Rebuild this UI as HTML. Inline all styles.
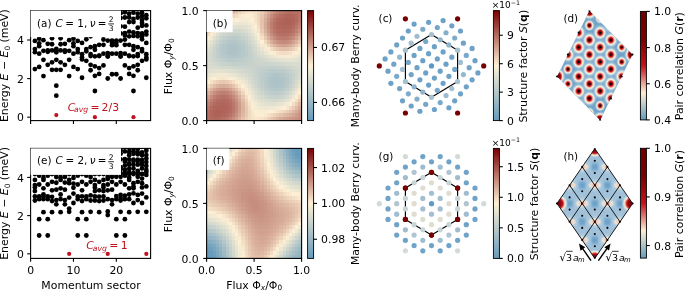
<!DOCTYPE html>
<html><head><meta charset="utf-8"><title>figure</title><style>html,body{margin:0;padding:0;background:#fff}svg{display:block}</style></head><body>
<svg width="685" height="291" viewBox="0 0 685 291" font-family="DejaVu Sans, Liberation Sans, sans-serif">
<rect width="685" height="291" fill="#fff"/>
<clipPath id="cl0"><rect x="30.6" y="10.6" width="120.0" height="110.0"/></clipPath>
<g clip-path="url(#cl0)">
<circle cx="34.89" cy="40.97" r="2.4" fill="#000"/>
<circle cx="34.89" cy="49.05" r="2.4" fill="#000"/>
<circle cx="34.89" cy="52.13" r="2.4" fill="#000"/>
<circle cx="34.89" cy="69.07" r="2.4" fill="#000"/>
<circle cx="39.17" cy="38.66" r="2.4" fill="#000"/>
<circle cx="39.17" cy="43.28" r="2.4" fill="#000"/>
<circle cx="39.17" cy="46.17" r="2.4" fill="#000"/>
<circle cx="39.17" cy="53.67" r="2.4" fill="#000"/>
<circle cx="39.17" cy="66.96" r="2.4" fill="#000"/>
<circle cx="43.46" cy="40.20" r="2.4" fill="#000"/>
<circle cx="43.46" cy="50.79" r="2.4" fill="#000"/>
<circle cx="43.46" cy="59.83" r="2.4" fill="#000"/>
<circle cx="43.46" cy="76.10" r="2.4" fill="#000"/>
<circle cx="47.74" cy="43.86" r="2.4" fill="#000"/>
<circle cx="47.74" cy="50.40" r="2.4" fill="#000"/>
<circle cx="47.74" cy="51.75" r="2.4" fill="#000"/>
<circle cx="47.74" cy="64.84" r="2.4" fill="#000"/>
<circle cx="52.03" cy="38.27" r="2.4" fill="#000"/>
<circle cx="52.03" cy="44.24" r="2.4" fill="#000"/>
<circle cx="52.03" cy="50.40" r="2.4" fill="#000"/>
<circle cx="52.03" cy="62.34" r="2.4" fill="#000"/>
<circle cx="52.03" cy="69.84" r="2.4" fill="#000"/>
<circle cx="56.31" cy="48.86" r="2.4" fill="#000"/>
<circle cx="56.31" cy="50.40" r="2.4" fill="#000"/>
<circle cx="56.31" cy="52.33" r="2.4" fill="#000"/>
<circle cx="56.31" cy="59.83" r="2.4" fill="#000"/>
<circle cx="56.31" cy="69.84" r="2.4" fill="#000"/>
<circle cx="56.31" cy="85.63" r="2.4" fill="#000"/>
<circle cx="56.31" cy="95.64" r="2.4" fill="#000"/>
<circle cx="82.03" cy="42.89" r="2.4" fill="#000"/>
<circle cx="82.03" cy="54.25" r="2.4" fill="#000"/>
<circle cx="82.03" cy="57.52" r="2.4" fill="#000"/>
<circle cx="82.03" cy="59.45" r="2.4" fill="#000"/>
<circle cx="82.03" cy="77.74" r="2.4" fill="#000"/>
<circle cx="86.31" cy="39.24" r="2.4" fill="#000"/>
<circle cx="86.31" cy="49.05" r="2.4" fill="#000"/>
<circle cx="86.31" cy="51.36" r="2.4" fill="#000"/>
<circle cx="86.31" cy="60.80" r="2.4" fill="#000"/>
<circle cx="90.60" cy="36.35" r="2.4" fill="#000"/>
<circle cx="90.60" cy="47.13" r="2.4" fill="#000"/>
<circle cx="90.60" cy="54.06" r="2.4" fill="#000"/>
<circle cx="90.60" cy="55.98" r="2.4" fill="#000"/>
<circle cx="90.60" cy="64.84" r="2.4" fill="#000"/>
<circle cx="90.60" cy="70.23" r="2.4" fill="#000"/>
<circle cx="94.89" cy="46.17" r="2.4" fill="#000"/>
<circle cx="94.89" cy="49.82" r="2.4" fill="#000"/>
<circle cx="94.89" cy="56.37" r="2.4" fill="#000"/>
<circle cx="94.89" cy="66.28" r="2.4" fill="#000"/>
<circle cx="94.89" cy="75.81" r="2.4" fill="#000"/>
<circle cx="94.89" cy="91.02" r="2.4" fill="#000"/>
<circle cx="99.17" cy="44.82" r="2.4" fill="#000"/>
<circle cx="99.17" cy="55.60" r="2.4" fill="#000"/>
<circle cx="99.17" cy="55.98" r="2.4" fill="#000"/>
<circle cx="99.17" cy="68.11" r="2.4" fill="#000"/>
<circle cx="99.17" cy="73.89" r="2.4" fill="#000"/>
<circle cx="103.46" cy="35.58" r="2.4" fill="#000"/>
<circle cx="103.46" cy="39.62" r="2.4" fill="#000"/>
<circle cx="103.46" cy="44.82" r="2.4" fill="#000"/>
<circle cx="103.46" cy="53.67" r="2.4" fill="#000"/>
<circle cx="103.46" cy="65.42" r="2.4" fill="#000"/>
<circle cx="107.74" cy="40.58" r="2.4" fill="#000"/>
<circle cx="107.74" cy="53.10" r="2.4" fill="#000"/>
<circle cx="107.74" cy="55.98" r="2.4" fill="#000"/>
<circle cx="107.74" cy="56.56" r="2.4" fill="#000"/>
<circle cx="107.74" cy="78.51" r="2.4" fill="#000"/>
<circle cx="112.03" cy="40.58" r="2.4" fill="#000"/>
<circle cx="112.03" cy="42.70" r="2.4" fill="#000"/>
<circle cx="112.03" cy="45.20" r="2.4" fill="#000"/>
<circle cx="112.03" cy="53.67" r="2.4" fill="#000"/>
<circle cx="112.03" cy="74.27" r="2.4" fill="#000"/>
<circle cx="60.60" cy="38.27" r="2.4" fill="#000"/>
<circle cx="60.60" cy="44.24" r="2.4" fill="#000"/>
<circle cx="60.60" cy="50.40" r="2.4" fill="#000"/>
<circle cx="60.60" cy="62.34" r="2.4" fill="#000"/>
<circle cx="60.60" cy="69.84" r="2.4" fill="#000"/>
<circle cx="64.89" cy="43.86" r="2.4" fill="#000"/>
<circle cx="64.89" cy="50.40" r="2.4" fill="#000"/>
<circle cx="64.89" cy="51.75" r="2.4" fill="#000"/>
<circle cx="64.89" cy="64.84" r="2.4" fill="#000"/>
<circle cx="69.17" cy="40.20" r="2.4" fill="#000"/>
<circle cx="69.17" cy="50.79" r="2.4" fill="#000"/>
<circle cx="69.17" cy="59.83" r="2.4" fill="#000"/>
<circle cx="69.17" cy="76.10" r="2.4" fill="#000"/>
<circle cx="73.46" cy="38.66" r="2.4" fill="#000"/>
<circle cx="73.46" cy="43.28" r="2.4" fill="#000"/>
<circle cx="73.46" cy="46.17" r="2.4" fill="#000"/>
<circle cx="73.46" cy="53.67" r="2.4" fill="#000"/>
<circle cx="73.46" cy="66.96" r="2.4" fill="#000"/>
<circle cx="77.74" cy="40.97" r="2.4" fill="#000"/>
<circle cx="77.74" cy="49.05" r="2.4" fill="#000"/>
<circle cx="77.74" cy="52.13" r="2.4" fill="#000"/>
<circle cx="77.74" cy="69.07" r="2.4" fill="#000"/>
<circle cx="116.31" cy="40.58" r="2.4" fill="#000"/>
<circle cx="116.31" cy="42.70" r="2.4" fill="#000"/>
<circle cx="116.31" cy="45.20" r="2.4" fill="#000"/>
<circle cx="116.31" cy="53.67" r="2.4" fill="#000"/>
<circle cx="116.31" cy="74.27" r="2.4" fill="#000"/>
<circle cx="120.60" cy="40.58" r="2.4" fill="#000"/>
<circle cx="120.60" cy="53.10" r="2.4" fill="#000"/>
<circle cx="120.60" cy="55.98" r="2.4" fill="#000"/>
<circle cx="120.60" cy="56.56" r="2.4" fill="#000"/>
<circle cx="120.60" cy="78.51" r="2.4" fill="#000"/>
<circle cx="124.89" cy="35.58" r="2.4" fill="#000"/>
<circle cx="124.89" cy="39.62" r="2.4" fill="#000"/>
<circle cx="124.89" cy="44.82" r="2.4" fill="#000"/>
<circle cx="124.89" cy="53.67" r="2.4" fill="#000"/>
<circle cx="124.89" cy="65.42" r="2.4" fill="#000"/>
<circle cx="129.17" cy="44.82" r="2.4" fill="#000"/>
<circle cx="129.17" cy="55.60" r="2.4" fill="#000"/>
<circle cx="129.17" cy="55.98" r="2.4" fill="#000"/>
<circle cx="129.17" cy="68.11" r="2.4" fill="#000"/>
<circle cx="129.17" cy="73.89" r="2.4" fill="#000"/>
<circle cx="133.46" cy="46.17" r="2.4" fill="#000"/>
<circle cx="133.46" cy="49.82" r="2.4" fill="#000"/>
<circle cx="133.46" cy="56.37" r="2.4" fill="#000"/>
<circle cx="133.46" cy="66.28" r="2.4" fill="#000"/>
<circle cx="133.46" cy="75.81" r="2.4" fill="#000"/>
<circle cx="133.46" cy="91.02" r="2.4" fill="#000"/>
<circle cx="137.74" cy="36.35" r="2.4" fill="#000"/>
<circle cx="137.74" cy="47.13" r="2.4" fill="#000"/>
<circle cx="137.74" cy="54.06" r="2.4" fill="#000"/>
<circle cx="137.74" cy="55.98" r="2.4" fill="#000"/>
<circle cx="137.74" cy="64.84" r="2.4" fill="#000"/>
<circle cx="137.74" cy="70.23" r="2.4" fill="#000"/>
<circle cx="142.03" cy="39.24" r="2.4" fill="#000"/>
<circle cx="142.03" cy="49.05" r="2.4" fill="#000"/>
<circle cx="142.03" cy="51.36" r="2.4" fill="#000"/>
<circle cx="142.03" cy="60.80" r="2.4" fill="#000"/>
<circle cx="146.31" cy="42.89" r="2.4" fill="#000"/>
<circle cx="146.31" cy="54.25" r="2.4" fill="#000"/>
<circle cx="146.31" cy="57.52" r="2.4" fill="#000"/>
<circle cx="146.31" cy="59.45" r="2.4" fill="#000"/>
<circle cx="146.31" cy="77.74" r="2.4" fill="#000"/>
<circle cx="120.60" cy="13.25" r="2.4" fill="#000"/>
<circle cx="120.60" cy="18.06" r="2.4" fill="#000"/>
<circle cx="120.60" cy="26.34" r="2.4" fill="#000"/>
<circle cx="120.60" cy="33.46" r="2.4" fill="#000"/>
<circle cx="124.89" cy="12.29" r="2.4" fill="#000"/>
<circle cx="124.89" cy="17.48" r="2.4" fill="#000"/>
<circle cx="124.89" cy="26.72" r="2.4" fill="#000"/>
<circle cx="124.89" cy="33.27" r="2.4" fill="#000"/>
<circle cx="129.17" cy="13.63" r="2.4" fill="#000"/>
<circle cx="129.17" cy="17.48" r="2.4" fill="#000"/>
<circle cx="129.17" cy="22.10" r="2.4" fill="#000"/>
<circle cx="129.17" cy="31.54" r="2.4" fill="#000"/>
<circle cx="129.17" cy="36.35" r="2.4" fill="#000"/>
<circle cx="133.46" cy="12.67" r="2.4" fill="#000"/>
<circle cx="133.46" cy="19.02" r="2.4" fill="#000"/>
<circle cx="133.46" cy="22.10" r="2.4" fill="#000"/>
<circle cx="133.46" cy="32.50" r="2.4" fill="#000"/>
<circle cx="133.46" cy="35.96" r="2.4" fill="#000"/>
<circle cx="137.74" cy="13.63" r="2.4" fill="#000"/>
<circle cx="137.74" cy="17.48" r="2.4" fill="#000"/>
<circle cx="137.74" cy="27.69" r="2.4" fill="#000"/>
<circle cx="137.74" cy="33.27" r="2.4" fill="#000"/>
<circle cx="142.03" cy="12.67" r="2.4" fill="#000"/>
<circle cx="142.03" cy="16.14" r="2.4" fill="#000"/>
<circle cx="142.03" cy="19.99" r="2.4" fill="#000"/>
<circle cx="142.03" cy="22.87" r="2.4" fill="#000"/>
<circle cx="142.03" cy="25.76" r="2.4" fill="#000"/>
<circle cx="142.03" cy="33.46" r="2.4" fill="#000"/>
<circle cx="142.03" cy="36.35" r="2.4" fill="#000"/>
<circle cx="146.31" cy="15.17" r="2.4" fill="#000"/>
<circle cx="146.31" cy="18.25" r="2.4" fill="#000"/>
<circle cx="146.31" cy="25.38" r="2.4" fill="#000"/>
<circle cx="146.31" cy="31.54" r="2.4" fill="#000"/>
<circle cx="146.31" cy="34.42" r="2.4" fill="#000"/>
<circle cx="56.31" cy="115.08" r="2.1" fill="#c1121f"/>
<circle cx="94.89" cy="117.20" r="2.1" fill="#c1121f"/>
<circle cx="133.46" cy="117.20" r="2.1" fill="#c1121f"/>
</g>
<rect x="30.6" y="10.6" width="120.0" height="110.0" fill="none" stroke="#000" stroke-width="1.1"/>
<rect x="30.6" y="10.6" width="90.4" height="26.5" fill="#fff"/>
<line x1="27.20" y1="117.20" x2="30.60" y2="117.20" stroke="#000" stroke-width="1.1"/>
<text x="23.80" y="121.40" font-size="10.85" text-anchor="end" fill="#000" >0</text>
<line x1="27.20" y1="78.60" x2="30.60" y2="78.60" stroke="#000" stroke-width="1.1"/>
<text x="23.80" y="82.80" font-size="10.85" text-anchor="end" fill="#000" >2</text>
<line x1="27.20" y1="40.00" x2="30.60" y2="40.00" stroke="#000" stroke-width="1.1"/>
<text x="23.80" y="44.20" font-size="10.85" text-anchor="end" fill="#000" >4</text>
<line x1="30.60" y1="120.60" x2="30.60" y2="124.00" stroke="#000" stroke-width="1.1"/>
<line x1="73.46" y1="120.60" x2="73.46" y2="124.00" stroke="#000" stroke-width="1.1"/>
<line x1="116.31" y1="120.60" x2="116.31" y2="124.00" stroke="#000" stroke-width="1.1"/>
<text transform="translate(8.30,65.60) rotate(-90)" font-size="10.9" text-anchor="middle">Energy <tspan font-style="italic">E</tspan> − <tspan font-style="italic">E</tspan><tspan font-size="7.3" dy="1.6">0</tspan><tspan dy="-1.6"> (meV)</tspan></text>
<text x="37" y="26.60" font-size="10.4">(a) <tspan font-style="italic" dx="0.7">C</tspan><tspan dx="-0.7"> = 1, </tspan><tspan font-style="italic" dx="-0.8">ν</tspan><tspan dx="-1.2"> =</tspan></text>
<text x="111.10" y="22.40" font-size="7.6" text-anchor="middle" fill="#000" >2</text>
<text x="111.10" y="31.10" font-size="7.6" text-anchor="middle" fill="#000" >3</text>
<line x1="108.20" y1="23.90" x2="114.00" y2="23.90" stroke="#000" stroke-width="0.8"/>
<text y="110.50" font-size="10.85" fill="#c1121f"><tspan x="67.7" font-style="italic">C</tspan><tspan x="74.0" font-size="7.7" dy="1.8" font-style="italic">avg</tspan><tspan x="90.5" dy="-1.8">=</tspan><tspan x="101.6">2/3</tspan></text>
<clipPath id="cl1"><rect x="30.6" y="148.4" width="120.0" height="110.0"/></clipPath>
<g clip-path="url(#cl1)">
<circle cx="34.89" cy="174.11" r="2.4" fill="#000"/>
<circle cx="34.89" cy="179.88" r="2.4" fill="#000"/>
<circle cx="34.89" cy="185.08" r="2.4" fill="#000"/>
<circle cx="34.89" cy="187.39" r="2.4" fill="#000"/>
<circle cx="34.89" cy="191.05" r="2.4" fill="#000"/>
<circle cx="34.89" cy="196.44" r="2.4" fill="#000"/>
<circle cx="34.89" cy="200.48" r="2.4" fill="#000"/>
<circle cx="39.17" cy="175.65" r="2.4" fill="#000"/>
<circle cx="39.17" cy="184.50" r="2.4" fill="#000"/>
<circle cx="39.17" cy="196.44" r="2.4" fill="#000"/>
<circle cx="39.17" cy="199.13" r="2.4" fill="#000"/>
<circle cx="39.17" cy="219.15" r="2.4" fill="#000"/>
<circle cx="39.17" cy="235.51" r="2.4" fill="#000"/>
<circle cx="43.46" cy="174.11" r="2.4" fill="#000"/>
<circle cx="43.46" cy="177.96" r="2.4" fill="#000"/>
<circle cx="43.46" cy="179.88" r="2.4" fill="#000"/>
<circle cx="43.46" cy="188.35" r="2.4" fill="#000"/>
<circle cx="43.46" cy="194.32" r="2.4" fill="#000"/>
<circle cx="43.46" cy="196.44" r="2.4" fill="#000"/>
<circle cx="43.46" cy="199.13" r="2.4" fill="#000"/>
<circle cx="43.46" cy="212.22" r="2.4" fill="#000"/>
<circle cx="47.74" cy="175.65" r="2.4" fill="#000"/>
<circle cx="47.74" cy="184.50" r="2.4" fill="#000"/>
<circle cx="47.74" cy="196.44" r="2.4" fill="#000"/>
<circle cx="47.74" cy="199.13" r="2.4" fill="#000"/>
<circle cx="47.74" cy="219.15" r="2.4" fill="#000"/>
<circle cx="47.74" cy="235.51" r="2.4" fill="#000"/>
<circle cx="52.03" cy="174.11" r="2.4" fill="#000"/>
<circle cx="52.03" cy="181.81" r="2.4" fill="#000"/>
<circle cx="52.03" cy="190.28" r="2.4" fill="#000"/>
<circle cx="52.03" cy="196.82" r="2.4" fill="#000"/>
<circle cx="52.03" cy="201.06" r="2.4" fill="#000"/>
<circle cx="52.03" cy="212.22" r="2.4" fill="#000"/>
<circle cx="56.31" cy="174.11" r="2.4" fill="#000"/>
<circle cx="56.31" cy="176.99" r="2.4" fill="#000"/>
<circle cx="56.31" cy="182.77" r="2.4" fill="#000"/>
<circle cx="56.31" cy="189.70" r="2.4" fill="#000"/>
<circle cx="56.31" cy="200.09" r="2.4" fill="#000"/>
<circle cx="56.31" cy="204.33" r="2.4" fill="#000"/>
<circle cx="60.60" cy="174.11" r="2.4" fill="#000"/>
<circle cx="60.60" cy="177.57" r="2.4" fill="#000"/>
<circle cx="60.60" cy="179.88" r="2.4" fill="#000"/>
<circle cx="60.60" cy="188.35" r="2.4" fill="#000"/>
<circle cx="60.60" cy="194.51" r="2.4" fill="#000"/>
<circle cx="60.60" cy="199.13" r="2.4" fill="#000"/>
<circle cx="60.60" cy="212.22" r="2.4" fill="#000"/>
<circle cx="64.89" cy="174.11" r="2.4" fill="#000"/>
<circle cx="64.89" cy="176.99" r="2.4" fill="#000"/>
<circle cx="64.89" cy="182.57" r="2.4" fill="#000"/>
<circle cx="64.89" cy="189.70" r="2.4" fill="#000"/>
<circle cx="64.89" cy="200.09" r="2.4" fill="#000"/>
<circle cx="64.89" cy="204.33" r="2.4" fill="#000"/>
<circle cx="69.17" cy="174.11" r="2.4" fill="#000"/>
<circle cx="69.17" cy="179.88" r="2.4" fill="#000"/>
<circle cx="69.17" cy="183.15" r="2.4" fill="#000"/>
<circle cx="69.17" cy="197.59" r="2.4" fill="#000"/>
<circle cx="69.17" cy="208.56" r="2.4" fill="#000"/>
<circle cx="69.17" cy="211.84" r="2.4" fill="#000"/>
<circle cx="73.46" cy="174.11" r="2.4" fill="#000"/>
<circle cx="73.46" cy="177.96" r="2.4" fill="#000"/>
<circle cx="73.46" cy="183.54" r="2.4" fill="#000"/>
<circle cx="73.46" cy="187.77" r="2.4" fill="#000"/>
<circle cx="73.46" cy="193.55" r="2.4" fill="#000"/>
<circle cx="73.46" cy="202.98" r="2.4" fill="#000"/>
<circle cx="77.74" cy="175.65" r="2.4" fill="#000"/>
<circle cx="77.74" cy="184.50" r="2.4" fill="#000"/>
<circle cx="77.74" cy="196.44" r="2.4" fill="#000"/>
<circle cx="77.74" cy="199.13" r="2.4" fill="#000"/>
<circle cx="77.74" cy="219.15" r="2.4" fill="#000"/>
<circle cx="77.74" cy="235.51" r="2.4" fill="#000"/>
<circle cx="82.03" cy="174.11" r="2.4" fill="#000"/>
<circle cx="82.03" cy="181.81" r="2.4" fill="#000"/>
<circle cx="82.03" cy="190.28" r="2.4" fill="#000"/>
<circle cx="82.03" cy="196.44" r="2.4" fill="#000"/>
<circle cx="82.03" cy="201.06" r="2.4" fill="#000"/>
<circle cx="82.03" cy="212.22" r="2.4" fill="#000"/>
<circle cx="86.31" cy="175.65" r="2.4" fill="#000"/>
<circle cx="86.31" cy="184.50" r="2.4" fill="#000"/>
<circle cx="86.31" cy="196.44" r="2.4" fill="#000"/>
<circle cx="86.31" cy="199.13" r="2.4" fill="#000"/>
<circle cx="86.31" cy="219.15" r="2.4" fill="#000"/>
<circle cx="86.31" cy="235.51" r="2.4" fill="#000"/>
<circle cx="90.60" cy="174.11" r="2.4" fill="#000"/>
<circle cx="90.60" cy="176.99" r="2.4" fill="#000"/>
<circle cx="90.60" cy="181.81" r="2.4" fill="#000"/>
<circle cx="90.60" cy="195.47" r="2.4" fill="#000"/>
<circle cx="90.60" cy="200.48" r="2.4" fill="#000"/>
<circle cx="90.60" cy="211.84" r="2.4" fill="#000"/>
<circle cx="94.89" cy="174.11" r="2.4" fill="#000"/>
<circle cx="94.89" cy="179.88" r="2.4" fill="#000"/>
<circle cx="94.89" cy="185.08" r="2.4" fill="#000"/>
<circle cx="94.89" cy="187.39" r="2.4" fill="#000"/>
<circle cx="94.89" cy="191.05" r="2.4" fill="#000"/>
<circle cx="94.89" cy="196.44" r="2.4" fill="#000"/>
<circle cx="94.89" cy="200.48" r="2.4" fill="#000"/>
<circle cx="99.17" cy="174.11" r="2.4" fill="#000"/>
<circle cx="99.17" cy="181.81" r="2.4" fill="#000"/>
<circle cx="99.17" cy="190.28" r="2.4" fill="#000"/>
<circle cx="99.17" cy="196.63" r="2.4" fill="#000"/>
<circle cx="99.17" cy="201.06" r="2.4" fill="#000"/>
<circle cx="99.17" cy="212.22" r="2.4" fill="#000"/>
<circle cx="103.46" cy="174.11" r="2.4" fill="#000"/>
<circle cx="103.46" cy="179.88" r="2.4" fill="#000"/>
<circle cx="103.46" cy="185.08" r="2.4" fill="#000"/>
<circle cx="103.46" cy="187.39" r="2.4" fill="#000"/>
<circle cx="103.46" cy="191.05" r="2.4" fill="#000"/>
<circle cx="103.46" cy="196.44" r="2.4" fill="#000"/>
<circle cx="103.46" cy="200.48" r="2.4" fill="#000"/>
<circle cx="107.74" cy="174.11" r="2.4" fill="#000"/>
<circle cx="107.74" cy="176.99" r="2.4" fill="#000"/>
<circle cx="107.74" cy="178.92" r="2.4" fill="#000"/>
<circle cx="107.74" cy="184.50" r="2.4" fill="#000"/>
<circle cx="107.74" cy="190.28" r="2.4" fill="#000"/>
<circle cx="107.74" cy="199.13" r="2.4" fill="#000"/>
<circle cx="107.74" cy="211.45" r="2.4" fill="#000"/>
<circle cx="107.74" cy="215.11" r="2.4" fill="#000"/>
<circle cx="112.03" cy="174.11" r="2.4" fill="#000"/>
<circle cx="112.03" cy="176.80" r="2.4" fill="#000"/>
<circle cx="112.03" cy="181.81" r="2.4" fill="#000"/>
<circle cx="112.03" cy="189.70" r="2.4" fill="#000"/>
<circle cx="112.03" cy="200.09" r="2.4" fill="#000"/>
<circle cx="112.03" cy="204.33" r="2.4" fill="#000"/>
<circle cx="116.31" cy="174.11" r="2.4" fill="#000"/>
<circle cx="116.31" cy="176.80" r="2.4" fill="#000"/>
<circle cx="116.31" cy="184.50" r="2.4" fill="#000"/>
<circle cx="116.31" cy="196.05" r="2.4" fill="#000"/>
<circle cx="116.31" cy="199.13" r="2.4" fill="#000"/>
<circle cx="116.31" cy="219.15" r="2.4" fill="#000"/>
<circle cx="116.31" cy="235.51" r="2.4" fill="#000"/>
<circle cx="120.60" cy="174.11" r="2.4" fill="#000"/>
<circle cx="120.60" cy="176.80" r="2.4" fill="#000"/>
<circle cx="120.60" cy="181.81" r="2.4" fill="#000"/>
<circle cx="120.60" cy="194.90" r="2.4" fill="#000"/>
<circle cx="120.60" cy="197.78" r="2.4" fill="#000"/>
<circle cx="120.60" cy="200.48" r="2.4" fill="#000"/>
<circle cx="120.60" cy="211.84" r="2.4" fill="#000"/>
<circle cx="124.89" cy="175.65" r="2.4" fill="#000"/>
<circle cx="124.89" cy="184.50" r="2.4" fill="#000"/>
<circle cx="124.89" cy="195.67" r="2.4" fill="#000"/>
<circle cx="124.89" cy="199.13" r="2.4" fill="#000"/>
<circle cx="124.89" cy="219.15" r="2.4" fill="#000"/>
<circle cx="124.89" cy="235.51" r="2.4" fill="#000"/>
<circle cx="129.17" cy="174.11" r="2.4" fill="#000"/>
<circle cx="129.17" cy="177.57" r="2.4" fill="#000"/>
<circle cx="129.17" cy="179.88" r="2.4" fill="#000"/>
<circle cx="129.17" cy="188.35" r="2.4" fill="#000"/>
<circle cx="129.17" cy="194.51" r="2.4" fill="#000"/>
<circle cx="129.17" cy="199.13" r="2.4" fill="#000"/>
<circle cx="129.17" cy="212.22" r="2.4" fill="#000"/>
<circle cx="133.46" cy="174.11" r="2.4" fill="#000"/>
<circle cx="133.46" cy="183.15" r="2.4" fill="#000"/>
<circle cx="133.46" cy="186.43" r="2.4" fill="#000"/>
<circle cx="133.46" cy="188.35" r="2.4" fill="#000"/>
<circle cx="133.46" cy="193.36" r="2.4" fill="#000"/>
<circle cx="133.46" cy="202.98" r="2.4" fill="#000"/>
<circle cx="137.74" cy="174.11" r="2.4" fill="#000"/>
<circle cx="137.74" cy="176.80" r="2.4" fill="#000"/>
<circle cx="137.74" cy="181.81" r="2.4" fill="#000"/>
<circle cx="137.74" cy="194.90" r="2.4" fill="#000"/>
<circle cx="137.74" cy="200.09" r="2.4" fill="#000"/>
<circle cx="137.74" cy="211.84" r="2.4" fill="#000"/>
<circle cx="142.03" cy="174.11" r="2.4" fill="#000"/>
<circle cx="142.03" cy="178.53" r="2.4" fill="#000"/>
<circle cx="142.03" cy="183.15" r="2.4" fill="#000"/>
<circle cx="142.03" cy="187.39" r="2.4" fill="#000"/>
<circle cx="142.03" cy="193.55" r="2.4" fill="#000"/>
<circle cx="142.03" cy="202.98" r="2.4" fill="#000"/>
<circle cx="146.31" cy="174.88" r="2.4" fill="#000"/>
<circle cx="146.31" cy="186.43" r="2.4" fill="#000"/>
<circle cx="146.31" cy="197.40" r="2.4" fill="#000"/>
<circle cx="146.31" cy="211.84" r="2.4" fill="#000"/>
<circle cx="120.60" cy="173.22" r="2.4" fill="#000"/>
<circle cx="120.60" cy="169.40" r="2.4" fill="#000"/>
<circle cx="120.60" cy="167.19" r="2.4" fill="#000"/>
<circle cx="120.60" cy="159.35" r="2.4" fill="#000"/>
<circle cx="120.60" cy="153.71" r="2.4" fill="#000"/>
<circle cx="120.60" cy="150.48" r="2.4" fill="#000"/>
<circle cx="120.60" cy="147.36" r="2.4" fill="#000"/>
<circle cx="124.89" cy="172.97" r="2.4" fill="#000"/>
<circle cx="124.89" cy="169.62" r="2.4" fill="#000"/>
<circle cx="124.89" cy="165.56" r="2.4" fill="#000"/>
<circle cx="124.89" cy="161.67" r="2.4" fill="#000"/>
<circle cx="124.89" cy="159.24" r="2.4" fill="#000"/>
<circle cx="124.89" cy="151.46" r="2.4" fill="#000"/>
<circle cx="124.89" cy="146.71" r="2.4" fill="#000"/>
<circle cx="129.17" cy="172.20" r="2.4" fill="#000"/>
<circle cx="129.17" cy="168.87" r="2.4" fill="#000"/>
<circle cx="129.17" cy="164.85" r="2.4" fill="#000"/>
<circle cx="129.17" cy="163.45" r="2.4" fill="#000"/>
<circle cx="129.17" cy="159.47" r="2.4" fill="#000"/>
<circle cx="129.17" cy="155.22" r="2.4" fill="#000"/>
<circle cx="129.17" cy="151.93" r="2.4" fill="#000"/>
<circle cx="129.17" cy="148.04" r="2.4" fill="#000"/>
<circle cx="133.46" cy="173.11" r="2.4" fill="#000"/>
<circle cx="133.46" cy="168.59" r="2.4" fill="#000"/>
<circle cx="133.46" cy="164.86" r="2.4" fill="#000"/>
<circle cx="133.46" cy="161.04" r="2.4" fill="#000"/>
<circle cx="133.46" cy="159.61" r="2.4" fill="#000"/>
<circle cx="133.46" cy="153.80" r="2.4" fill="#000"/>
<circle cx="133.46" cy="151.20" r="2.4" fill="#000"/>
<circle cx="133.46" cy="148.51" r="2.4" fill="#000"/>
<circle cx="137.74" cy="173.14" r="2.4" fill="#000"/>
<circle cx="137.74" cy="170.85" r="2.4" fill="#000"/>
<circle cx="137.74" cy="164.70" r="2.4" fill="#000"/>
<circle cx="137.74" cy="161.55" r="2.4" fill="#000"/>
<circle cx="137.74" cy="159.65" r="2.4" fill="#000"/>
<circle cx="137.74" cy="154.32" r="2.4" fill="#000"/>
<circle cx="137.74" cy="152.62" r="2.4" fill="#000"/>
<circle cx="137.74" cy="148.96" r="2.4" fill="#000"/>
<circle cx="142.03" cy="173.79" r="2.4" fill="#000"/>
<circle cx="142.03" cy="168.38" r="2.4" fill="#000"/>
<circle cx="142.03" cy="164.68" r="2.4" fill="#000"/>
<circle cx="142.03" cy="163.50" r="2.4" fill="#000"/>
<circle cx="142.03" cy="159.97" r="2.4" fill="#000"/>
<circle cx="142.03" cy="155.30" r="2.4" fill="#000"/>
<circle cx="142.03" cy="152.32" r="2.4" fill="#000"/>
<circle cx="142.03" cy="146.74" r="2.4" fill="#000"/>
<circle cx="146.31" cy="172.10" r="2.4" fill="#000"/>
<circle cx="146.31" cy="170.01" r="2.4" fill="#000"/>
<circle cx="146.31" cy="165.97" r="2.4" fill="#000"/>
<circle cx="146.31" cy="162.10" r="2.4" fill="#000"/>
<circle cx="146.31" cy="158.38" r="2.4" fill="#000"/>
<circle cx="146.31" cy="155.03" r="2.4" fill="#000"/>
<circle cx="146.31" cy="150.80" r="2.4" fill="#000"/>
<circle cx="146.31" cy="148.27" r="2.4" fill="#000"/>
<circle cx="69.17" cy="253.80" r="2.1" fill="#c1121f"/>
<circle cx="107.74" cy="253.80" r="2.1" fill="#c1121f"/>
<circle cx="146.31" cy="253.80" r="2.1" fill="#c1121f"/>
</g>
<rect x="30.6" y="148.4" width="120.0" height="109.99999999999997" fill="none" stroke="#000" stroke-width="1.1"/>
<rect x="30.6" y="148.4" width="90.4" height="26.5" fill="#fff"/>
<line x1="27.20" y1="253.80" x2="30.60" y2="253.80" stroke="#000" stroke-width="1.1"/>
<text x="23.80" y="258.00" font-size="10.85" text-anchor="end" fill="#000" >0</text>
<line x1="27.20" y1="215.60" x2="30.60" y2="215.60" stroke="#000" stroke-width="1.1"/>
<text x="23.80" y="219.80" font-size="10.85" text-anchor="end" fill="#000" >2</text>
<line x1="27.20" y1="177.40" x2="30.60" y2="177.40" stroke="#000" stroke-width="1.1"/>
<text x="23.80" y="181.60" font-size="10.85" text-anchor="end" fill="#000" >4</text>
<line x1="30.60" y1="258.40" x2="30.60" y2="261.80" stroke="#000" stroke-width="1.1"/>
<text x="30.60" y="274.20" font-size="10.85" text-anchor="middle" fill="#000" >0</text>
<line x1="73.46" y1="258.40" x2="73.46" y2="261.80" stroke="#000" stroke-width="1.1"/>
<text x="73.46" y="274.20" font-size="10.85" text-anchor="middle" fill="#000" >10</text>
<line x1="116.31" y1="258.40" x2="116.31" y2="261.80" stroke="#000" stroke-width="1.1"/>
<text x="116.31" y="274.20" font-size="10.85" text-anchor="middle" fill="#000" >20</text>
<text transform="translate(8.30,203.40) rotate(-90)" font-size="10.9" text-anchor="middle">Energy <tspan font-style="italic">E</tspan> − <tspan font-style="italic">E</tspan><tspan font-size="7.3" dy="1.6">0</tspan><tspan dy="-1.6"> (meV)</tspan></text>
<text x="37" y="164.40" font-size="10.4">(e) <tspan font-style="italic" dx="0.7">C</tspan><tspan dx="-0.7"> = 2, </tspan><tspan font-style="italic" dx="-0.8">ν</tspan><tspan dx="-1.2"> =</tspan></text>
<text x="111.10" y="160.20" font-size="7.6" text-anchor="middle" fill="#000" >2</text>
<text x="111.10" y="168.90" font-size="7.6" text-anchor="middle" fill="#000" >3</text>
<line x1="108.20" y1="161.70" x2="114.00" y2="161.70" stroke="#000" stroke-width="0.8"/>
<text y="249.40" font-size="10.85" fill="#c1121f"><tspan x="86.3" font-style="italic">C</tspan><tspan x="92.7" font-size="7.7" dy="1.8" font-style="italic">avg</tspan><tspan x="109.2" dy="-1.8">=</tspan><tspan x="120.8">1</tspan></text>
<text x="91.00" y="288.60" font-size="10.9" text-anchor="middle" fill="#000" >Momentum sector</text>
<g shape-rendering="crispEdges">
<rect x="206.6" y="10.6" width="3.6" height="4.1" fill="#c78e7e"/>
<rect x="209.8" y="10.6" width="3.6" height="4.1" fill="#c89180"/>
<rect x="212.9" y="10.6" width="3.6" height="4.1" fill="#ca9383"/>
<rect x="216.1" y="10.6" width="3.6" height="4.1" fill="#cc9786"/>
<rect x="219.3" y="10.6" width="3.6" height="4.1" fill="#ce9c8a"/>
<rect x="222.4" y="10.6" width="3.6" height="4.1" fill="#d2a28f"/>
<rect x="225.6" y="10.6" width="3.6" height="4.1" fill="#d6a996"/>
<rect x="228.8" y="10.6" width="3.6" height="4.1" fill="#dbb39f"/>
<rect x="231.9" y="10.6" width="3.6" height="4.1" fill="#e1bea8"/>
<rect x="235.1" y="10.6" width="3.6" height="4.1" fill="#e7c9b3"/>
<rect x="238.3" y="10.6" width="3.6" height="4.1" fill="#eed4bc"/>
<rect x="241.4" y="10.6" width="3.6" height="4.1" fill="#f3dec5"/>
<rect x="244.6" y="10.6" width="3.6" height="4.1" fill="#f7e5cb"/>
<rect x="247.8" y="10.6" width="3.6" height="4.1" fill="#f8e8ce"/>
<rect x="250.9" y="10.6" width="3.6" height="4.1" fill="#f8e7cd"/>
<rect x="254.1" y="10.6" width="3.6" height="4.1" fill="#f5e2c9"/>
<rect x="257.3" y="10.6" width="3.6" height="4.1" fill="#f0d9c0"/>
<rect x="260.4" y="10.6" width="3.6" height="4.1" fill="#e9ccb5"/>
<rect x="263.6" y="10.6" width="3.6" height="4.1" fill="#e0bca7"/>
<rect x="266.8" y="10.6" width="3.6" height="4.1" fill="#d7ab98"/>
<rect x="269.9" y="10.6" width="3.6" height="4.1" fill="#ce9b8a"/>
<rect x="273.1" y="10.6" width="3.6" height="4.1" fill="#c68d7d"/>
<rect x="276.3" y="10.6" width="3.6" height="4.1" fill="#c08273"/>
<rect x="279.4" y="10.6" width="3.6" height="4.1" fill="#bb796c"/>
<rect x="282.6" y="10.6" width="3.6" height="4.1" fill="#b87467"/>
<rect x="285.8" y="10.6" width="3.6" height="4.1" fill="#b67063"/>
<rect x="288.9" y="10.6" width="3.6" height="4.1" fill="#b56e62"/>
<rect x="292.1" y="10.6" width="3.6" height="4.1" fill="#b56e62"/>
<rect x="295.3" y="10.6" width="3.6" height="4.1" fill="#b67064"/>
<rect x="298.4" y="10.6" width="3.6" height="4.1" fill="#b87467"/>
<rect x="206.6" y="14.3" width="3.6" height="4.1" fill="#cb9685"/>
<rect x="209.8" y="14.3" width="3.6" height="4.1" fill="#cf9d8b"/>
<rect x="212.9" y="14.3" width="3.6" height="4.1" fill="#d3a491"/>
<rect x="216.1" y="14.3" width="3.6" height="4.1" fill="#d6ab97"/>
<rect x="219.3" y="14.3" width="3.6" height="4.1" fill="#dab19e"/>
<rect x="222.4" y="14.3" width="3.6" height="4.1" fill="#deb9a4"/>
<rect x="225.6" y="14.3" width="3.6" height="4.1" fill="#e3c1ab"/>
<rect x="228.8" y="14.3" width="3.6" height="4.1" fill="#e8cab3"/>
<rect x="231.9" y="14.3" width="3.6" height="4.1" fill="#edd4bc"/>
<rect x="235.1" y="14.3" width="3.6" height="4.1" fill="#f2ddc4"/>
<rect x="238.3" y="14.3" width="3.6" height="4.1" fill="#f7e5cb"/>
<rect x="241.4" y="14.3" width="3.6" height="4.1" fill="#faebd1"/>
<rect x="244.6" y="14.3" width="3.6" height="4.1" fill="#fcefd4"/>
<rect x="247.8" y="14.3" width="3.6" height="4.1" fill="#fcefd4"/>
<rect x="250.9" y="14.3" width="3.6" height="4.1" fill="#faebd0"/>
<rect x="254.1" y="14.3" width="3.6" height="4.1" fill="#f5e2c9"/>
<rect x="257.3" y="14.3" width="3.6" height="4.1" fill="#eed5bd"/>
<rect x="260.4" y="14.3" width="3.6" height="4.1" fill="#e5c5af"/>
<rect x="263.6" y="14.3" width="3.6" height="4.1" fill="#dbb29e"/>
<rect x="266.8" y="14.3" width="3.6" height="4.1" fill="#d09f8d"/>
<rect x="269.9" y="14.3" width="3.6" height="4.1" fill="#c68d7d"/>
<rect x="273.1" y="14.3" width="3.6" height="4.1" fill="#be7e70"/>
<rect x="276.3" y="14.3" width="3.6" height="4.1" fill="#b87366"/>
<rect x="279.4" y="14.3" width="3.6" height="4.1" fill="#b46c60"/>
<rect x="282.6" y="14.3" width="3.6" height="4.1" fill="#b2685c"/>
<rect x="285.8" y="14.3" width="3.6" height="4.1" fill="#b0655a"/>
<rect x="288.9" y="14.3" width="3.6" height="4.1" fill="#b06559"/>
<rect x="292.1" y="14.3" width="3.6" height="4.1" fill="#b1675b"/>
<rect x="295.3" y="14.3" width="3.6" height="4.1" fill="#b46b5f"/>
<rect x="298.4" y="14.3" width="3.6" height="4.1" fill="#b87366"/>
<rect x="206.6" y="17.9" width="3.6" height="4.1" fill="#d1a08e"/>
<rect x="209.8" y="17.9" width="3.6" height="4.1" fill="#d7ac99"/>
<rect x="212.9" y="17.9" width="3.6" height="4.1" fill="#ddb7a2"/>
<rect x="216.1" y="17.9" width="3.6" height="4.1" fill="#e3c1ab"/>
<rect x="219.3" y="17.9" width="3.6" height="4.1" fill="#e8cab4"/>
<rect x="222.4" y="17.9" width="3.6" height="4.1" fill="#edd3bb"/>
<rect x="225.6" y="17.9" width="3.6" height="4.1" fill="#f2dcc3"/>
<rect x="228.8" y="17.9" width="3.6" height="4.1" fill="#f6e4ca"/>
<rect x="231.9" y="17.9" width="3.6" height="4.1" fill="#fbecd1"/>
<rect x="235.1" y="17.9" width="3.6" height="4.1" fill="#fbefd5"/>
<rect x="238.3" y="17.9" width="3.6" height="4.1" fill="#f8edd4"/>
<rect x="241.4" y="17.9" width="3.6" height="4.1" fill="#f6ecd4"/>
<rect x="244.6" y="17.9" width="3.6" height="4.1" fill="#f6ecd4"/>
<rect x="247.8" y="17.9" width="3.6" height="4.1" fill="#f8edd4"/>
<rect x="250.9" y="17.9" width="3.6" height="4.1" fill="#fdf0d5"/>
<rect x="254.1" y="17.9" width="3.6" height="4.1" fill="#f7e4cb"/>
<rect x="257.3" y="17.9" width="3.6" height="4.1" fill="#eed5bd"/>
<rect x="260.4" y="17.9" width="3.6" height="4.1" fill="#e3c1ab"/>
<rect x="263.6" y="17.9" width="3.6" height="4.1" fill="#d7ac98"/>
<rect x="266.8" y="17.9" width="3.6" height="4.1" fill="#cb9685"/>
<rect x="269.9" y="17.9" width="3.6" height="4.1" fill="#c18375"/>
<rect x="273.1" y="17.9" width="3.6" height="4.1" fill="#b97568"/>
<rect x="276.3" y="17.9" width="3.6" height="4.1" fill="#b46b5f"/>
<rect x="279.4" y="17.9" width="3.6" height="4.1" fill="#b1665b"/>
<rect x="282.6" y="17.9" width="3.6" height="4.1" fill="#af6358"/>
<rect x="285.8" y="17.9" width="3.6" height="4.1" fill="#ae6156"/>
<rect x="288.9" y="17.9" width="3.6" height="4.1" fill="#ae6156"/>
<rect x="292.1" y="17.9" width="3.6" height="4.1" fill="#b06459"/>
<rect x="295.3" y="17.9" width="3.6" height="4.1" fill="#b36b5f"/>
<rect x="298.4" y="17.9" width="3.6" height="4.1" fill="#b97669"/>
<rect x="206.6" y="21.6" width="3.6" height="4.1" fill="#d8ad9a"/>
<rect x="209.8" y="21.6" width="3.6" height="4.1" fill="#e1bda8"/>
<rect x="212.9" y="21.6" width="3.6" height="4.1" fill="#e9ccb5"/>
<rect x="216.1" y="21.6" width="3.6" height="4.1" fill="#f0d9c1"/>
<rect x="219.3" y="21.6" width="3.6" height="4.1" fill="#f7e4cb"/>
<rect x="222.4" y="21.6" width="3.6" height="4.1" fill="#fceed4"/>
<rect x="225.6" y="21.6" width="3.6" height="4.1" fill="#f9eed4"/>
<rect x="228.8" y="21.6" width="3.6" height="4.1" fill="#f4ebd3"/>
<rect x="231.9" y="21.6" width="3.6" height="4.1" fill="#f0e9d3"/>
<rect x="235.1" y="21.6" width="3.6" height="4.1" fill="#ede7d2"/>
<rect x="238.3" y="21.6" width="3.6" height="4.1" fill="#ece6d2"/>
<rect x="241.4" y="21.6" width="3.6" height="4.1" fill="#ece6d2"/>
<rect x="244.6" y="21.6" width="3.6" height="4.1" fill="#eee7d2"/>
<rect x="247.8" y="21.6" width="3.6" height="4.1" fill="#f2ead3"/>
<rect x="250.9" y="21.6" width="3.6" height="4.1" fill="#f8edd4"/>
<rect x="254.1" y="21.6" width="3.6" height="4.1" fill="#f9e9cf"/>
<rect x="257.3" y="21.6" width="3.6" height="4.1" fill="#efd7be"/>
<rect x="260.4" y="21.6" width="3.6" height="4.1" fill="#e3c1ab"/>
<rect x="263.6" y="21.6" width="3.6" height="4.1" fill="#d6a996"/>
<rect x="266.8" y="21.6" width="3.6" height="4.1" fill="#c99282"/>
<rect x="269.9" y="21.6" width="3.6" height="4.1" fill="#be7f71"/>
<rect x="273.1" y="21.6" width="3.6" height="4.1" fill="#b77164"/>
<rect x="276.3" y="21.6" width="3.6" height="4.1" fill="#b2695d"/>
<rect x="279.4" y="21.6" width="3.6" height="4.1" fill="#b06559"/>
<rect x="282.6" y="21.6" width="3.6" height="4.1" fill="#af6358"/>
<rect x="285.8" y="21.6" width="3.6" height="4.1" fill="#ae6257"/>
<rect x="288.9" y="21.6" width="3.6" height="4.1" fill="#af6257"/>
<rect x="292.1" y="21.6" width="3.6" height="4.1" fill="#b1665b"/>
<rect x="295.3" y="21.6" width="3.6" height="4.1" fill="#b66f63"/>
<rect x="298.4" y="21.6" width="3.6" height="4.1" fill="#bd7d6f"/>
<rect x="206.6" y="25.3" width="3.6" height="4.1" fill="#e0bca7"/>
<rect x="209.8" y="25.3" width="3.6" height="4.1" fill="#ebcfb8"/>
<rect x="212.9" y="25.3" width="3.6" height="4.1" fill="#f5e1c8"/>
<rect x="216.1" y="25.3" width="3.6" height="4.1" fill="#fcf0d5"/>
<rect x="219.3" y="25.3" width="3.6" height="4.1" fill="#f4ebd4"/>
<rect x="222.4" y="25.3" width="3.6" height="4.1" fill="#ede7d2"/>
<rect x="225.6" y="25.3" width="3.6" height="4.1" fill="#e8e4d1"/>
<rect x="228.8" y="25.3" width="3.6" height="4.1" fill="#e3e2d1"/>
<rect x="231.9" y="25.3" width="3.6" height="4.1" fill="#e1e0d0"/>
<rect x="235.1" y="25.3" width="3.6" height="4.1" fill="#dfdfd0"/>
<rect x="238.3" y="25.3" width="3.6" height="4.1" fill="#dfdfd0"/>
<rect x="241.4" y="25.3" width="3.6" height="4.1" fill="#e1e0d0"/>
<rect x="244.6" y="25.3" width="3.6" height="4.1" fill="#e5e2d1"/>
<rect x="247.8" y="25.3" width="3.6" height="4.1" fill="#eae5d2"/>
<rect x="250.9" y="25.3" width="3.6" height="4.1" fill="#f2ead3"/>
<rect x="254.1" y="25.3" width="3.6" height="4.1" fill="#fdf0d5"/>
<rect x="257.3" y="25.3" width="3.6" height="4.1" fill="#f2dcc3"/>
<rect x="260.4" y="25.3" width="3.6" height="4.1" fill="#e5c4ae"/>
<rect x="263.6" y="25.3" width="3.6" height="4.1" fill="#d7ab98"/>
<rect x="266.8" y="25.3" width="3.6" height="4.1" fill="#ca9383"/>
<rect x="269.9" y="25.3" width="3.6" height="4.1" fill="#bf7f71"/>
<rect x="273.1" y="25.3" width="3.6" height="4.1" fill="#b77164"/>
<rect x="276.3" y="25.3" width="3.6" height="4.1" fill="#b2695d"/>
<rect x="279.4" y="25.3" width="3.6" height="4.1" fill="#b1665b"/>
<rect x="282.6" y="25.3" width="3.6" height="4.1" fill="#b0655a"/>
<rect x="285.8" y="25.3" width="3.6" height="4.1" fill="#b0655a"/>
<rect x="288.9" y="25.3" width="3.6" height="4.1" fill="#b1665b"/>
<rect x="292.1" y="25.3" width="3.6" height="4.1" fill="#b46c60"/>
<rect x="295.3" y="25.3" width="3.6" height="4.1" fill="#ba7669"/>
<rect x="298.4" y="25.3" width="3.6" height="4.1" fill="#c28677"/>
<rect x="206.6" y="28.9" width="3.6" height="4.1" fill="#e9cdb6"/>
<rect x="209.8" y="28.9" width="3.6" height="4.1" fill="#f5e2c9"/>
<rect x="212.9" y="28.9" width="3.6" height="4.1" fill="#f9eed4"/>
<rect x="216.1" y="28.9" width="3.6" height="4.1" fill="#eee8d3"/>
<rect x="219.3" y="28.9" width="3.6" height="4.1" fill="#e5e2d1"/>
<rect x="222.4" y="28.9" width="3.6" height="4.1" fill="#ddded0"/>
<rect x="225.6" y="28.9" width="3.6" height="4.1" fill="#d8dbcf"/>
<rect x="228.8" y="28.9" width="3.6" height="4.1" fill="#d4d9ce"/>
<rect x="231.9" y="28.9" width="3.6" height="4.1" fill="#d2d8ce"/>
<rect x="235.1" y="28.9" width="3.6" height="4.1" fill="#d2d8ce"/>
<rect x="238.3" y="28.9" width="3.6" height="4.1" fill="#d3d8ce"/>
<rect x="241.4" y="28.9" width="3.6" height="4.1" fill="#d6dacf"/>
<rect x="244.6" y="28.9" width="3.6" height="4.1" fill="#dbddcf"/>
<rect x="247.8" y="28.9" width="3.6" height="4.1" fill="#e2e1d1"/>
<rect x="250.9" y="28.9" width="3.6" height="4.1" fill="#ece6d2"/>
<rect x="254.1" y="28.9" width="3.6" height="4.1" fill="#f7edd4"/>
<rect x="257.3" y="28.9" width="3.6" height="4.1" fill="#f6e4ca"/>
<rect x="260.4" y="28.9" width="3.6" height="4.1" fill="#e8cbb4"/>
<rect x="263.6" y="28.9" width="3.6" height="4.1" fill="#dab19d"/>
<rect x="266.8" y="28.9" width="3.6" height="4.1" fill="#cd9988"/>
<rect x="269.9" y="28.9" width="3.6" height="4.1" fill="#c18475"/>
<rect x="273.1" y="28.9" width="3.6" height="4.1" fill="#b97568"/>
<rect x="276.3" y="28.9" width="3.6" height="4.1" fill="#b46d61"/>
<rect x="279.4" y="28.9" width="3.6" height="4.1" fill="#b2695e"/>
<rect x="282.6" y="28.9" width="3.6" height="4.1" fill="#b2695d"/>
<rect x="285.8" y="28.9" width="3.6" height="4.1" fill="#b2695e"/>
<rect x="288.9" y="28.9" width="3.6" height="4.1" fill="#b46c60"/>
<rect x="292.1" y="28.9" width="3.6" height="4.1" fill="#b87467"/>
<rect x="295.3" y="28.9" width="3.6" height="4.1" fill="#bf8072"/>
<rect x="298.4" y="28.9" width="3.6" height="4.1" fill="#c99382"/>
<rect x="206.6" y="32.6" width="3.6" height="4.1" fill="#f3dec5"/>
<rect x="209.8" y="32.6" width="3.6" height="4.1" fill="#faeed5"/>
<rect x="212.9" y="32.6" width="3.6" height="4.1" fill="#ece7d2"/>
<rect x="216.1" y="32.6" width="3.6" height="4.1" fill="#e1e0d0"/>
<rect x="219.3" y="32.6" width="3.6" height="4.1" fill="#d7dbcf"/>
<rect x="222.4" y="32.6" width="3.6" height="4.1" fill="#cfd6cd"/>
<rect x="225.6" y="32.6" width="3.6" height="4.1" fill="#cad3cd"/>
<rect x="228.8" y="32.6" width="3.6" height="4.1" fill="#c6d1cc"/>
<rect x="231.9" y="32.6" width="3.6" height="4.1" fill="#c5d1cc"/>
<rect x="235.1" y="32.6" width="3.6" height="4.1" fill="#c6d1cc"/>
<rect x="238.3" y="32.6" width="3.6" height="4.1" fill="#c8d2cc"/>
<rect x="241.4" y="32.6" width="3.6" height="4.1" fill="#ccd5cd"/>
<rect x="244.6" y="32.6" width="3.6" height="4.1" fill="#d2d8ce"/>
<rect x="247.8" y="32.6" width="3.6" height="4.1" fill="#daddcf"/>
<rect x="250.9" y="32.6" width="3.6" height="4.1" fill="#e4e2d1"/>
<rect x="254.1" y="32.6" width="3.6" height="4.1" fill="#f0e9d3"/>
<rect x="257.3" y="32.6" width="3.6" height="4.1" fill="#fceed3"/>
<rect x="260.4" y="32.6" width="3.6" height="4.1" fill="#eed5bd"/>
<rect x="263.6" y="32.6" width="3.6" height="4.1" fill="#e0bba6"/>
<rect x="266.8" y="32.6" width="3.6" height="4.1" fill="#d2a390"/>
<rect x="269.9" y="32.6" width="3.6" height="4.1" fill="#c68e7e"/>
<rect x="273.1" y="32.6" width="3.6" height="4.1" fill="#be7e70"/>
<rect x="276.3" y="32.6" width="3.6" height="4.1" fill="#b87467"/>
<rect x="279.4" y="32.6" width="3.6" height="4.1" fill="#b66f63"/>
<rect x="282.6" y="32.6" width="3.6" height="4.1" fill="#b56e62"/>
<rect x="285.8" y="32.6" width="3.6" height="4.1" fill="#b67063"/>
<rect x="288.9" y="32.6" width="3.6" height="4.1" fill="#b97568"/>
<rect x="292.1" y="32.6" width="3.6" height="4.1" fill="#be7f70"/>
<rect x="295.3" y="32.6" width="3.6" height="4.1" fill="#c68e7e"/>
<rect x="298.4" y="32.6" width="3.6" height="4.1" fill="#d2a28f"/>
<rect x="206.6" y="36.3" width="3.6" height="4.1" fill="#fdefd4"/>
<rect x="209.8" y="36.3" width="3.6" height="4.1" fill="#efe8d3"/>
<rect x="212.9" y="36.3" width="3.6" height="4.1" fill="#e1e0d0"/>
<rect x="216.1" y="36.3" width="3.6" height="4.1" fill="#d5dace"/>
<rect x="219.3" y="36.3" width="3.6" height="4.1" fill="#cbd4cd"/>
<rect x="222.4" y="36.3" width="3.6" height="4.1" fill="#c4d0cc"/>
<rect x="225.6" y="36.3" width="3.6" height="4.1" fill="#becdcb"/>
<rect x="228.8" y="36.3" width="3.6" height="4.1" fill="#bbcbca"/>
<rect x="231.9" y="36.3" width="3.6" height="4.1" fill="#bacaca"/>
<rect x="235.1" y="36.3" width="3.6" height="4.1" fill="#bccbca"/>
<rect x="238.3" y="36.3" width="3.6" height="4.1" fill="#bfcdcb"/>
<rect x="241.4" y="36.3" width="3.6" height="4.1" fill="#c4d0cc"/>
<rect x="244.6" y="36.3" width="3.6" height="4.1" fill="#cad4cd"/>
<rect x="247.8" y="36.3" width="3.6" height="4.1" fill="#d3d8ce"/>
<rect x="250.9" y="36.3" width="3.6" height="4.1" fill="#ddded0"/>
<rect x="254.1" y="36.3" width="3.6" height="4.1" fill="#e9e5d2"/>
<rect x="257.3" y="36.3" width="3.6" height="4.1" fill="#f7edd4"/>
<rect x="260.4" y="36.3" width="3.6" height="4.1" fill="#f5e2c8"/>
<rect x="263.6" y="36.3" width="3.6" height="4.1" fill="#e7c9b2"/>
<rect x="266.8" y="36.3" width="3.6" height="4.1" fill="#dab19d"/>
<rect x="269.9" y="36.3" width="3.6" height="4.1" fill="#ce9c8a"/>
<rect x="273.1" y="36.3" width="3.6" height="4.1" fill="#c58b7c"/>
<rect x="276.3" y="36.3" width="3.6" height="4.1" fill="#bf8072"/>
<rect x="279.4" y="36.3" width="3.6" height="4.1" fill="#bc7a6d"/>
<rect x="282.6" y="36.3" width="3.6" height="4.1" fill="#bb796b"/>
<rect x="285.8" y="36.3" width="3.6" height="4.1" fill="#bc7b6d"/>
<rect x="288.9" y="36.3" width="3.6" height="4.1" fill="#c08273"/>
<rect x="292.1" y="36.3" width="3.6" height="4.1" fill="#c68d7d"/>
<rect x="295.3" y="36.3" width="3.6" height="4.1" fill="#d09e8c"/>
<rect x="298.4" y="36.3" width="3.6" height="4.1" fill="#dbb39f"/>
<rect x="206.6" y="39.9" width="3.6" height="4.1" fill="#f3ead3"/>
<rect x="209.8" y="39.9" width="3.6" height="4.1" fill="#e5e2d1"/>
<rect x="212.9" y="39.9" width="3.6" height="4.1" fill="#d8dbcf"/>
<rect x="216.1" y="39.9" width="3.6" height="4.1" fill="#ccd4cd"/>
<rect x="219.3" y="39.9" width="3.6" height="4.1" fill="#c2cfcb"/>
<rect x="222.4" y="39.9" width="3.6" height="4.1" fill="#bbcbca"/>
<rect x="225.6" y="39.9" width="3.6" height="4.1" fill="#b6c8c9"/>
<rect x="228.8" y="39.9" width="3.6" height="4.1" fill="#b3c6c9"/>
<rect x="231.9" y="39.9" width="3.6" height="4.1" fill="#b2c6c9"/>
<rect x="235.1" y="39.9" width="3.6" height="4.1" fill="#b4c7c9"/>
<rect x="238.3" y="39.9" width="3.6" height="4.1" fill="#b7c9c9"/>
<rect x="241.4" y="39.9" width="3.6" height="4.1" fill="#bdccca"/>
<rect x="244.6" y="39.9" width="3.6" height="4.1" fill="#c4d0cc"/>
<rect x="247.8" y="39.9" width="3.6" height="4.1" fill="#cdd5cd"/>
<rect x="250.9" y="39.9" width="3.6" height="4.1" fill="#d7dacf"/>
<rect x="254.1" y="39.9" width="3.6" height="4.1" fill="#e2e1d1"/>
<rect x="257.3" y="39.9" width="3.6" height="4.1" fill="#efe8d3"/>
<rect x="260.4" y="39.9" width="3.6" height="4.1" fill="#fdf0d5"/>
<rect x="263.6" y="39.9" width="3.6" height="4.1" fill="#f0d9c1"/>
<rect x="266.8" y="39.9" width="3.6" height="4.1" fill="#e4c3ad"/>
<rect x="269.9" y="39.9" width="3.6" height="4.1" fill="#d9ae9b"/>
<rect x="273.1" y="39.9" width="3.6" height="4.1" fill="#d09e8c"/>
<rect x="276.3" y="39.9" width="3.6" height="4.1" fill="#c99282"/>
<rect x="279.4" y="39.9" width="3.6" height="4.1" fill="#c58c7c"/>
<rect x="282.6" y="39.9" width="3.6" height="4.1" fill="#c48a7a"/>
<rect x="285.8" y="39.9" width="3.6" height="4.1" fill="#c68d7d"/>
<rect x="288.9" y="39.9" width="3.6" height="4.1" fill="#ca9483"/>
<rect x="292.1" y="39.9" width="3.6" height="4.1" fill="#d1a08e"/>
<rect x="295.3" y="39.9" width="3.6" height="4.1" fill="#dab19d"/>
<rect x="298.4" y="39.9" width="3.6" height="4.1" fill="#e6c6b0"/>
<rect x="206.6" y="43.6" width="3.6" height="4.1" fill="#eae5d2"/>
<rect x="209.8" y="43.6" width="3.6" height="4.1" fill="#dcded0"/>
<rect x="212.9" y="43.6" width="3.6" height="4.1" fill="#d0d7ce"/>
<rect x="216.1" y="43.6" width="3.6" height="4.1" fill="#c5d1cc"/>
<rect x="219.3" y="43.6" width="3.6" height="4.1" fill="#bccbca"/>
<rect x="222.4" y="43.6" width="3.6" height="4.1" fill="#b5c7c9"/>
<rect x="225.6" y="43.6" width="3.6" height="4.1" fill="#b0c5c8"/>
<rect x="228.8" y="43.6" width="3.6" height="4.1" fill="#aec3c8"/>
<rect x="231.9" y="43.6" width="3.6" height="4.1" fill="#adc3c8"/>
<rect x="235.1" y="43.6" width="3.6" height="4.1" fill="#afc4c8"/>
<rect x="238.3" y="43.6" width="3.6" height="4.1" fill="#b3c6c9"/>
<rect x="241.4" y="43.6" width="3.6" height="4.1" fill="#b8c9ca"/>
<rect x="244.6" y="43.6" width="3.6" height="4.1" fill="#bfcdcb"/>
<rect x="247.8" y="43.6" width="3.6" height="4.1" fill="#c7d2cc"/>
<rect x="250.9" y="43.6" width="3.6" height="4.1" fill="#d1d7ce"/>
<rect x="254.1" y="43.6" width="3.6" height="4.1" fill="#dcddcf"/>
<rect x="257.3" y="43.6" width="3.6" height="4.1" fill="#e7e4d1"/>
<rect x="260.4" y="43.6" width="3.6" height="4.1" fill="#f3ebd3"/>
<rect x="263.6" y="43.6" width="3.6" height="4.1" fill="#faebd0"/>
<rect x="266.8" y="43.6" width="3.6" height="4.1" fill="#efd7bf"/>
<rect x="269.9" y="43.6" width="3.6" height="4.1" fill="#e5c5af"/>
<rect x="273.1" y="43.6" width="3.6" height="4.1" fill="#ddb6a1"/>
<rect x="276.3" y="43.6" width="3.6" height="4.1" fill="#d6aa97"/>
<rect x="279.4" y="43.6" width="3.6" height="4.1" fill="#d3a391"/>
<rect x="282.6" y="43.6" width="3.6" height="4.1" fill="#d1a18f"/>
<rect x="285.8" y="43.6" width="3.6" height="4.1" fill="#d3a491"/>
<rect x="288.9" y="43.6" width="3.6" height="4.1" fill="#d7ab98"/>
<rect x="292.1" y="43.6" width="3.6" height="4.1" fill="#deb7a3"/>
<rect x="295.3" y="43.6" width="3.6" height="4.1" fill="#e6c7b1"/>
<rect x="298.4" y="43.6" width="3.6" height="4.1" fill="#f1dac2"/>
<rect x="206.6" y="47.3" width="3.6" height="4.1" fill="#e2e1d0"/>
<rect x="209.8" y="47.3" width="3.6" height="4.1" fill="#d6dacf"/>
<rect x="212.9" y="47.3" width="3.6" height="4.1" fill="#cbd4cd"/>
<rect x="216.1" y="47.3" width="3.6" height="4.1" fill="#c1cecb"/>
<rect x="219.3" y="47.3" width="3.6" height="4.1" fill="#b9caca"/>
<rect x="222.4" y="47.3" width="3.6" height="4.1" fill="#b3c6c9"/>
<rect x="225.6" y="47.3" width="3.6" height="4.1" fill="#aec4c8"/>
<rect x="228.8" y="47.3" width="3.6" height="4.1" fill="#acc2c8"/>
<rect x="231.9" y="47.3" width="3.6" height="4.1" fill="#abc2c8"/>
<rect x="235.1" y="47.3" width="3.6" height="4.1" fill="#adc3c8"/>
<rect x="238.3" y="47.3" width="3.6" height="4.1" fill="#b1c5c8"/>
<rect x="241.4" y="47.3" width="3.6" height="4.1" fill="#b6c8c9"/>
<rect x="244.6" y="47.3" width="3.6" height="4.1" fill="#bcccca"/>
<rect x="247.8" y="47.3" width="3.6" height="4.1" fill="#c4d0cc"/>
<rect x="250.9" y="47.3" width="3.6" height="4.1" fill="#cdd5cd"/>
<rect x="254.1" y="47.3" width="3.6" height="4.1" fill="#d6dace"/>
<rect x="257.3" y="47.3" width="3.6" height="4.1" fill="#e0dfd0"/>
<rect x="260.4" y="47.3" width="3.6" height="4.1" fill="#eae5d2"/>
<rect x="263.6" y="47.3" width="3.6" height="4.1" fill="#f5ebd4"/>
<rect x="266.8" y="47.3" width="3.6" height="4.1" fill="#fbedd2"/>
<rect x="269.9" y="47.3" width="3.6" height="4.1" fill="#f3ddc5"/>
<rect x="273.1" y="47.3" width="3.6" height="4.1" fill="#ebd0b9"/>
<rect x="276.3" y="47.3" width="3.6" height="4.1" fill="#e6c6b0"/>
<rect x="279.4" y="47.3" width="3.6" height="4.1" fill="#e2c0aa"/>
<rect x="282.6" y="47.3" width="3.6" height="4.1" fill="#e1bea8"/>
<rect x="285.8" y="47.3" width="3.6" height="4.1" fill="#e2c0aa"/>
<rect x="288.9" y="47.3" width="3.6" height="4.1" fill="#e6c6b0"/>
<rect x="292.1" y="47.3" width="3.6" height="4.1" fill="#ebd0b9"/>
<rect x="295.3" y="47.3" width="3.6" height="4.1" fill="#f3dec5"/>
<rect x="298.4" y="47.3" width="3.6" height="4.1" fill="#fceed3"/>
<rect x="206.6" y="50.9" width="3.6" height="4.1" fill="#dcddd0"/>
<rect x="209.8" y="50.9" width="3.6" height="4.1" fill="#d2d8ce"/>
<rect x="212.9" y="50.9" width="3.6" height="4.1" fill="#c9d3cc"/>
<rect x="216.1" y="50.9" width="3.6" height="4.1" fill="#c1cecb"/>
<rect x="219.3" y="50.9" width="3.6" height="4.1" fill="#b9caca"/>
<rect x="222.4" y="50.9" width="3.6" height="4.1" fill="#b4c7c9"/>
<rect x="225.6" y="50.9" width="3.6" height="4.1" fill="#b0c4c8"/>
<rect x="228.8" y="50.9" width="3.6" height="4.1" fill="#adc3c8"/>
<rect x="231.9" y="50.9" width="3.6" height="4.1" fill="#adc3c8"/>
<rect x="235.1" y="50.9" width="3.6" height="4.1" fill="#afc4c8"/>
<rect x="238.3" y="50.9" width="3.6" height="4.1" fill="#b2c6c9"/>
<rect x="241.4" y="50.9" width="3.6" height="4.1" fill="#b6c8c9"/>
<rect x="244.6" y="50.9" width="3.6" height="4.1" fill="#bccbca"/>
<rect x="247.8" y="50.9" width="3.6" height="4.1" fill="#c2cfcb"/>
<rect x="250.9" y="50.9" width="3.6" height="4.1" fill="#c9d3cc"/>
<rect x="254.1" y="50.9" width="3.6" height="4.1" fill="#d1d7ce"/>
<rect x="257.3" y="50.9" width="3.6" height="4.1" fill="#d9dccf"/>
<rect x="260.4" y="50.9" width="3.6" height="4.1" fill="#e1e0d0"/>
<rect x="263.6" y="50.9" width="3.6" height="4.1" fill="#e9e5d2"/>
<rect x="266.8" y="50.9" width="3.6" height="4.1" fill="#f1e9d3"/>
<rect x="269.9" y="50.9" width="3.6" height="4.1" fill="#f9eed4"/>
<rect x="273.1" y="50.9" width="3.6" height="4.1" fill="#fbecd2"/>
<rect x="276.3" y="50.9" width="3.6" height="4.1" fill="#f6e4ca"/>
<rect x="279.4" y="50.9" width="3.6" height="4.1" fill="#f3dec5"/>
<rect x="282.6" y="50.9" width="3.6" height="4.1" fill="#f2dcc3"/>
<rect x="285.8" y="50.9" width="3.6" height="4.1" fill="#f3ddc4"/>
<rect x="288.9" y="50.9" width="3.6" height="4.1" fill="#f5e2c9"/>
<rect x="292.1" y="50.9" width="3.6" height="4.1" fill="#faeacf"/>
<rect x="295.3" y="50.9" width="3.6" height="4.1" fill="#faefd5"/>
<rect x="298.4" y="50.9" width="3.6" height="4.1" fill="#f3ead3"/>
<rect x="206.6" y="54.6" width="3.6" height="4.1" fill="#d8dbcf"/>
<rect x="209.8" y="54.6" width="3.6" height="4.1" fill="#d1d7ce"/>
<rect x="212.9" y="54.6" width="3.6" height="4.1" fill="#c9d3cc"/>
<rect x="216.1" y="54.6" width="3.6" height="4.1" fill="#c3cfcb"/>
<rect x="219.3" y="54.6" width="3.6" height="4.1" fill="#bdccca"/>
<rect x="222.4" y="54.6" width="3.6" height="4.1" fill="#b8c9ca"/>
<rect x="225.6" y="54.6" width="3.6" height="4.1" fill="#b4c7c9"/>
<rect x="228.8" y="54.6" width="3.6" height="4.1" fill="#b2c6c9"/>
<rect x="231.9" y="54.6" width="3.6" height="4.1" fill="#b2c6c9"/>
<rect x="235.1" y="54.6" width="3.6" height="4.1" fill="#b3c6c9"/>
<rect x="238.3" y="54.6" width="3.6" height="4.1" fill="#b5c8c9"/>
<rect x="241.4" y="54.6" width="3.6" height="4.1" fill="#b9caca"/>
<rect x="244.6" y="54.6" width="3.6" height="4.1" fill="#bdccca"/>
<rect x="247.8" y="54.6" width="3.6" height="4.1" fill="#c2cfcb"/>
<rect x="250.9" y="54.6" width="3.6" height="4.1" fill="#c8d2cc"/>
<rect x="254.1" y="54.6" width="3.6" height="4.1" fill="#cdd5cd"/>
<rect x="257.3" y="54.6" width="3.6" height="4.1" fill="#d3d8ce"/>
<rect x="260.4" y="54.6" width="3.6" height="4.1" fill="#d9dccf"/>
<rect x="263.6" y="54.6" width="3.6" height="4.1" fill="#dedfd0"/>
<rect x="266.8" y="54.6" width="3.6" height="4.1" fill="#e4e2d1"/>
<rect x="269.9" y="54.6" width="3.6" height="4.1" fill="#e9e5d2"/>
<rect x="273.1" y="54.6" width="3.6" height="4.1" fill="#eee8d3"/>
<rect x="276.3" y="54.6" width="3.6" height="4.1" fill="#f2ead3"/>
<rect x="279.4" y="54.6" width="3.6" height="4.1" fill="#f5ebd4"/>
<rect x="282.6" y="54.6" width="3.6" height="4.1" fill="#f6ecd4"/>
<rect x="285.8" y="54.6" width="3.6" height="4.1" fill="#f6ecd4"/>
<rect x="288.9" y="54.6" width="3.6" height="4.1" fill="#f5ebd4"/>
<rect x="292.1" y="54.6" width="3.6" height="4.1" fill="#f2ead3"/>
<rect x="295.3" y="54.6" width="3.6" height="4.1" fill="#eee7d2"/>
<rect x="298.4" y="54.6" width="3.6" height="4.1" fill="#e9e5d2"/>
<rect x="206.6" y="58.3" width="3.6" height="4.1" fill="#d7dbcf"/>
<rect x="209.8" y="58.3" width="3.6" height="4.1" fill="#d2d8ce"/>
<rect x="212.9" y="58.3" width="3.6" height="4.1" fill="#ccd5cd"/>
<rect x="216.1" y="58.3" width="3.6" height="4.1" fill="#c7d2cc"/>
<rect x="219.3" y="58.3" width="3.6" height="4.1" fill="#c3cfcb"/>
<rect x="222.4" y="58.3" width="3.6" height="4.1" fill="#bfcdcb"/>
<rect x="225.6" y="58.3" width="3.6" height="4.1" fill="#bccbca"/>
<rect x="228.8" y="58.3" width="3.6" height="4.1" fill="#bacaca"/>
<rect x="231.9" y="58.3" width="3.6" height="4.1" fill="#b9caca"/>
<rect x="235.1" y="58.3" width="3.6" height="4.1" fill="#bacaca"/>
<rect x="238.3" y="58.3" width="3.6" height="4.1" fill="#bbcbca"/>
<rect x="241.4" y="58.3" width="3.6" height="4.1" fill="#becccb"/>
<rect x="244.6" y="58.3" width="3.6" height="4.1" fill="#c1cecb"/>
<rect x="247.8" y="58.3" width="3.6" height="4.1" fill="#c4d0cc"/>
<rect x="250.9" y="58.3" width="3.6" height="4.1" fill="#c7d2cc"/>
<rect x="254.1" y="58.3" width="3.6" height="4.1" fill="#cbd4cd"/>
<rect x="257.3" y="58.3" width="3.6" height="4.1" fill="#ced5cd"/>
<rect x="260.4" y="58.3" width="3.6" height="4.1" fill="#d1d7ce"/>
<rect x="263.6" y="58.3" width="3.6" height="4.1" fill="#d4d9ce"/>
<rect x="266.8" y="58.3" width="3.6" height="4.1" fill="#d8dbcf"/>
<rect x="269.9" y="58.3" width="3.6" height="4.1" fill="#dbddcf"/>
<rect x="273.1" y="58.3" width="3.6" height="4.1" fill="#deded0"/>
<rect x="276.3" y="58.3" width="3.6" height="4.1" fill="#e1e0d0"/>
<rect x="279.4" y="58.3" width="3.6" height="4.1" fill="#e3e1d1"/>
<rect x="282.6" y="58.3" width="3.6" height="4.1" fill="#e5e2d1"/>
<rect x="285.8" y="58.3" width="3.6" height="4.1" fill="#e5e3d1"/>
<rect x="288.9" y="58.3" width="3.6" height="4.1" fill="#e5e3d1"/>
<rect x="292.1" y="58.3" width="3.6" height="4.1" fill="#e5e2d1"/>
<rect x="295.3" y="58.3" width="3.6" height="4.1" fill="#e3e1d1"/>
<rect x="298.4" y="58.3" width="3.6" height="4.1" fill="#e1e0d0"/>
<rect x="206.6" y="61.9" width="3.6" height="4.1" fill="#d8dbcf"/>
<rect x="209.8" y="61.9" width="3.6" height="4.1" fill="#d5d9ce"/>
<rect x="212.9" y="61.9" width="3.6" height="4.1" fill="#d2d8ce"/>
<rect x="216.1" y="61.9" width="3.6" height="4.1" fill="#cfd6cd"/>
<rect x="219.3" y="61.9" width="3.6" height="4.1" fill="#cbd4cd"/>
<rect x="222.4" y="61.9" width="3.6" height="4.1" fill="#c8d2cc"/>
<rect x="225.6" y="61.9" width="3.6" height="4.1" fill="#c6d1cc"/>
<rect x="228.8" y="61.9" width="3.6" height="4.1" fill="#c4d0cc"/>
<rect x="231.9" y="61.9" width="3.6" height="4.1" fill="#c3cfcb"/>
<rect x="235.1" y="61.9" width="3.6" height="4.1" fill="#c3cfcb"/>
<rect x="238.3" y="61.9" width="3.6" height="4.1" fill="#c3cfcb"/>
<rect x="241.4" y="61.9" width="3.6" height="4.1" fill="#c4d0cc"/>
<rect x="244.6" y="61.9" width="3.6" height="4.1" fill="#c5d0cc"/>
<rect x="247.8" y="61.9" width="3.6" height="4.1" fill="#c6d1cc"/>
<rect x="250.9" y="61.9" width="3.6" height="4.1" fill="#c8d2cc"/>
<rect x="254.1" y="61.9" width="3.6" height="4.1" fill="#c9d3cc"/>
<rect x="257.3" y="61.9" width="3.6" height="4.1" fill="#cad3cd"/>
<rect x="260.4" y="61.9" width="3.6" height="4.1" fill="#cbd4cd"/>
<rect x="263.6" y="61.9" width="3.6" height="4.1" fill="#cbd4cd"/>
<rect x="266.8" y="61.9" width="3.6" height="4.1" fill="#ccd5cd"/>
<rect x="269.9" y="61.9" width="3.6" height="4.1" fill="#ced5cd"/>
<rect x="273.1" y="61.9" width="3.6" height="4.1" fill="#cfd6cd"/>
<rect x="276.3" y="61.9" width="3.6" height="4.1" fill="#d1d7ce"/>
<rect x="279.4" y="61.9" width="3.6" height="4.1" fill="#d3d8ce"/>
<rect x="282.6" y="61.9" width="3.6" height="4.1" fill="#d5d9ce"/>
<rect x="285.8" y="61.9" width="3.6" height="4.1" fill="#d7dacf"/>
<rect x="288.9" y="61.9" width="3.6" height="4.1" fill="#d8dbcf"/>
<rect x="292.1" y="61.9" width="3.6" height="4.1" fill="#d9dccf"/>
<rect x="295.3" y="61.9" width="3.6" height="4.1" fill="#dadccf"/>
<rect x="298.4" y="61.9" width="3.6" height="4.1" fill="#dbddcf"/>
<rect x="206.6" y="65.6" width="3.6" height="4.1" fill="#dbddcf"/>
<rect x="209.8" y="65.6" width="3.6" height="4.1" fill="#dadccf"/>
<rect x="212.9" y="65.6" width="3.6" height="4.1" fill="#d9dccf"/>
<rect x="216.1" y="65.6" width="3.6" height="4.1" fill="#d8dbcf"/>
<rect x="219.3" y="65.6" width="3.6" height="4.1" fill="#d6dacf"/>
<rect x="222.4" y="65.6" width="3.6" height="4.1" fill="#d4d9ce"/>
<rect x="225.6" y="65.6" width="3.6" height="4.1" fill="#d2d8ce"/>
<rect x="228.8" y="65.6" width="3.6" height="4.1" fill="#d0d7ce"/>
<rect x="231.9" y="65.6" width="3.6" height="4.1" fill="#ced6cd"/>
<rect x="235.1" y="65.6" width="3.6" height="4.1" fill="#cdd5cd"/>
<rect x="238.3" y="65.6" width="3.6" height="4.1" fill="#ccd4cd"/>
<rect x="241.4" y="65.6" width="3.6" height="4.1" fill="#cbd4cd"/>
<rect x="244.6" y="65.6" width="3.6" height="4.1" fill="#cad3cd"/>
<rect x="247.8" y="65.6" width="3.6" height="4.1" fill="#cad3cc"/>
<rect x="250.9" y="65.6" width="3.6" height="4.1" fill="#c9d3cc"/>
<rect x="254.1" y="65.6" width="3.6" height="4.1" fill="#c8d2cc"/>
<rect x="257.3" y="65.6" width="3.6" height="4.1" fill="#c6d1cc"/>
<rect x="260.4" y="65.6" width="3.6" height="4.1" fill="#c5d1cc"/>
<rect x="263.6" y="65.6" width="3.6" height="4.1" fill="#c4d0cc"/>
<rect x="266.8" y="65.6" width="3.6" height="4.1" fill="#c3cfcb"/>
<rect x="269.9" y="65.6" width="3.6" height="4.1" fill="#c3cfcb"/>
<rect x="273.1" y="65.6" width="3.6" height="4.1" fill="#c3cfcb"/>
<rect x="276.3" y="65.6" width="3.6" height="4.1" fill="#c4d0cc"/>
<rect x="279.4" y="65.6" width="3.6" height="4.1" fill="#c5d1cc"/>
<rect x="282.6" y="65.6" width="3.6" height="4.1" fill="#c8d2cc"/>
<rect x="285.8" y="65.6" width="3.6" height="4.1" fill="#cbd4cd"/>
<rect x="288.9" y="65.6" width="3.6" height="4.1" fill="#ced5cd"/>
<rect x="292.1" y="65.6" width="3.6" height="4.1" fill="#d1d7ce"/>
<rect x="295.3" y="65.6" width="3.6" height="4.1" fill="#d4d9ce"/>
<rect x="298.4" y="65.6" width="3.6" height="4.1" fill="#d7dacf"/>
<rect x="206.6" y="69.3" width="3.6" height="4.1" fill="#e0e0d0"/>
<rect x="209.8" y="69.3" width="3.6" height="4.1" fill="#e2e1d1"/>
<rect x="212.9" y="69.3" width="3.6" height="4.1" fill="#e3e2d1"/>
<rect x="216.1" y="69.3" width="3.6" height="4.1" fill="#e4e2d1"/>
<rect x="219.3" y="69.3" width="3.6" height="4.1" fill="#e3e2d1"/>
<rect x="222.4" y="69.3" width="3.6" height="4.1" fill="#e2e1d1"/>
<rect x="225.6" y="69.3" width="3.6" height="4.1" fill="#e0e0d0"/>
<rect x="228.8" y="69.3" width="3.6" height="4.1" fill="#dedfd0"/>
<rect x="231.9" y="69.3" width="3.6" height="4.1" fill="#dbddcf"/>
<rect x="235.1" y="69.3" width="3.6" height="4.1" fill="#d9dccf"/>
<rect x="238.3" y="69.3" width="3.6" height="4.1" fill="#d6dacf"/>
<rect x="241.4" y="69.3" width="3.6" height="4.1" fill="#d3d8ce"/>
<rect x="244.6" y="69.3" width="3.6" height="4.1" fill="#d0d7ce"/>
<rect x="247.8" y="69.3" width="3.6" height="4.1" fill="#ced5cd"/>
<rect x="250.9" y="69.3" width="3.6" height="4.1" fill="#cbd4cd"/>
<rect x="254.1" y="69.3" width="3.6" height="4.1" fill="#c8d2cc"/>
<rect x="257.3" y="69.3" width="3.6" height="4.1" fill="#c4d0cc"/>
<rect x="260.4" y="69.3" width="3.6" height="4.1" fill="#c1cecb"/>
<rect x="263.6" y="69.3" width="3.6" height="4.1" fill="#becccb"/>
<rect x="266.8" y="69.3" width="3.6" height="4.1" fill="#bbcbca"/>
<rect x="269.9" y="69.3" width="3.6" height="4.1" fill="#b9caca"/>
<rect x="273.1" y="69.3" width="3.6" height="4.1" fill="#b9caca"/>
<rect x="276.3" y="69.3" width="3.6" height="4.1" fill="#b9caca"/>
<rect x="279.4" y="69.3" width="3.6" height="4.1" fill="#bbcbca"/>
<rect x="282.6" y="69.3" width="3.6" height="4.1" fill="#bdccca"/>
<rect x="285.8" y="69.3" width="3.6" height="4.1" fill="#c1cecb"/>
<rect x="288.9" y="69.3" width="3.6" height="4.1" fill="#c6d1cc"/>
<rect x="292.1" y="69.3" width="3.6" height="4.1" fill="#cbd4cd"/>
<rect x="295.3" y="69.3" width="3.6" height="4.1" fill="#d0d7ce"/>
<rect x="298.4" y="69.3" width="3.6" height="4.1" fill="#d5dace"/>
<rect x="206.6" y="72.9" width="3.6" height="4.1" fill="#e7e4d1"/>
<rect x="209.8" y="72.9" width="3.6" height="4.1" fill="#ece6d2"/>
<rect x="212.9" y="72.9" width="3.6" height="4.1" fill="#efe8d3"/>
<rect x="216.1" y="72.9" width="3.6" height="4.1" fill="#f2ead3"/>
<rect x="219.3" y="72.9" width="3.6" height="4.1" fill="#f3ead3"/>
<rect x="222.4" y="72.9" width="3.6" height="4.1" fill="#f2ead3"/>
<rect x="225.6" y="72.9" width="3.6" height="4.1" fill="#f0e9d3"/>
<rect x="228.8" y="72.9" width="3.6" height="4.1" fill="#ede7d2"/>
<rect x="231.9" y="72.9" width="3.6" height="4.1" fill="#eae5d2"/>
<rect x="235.1" y="72.9" width="3.6" height="4.1" fill="#e5e3d1"/>
<rect x="238.3" y="72.9" width="3.6" height="4.1" fill="#e1e0d0"/>
<rect x="241.4" y="72.9" width="3.6" height="4.1" fill="#dcddd0"/>
<rect x="244.6" y="72.9" width="3.6" height="4.1" fill="#d7dbcf"/>
<rect x="247.8" y="72.9" width="3.6" height="4.1" fill="#d2d8ce"/>
<rect x="250.9" y="72.9" width="3.6" height="4.1" fill="#cdd5cd"/>
<rect x="254.1" y="72.9" width="3.6" height="4.1" fill="#c8d2cc"/>
<rect x="257.3" y="72.9" width="3.6" height="4.1" fill="#c3cfcb"/>
<rect x="260.4" y="72.9" width="3.6" height="4.1" fill="#becdcb"/>
<rect x="263.6" y="72.9" width="3.6" height="4.1" fill="#b9caca"/>
<rect x="266.8" y="72.9" width="3.6" height="4.1" fill="#b6c8c9"/>
<rect x="269.9" y="72.9" width="3.6" height="4.1" fill="#b3c6c9"/>
<rect x="273.1" y="72.9" width="3.6" height="4.1" fill="#b1c5c8"/>
<rect x="276.3" y="72.9" width="3.6" height="4.1" fill="#b1c5c8"/>
<rect x="279.4" y="72.9" width="3.6" height="4.1" fill="#b3c6c9"/>
<rect x="282.6" y="72.9" width="3.6" height="4.1" fill="#b6c8c9"/>
<rect x="285.8" y="72.9" width="3.6" height="4.1" fill="#bbcbca"/>
<rect x="288.9" y="72.9" width="3.6" height="4.1" fill="#c1cecb"/>
<rect x="292.1" y="72.9" width="3.6" height="4.1" fill="#c7d2cc"/>
<rect x="295.3" y="72.9" width="3.6" height="4.1" fill="#cfd6cd"/>
<rect x="298.4" y="72.9" width="3.6" height="4.1" fill="#d6dacf"/>
<rect x="206.6" y="76.6" width="3.6" height="4.1" fill="#f1e9d3"/>
<rect x="209.8" y="76.6" width="3.6" height="4.1" fill="#f8edd4"/>
<rect x="212.9" y="76.6" width="3.6" height="4.1" fill="#fdefd4"/>
<rect x="216.1" y="76.6" width="3.6" height="4.1" fill="#f9e9cf"/>
<rect x="219.3" y="76.6" width="3.6" height="4.1" fill="#f7e6cc"/>
<rect x="222.4" y="76.6" width="3.6" height="4.1" fill="#f7e6cc"/>
<rect x="225.6" y="76.6" width="3.6" height="4.1" fill="#f9e9cf"/>
<rect x="228.8" y="76.6" width="3.6" height="4.1" fill="#fcefd4"/>
<rect x="231.9" y="76.6" width="3.6" height="4.1" fill="#f9eed4"/>
<rect x="235.1" y="76.6" width="3.6" height="4.1" fill="#f3ead3"/>
<rect x="238.3" y="76.6" width="3.6" height="4.1" fill="#ece7d2"/>
<rect x="241.4" y="76.6" width="3.6" height="4.1" fill="#e5e3d1"/>
<rect x="244.6" y="76.6" width="3.6" height="4.1" fill="#dfdfd0"/>
<rect x="247.8" y="76.6" width="3.6" height="4.1" fill="#d8dbcf"/>
<rect x="250.9" y="76.6" width="3.6" height="4.1" fill="#d1d7ce"/>
<rect x="254.1" y="76.6" width="3.6" height="4.1" fill="#cad3cd"/>
<rect x="257.3" y="76.6" width="3.6" height="4.1" fill="#c3d0cb"/>
<rect x="260.4" y="76.6" width="3.6" height="4.1" fill="#bdccca"/>
<rect x="263.6" y="76.6" width="3.6" height="4.1" fill="#b7c9c9"/>
<rect x="266.8" y="76.6" width="3.6" height="4.1" fill="#b3c6c9"/>
<rect x="269.9" y="76.6" width="3.6" height="4.1" fill="#afc4c8"/>
<rect x="273.1" y="76.6" width="3.6" height="4.1" fill="#adc3c8"/>
<rect x="276.3" y="76.6" width="3.6" height="4.1" fill="#adc3c8"/>
<rect x="279.4" y="76.6" width="3.6" height="4.1" fill="#afc4c8"/>
<rect x="282.6" y="76.6" width="3.6" height="4.1" fill="#b2c6c9"/>
<rect x="285.8" y="76.6" width="3.6" height="4.1" fill="#b8c9ca"/>
<rect x="288.9" y="76.6" width="3.6" height="4.1" fill="#bfcdcb"/>
<rect x="292.1" y="76.6" width="3.6" height="4.1" fill="#c7d2cc"/>
<rect x="295.3" y="76.6" width="3.6" height="4.1" fill="#d0d7ce"/>
<rect x="298.4" y="76.6" width="3.6" height="4.1" fill="#dadccf"/>
<rect x="206.6" y="80.3" width="3.6" height="4.1" fill="#fcf0d5"/>
<rect x="209.8" y="80.3" width="3.6" height="4.1" fill="#f5e2c9"/>
<rect x="212.9" y="80.3" width="3.6" height="4.1" fill="#efd6be"/>
<rect x="216.1" y="80.3" width="3.6" height="4.1" fill="#eaceb7"/>
<rect x="219.3" y="80.3" width="3.6" height="4.1" fill="#e7c9b3"/>
<rect x="222.4" y="80.3" width="3.6" height="4.1" fill="#e7c9b2"/>
<rect x="225.6" y="80.3" width="3.6" height="4.1" fill="#e9ccb5"/>
<rect x="228.8" y="80.3" width="3.6" height="4.1" fill="#edd3bb"/>
<rect x="231.9" y="80.3" width="3.6" height="4.1" fill="#f3ddc4"/>
<rect x="235.1" y="80.3" width="3.6" height="4.1" fill="#f9eacf"/>
<rect x="238.3" y="80.3" width="3.6" height="4.1" fill="#f8edd4"/>
<rect x="241.4" y="80.3" width="3.6" height="4.1" fill="#efe8d3"/>
<rect x="244.6" y="80.3" width="3.6" height="4.1" fill="#e6e3d1"/>
<rect x="247.8" y="80.3" width="3.6" height="4.1" fill="#deded0"/>
<rect x="250.9" y="80.3" width="3.6" height="4.1" fill="#d5dace"/>
<rect x="254.1" y="80.3" width="3.6" height="4.1" fill="#cdd5cd"/>
<rect x="257.3" y="80.3" width="3.6" height="4.1" fill="#c5d1cc"/>
<rect x="260.4" y="80.3" width="3.6" height="4.1" fill="#becdcb"/>
<rect x="263.6" y="80.3" width="3.6" height="4.1" fill="#b8c9ca"/>
<rect x="266.8" y="80.3" width="3.6" height="4.1" fill="#b2c6c9"/>
<rect x="269.9" y="80.3" width="3.6" height="4.1" fill="#aec4c8"/>
<rect x="273.1" y="80.3" width="3.6" height="4.1" fill="#acc2c8"/>
<rect x="276.3" y="80.3" width="3.6" height="4.1" fill="#acc2c8"/>
<rect x="279.4" y="80.3" width="3.6" height="4.1" fill="#aec3c8"/>
<rect x="282.6" y="80.3" width="3.6" height="4.1" fill="#b2c6c9"/>
<rect x="285.8" y="80.3" width="3.6" height="4.1" fill="#b8c9ca"/>
<rect x="288.9" y="80.3" width="3.6" height="4.1" fill="#c0cecb"/>
<rect x="292.1" y="80.3" width="3.6" height="4.1" fill="#cad3cd"/>
<rect x="295.3" y="80.3" width="3.6" height="4.1" fill="#d5d9ce"/>
<rect x="298.4" y="80.3" width="3.6" height="4.1" fill="#e0e0d0"/>
<rect x="206.6" y="83.9" width="3.6" height="4.1" fill="#f2dcc3"/>
<rect x="209.8" y="83.9" width="3.6" height="4.1" fill="#e8cbb4"/>
<rect x="212.9" y="83.9" width="3.6" height="4.1" fill="#e1bda8"/>
<rect x="216.1" y="83.9" width="3.6" height="4.1" fill="#dbb39f"/>
<rect x="219.3" y="83.9" width="3.6" height="4.1" fill="#d8ad9a"/>
<rect x="222.4" y="83.9" width="3.6" height="4.1" fill="#d7ac99"/>
<rect x="225.6" y="83.9" width="3.6" height="4.1" fill="#dab09c"/>
<rect x="228.8" y="83.9" width="3.6" height="4.1" fill="#deb8a3"/>
<rect x="231.9" y="83.9" width="3.6" height="4.1" fill="#e5c4ae"/>
<rect x="235.1" y="83.9" width="3.6" height="4.1" fill="#edd3bb"/>
<rect x="238.3" y="83.9" width="3.6" height="4.1" fill="#f6e4ca"/>
<rect x="241.4" y="83.9" width="3.6" height="4.1" fill="#faeed4"/>
<rect x="244.6" y="83.9" width="3.6" height="4.1" fill="#efe8d3"/>
<rect x="247.8" y="83.9" width="3.6" height="4.1" fill="#e4e2d1"/>
<rect x="250.9" y="83.9" width="3.6" height="4.1" fill="#dbddcf"/>
<rect x="254.1" y="83.9" width="3.6" height="4.1" fill="#d1d7ce"/>
<rect x="257.3" y="83.9" width="3.6" height="4.1" fill="#c9d3cc"/>
<rect x="260.4" y="83.9" width="3.6" height="4.1" fill="#c1cecb"/>
<rect x="263.6" y="83.9" width="3.6" height="4.1" fill="#bacaca"/>
<rect x="266.8" y="83.9" width="3.6" height="4.1" fill="#b5c7c9"/>
<rect x="269.9" y="83.9" width="3.6" height="4.1" fill="#b1c5c8"/>
<rect x="273.1" y="83.9" width="3.6" height="4.1" fill="#aec4c8"/>
<rect x="276.3" y="83.9" width="3.6" height="4.1" fill="#aec4c8"/>
<rect x="279.4" y="83.9" width="3.6" height="4.1" fill="#b0c5c8"/>
<rect x="282.6" y="83.9" width="3.6" height="4.1" fill="#b5c7c9"/>
<rect x="285.8" y="83.9" width="3.6" height="4.1" fill="#bccbca"/>
<rect x="288.9" y="83.9" width="3.6" height="4.1" fill="#c5d0cc"/>
<rect x="292.1" y="83.9" width="3.6" height="4.1" fill="#cfd6cd"/>
<rect x="295.3" y="83.9" width="3.6" height="4.1" fill="#dcddcf"/>
<rect x="298.4" y="83.9" width="3.6" height="4.1" fill="#e8e4d2"/>
<rect x="206.6" y="87.6" width="3.6" height="4.1" fill="#e6c7b0"/>
<rect x="209.8" y="87.6" width="3.6" height="4.1" fill="#dcb49f"/>
<rect x="212.9" y="87.6" width="3.6" height="4.1" fill="#d3a492"/>
<rect x="216.1" y="87.6" width="3.6" height="4.1" fill="#cd9a89"/>
<rect x="219.3" y="87.6" width="3.6" height="4.1" fill="#ca9483"/>
<rect x="222.4" y="87.6" width="3.6" height="4.1" fill="#c99382"/>
<rect x="225.6" y="87.6" width="3.6" height="4.1" fill="#cc9786"/>
<rect x="228.8" y="87.6" width="3.6" height="4.1" fill="#d0a08e"/>
<rect x="231.9" y="87.6" width="3.6" height="4.1" fill="#d8ad99"/>
<rect x="235.1" y="87.6" width="3.6" height="4.1" fill="#e1bda8"/>
<rect x="238.3" y="87.6" width="3.6" height="4.1" fill="#ecd1b9"/>
<rect x="241.4" y="87.6" width="3.6" height="4.1" fill="#f7e5cb"/>
<rect x="244.6" y="87.6" width="3.6" height="4.1" fill="#f7edd4"/>
<rect x="247.8" y="87.6" width="3.6" height="4.1" fill="#ece6d2"/>
<rect x="250.9" y="87.6" width="3.6" height="4.1" fill="#e1e0d0"/>
<rect x="254.1" y="87.6" width="3.6" height="4.1" fill="#d7dbcf"/>
<rect x="257.3" y="87.6" width="3.6" height="4.1" fill="#ced6cd"/>
<rect x="260.4" y="87.6" width="3.6" height="4.1" fill="#c6d1cc"/>
<rect x="263.6" y="87.6" width="3.6" height="4.1" fill="#bfcdcb"/>
<rect x="266.8" y="87.6" width="3.6" height="4.1" fill="#bacaca"/>
<rect x="269.9" y="87.6" width="3.6" height="4.1" fill="#b6c8c9"/>
<rect x="273.1" y="87.6" width="3.6" height="4.1" fill="#b4c7c9"/>
<rect x="276.3" y="87.6" width="3.6" height="4.1" fill="#b4c7c9"/>
<rect x="279.4" y="87.6" width="3.6" height="4.1" fill="#b7c8c9"/>
<rect x="282.6" y="87.6" width="3.6" height="4.1" fill="#bbcbca"/>
<rect x="285.8" y="87.6" width="3.6" height="4.1" fill="#c3cfcb"/>
<rect x="288.9" y="87.6" width="3.6" height="4.1" fill="#ccd4cd"/>
<rect x="292.1" y="87.6" width="3.6" height="4.1" fill="#d8dbcf"/>
<rect x="295.3" y="87.6" width="3.6" height="4.1" fill="#e5e2d1"/>
<rect x="298.4" y="87.6" width="3.6" height="4.1" fill="#f3ead3"/>
<rect x="206.6" y="91.3" width="3.6" height="4.1" fill="#dab29e"/>
<rect x="209.8" y="91.3" width="3.6" height="4.1" fill="#d09e8d"/>
<rect x="212.9" y="91.3" width="3.6" height="4.1" fill="#c8907f"/>
<rect x="216.1" y="91.3" width="3.6" height="4.1" fill="#c28676"/>
<rect x="219.3" y="91.3" width="3.6" height="4.1" fill="#bf8072"/>
<rect x="222.4" y="91.3" width="3.6" height="4.1" fill="#be7f71"/>
<rect x="225.6" y="91.3" width="3.6" height="4.1" fill="#c08374"/>
<rect x="228.8" y="91.3" width="3.6" height="4.1" fill="#c58b7b"/>
<rect x="231.9" y="91.3" width="3.6" height="4.1" fill="#cc9887"/>
<rect x="235.1" y="91.3" width="3.6" height="4.1" fill="#d6aa97"/>
<rect x="238.3" y="91.3" width="3.6" height="4.1" fill="#e2bfaa"/>
<rect x="241.4" y="91.3" width="3.6" height="4.1" fill="#eed6be"/>
<rect x="244.6" y="91.3" width="3.6" height="4.1" fill="#fbecd1"/>
<rect x="247.8" y="91.3" width="3.6" height="4.1" fill="#f3ead3"/>
<rect x="250.9" y="91.3" width="3.6" height="4.1" fill="#e7e4d1"/>
<rect x="254.1" y="91.3" width="3.6" height="4.1" fill="#ddded0"/>
<rect x="257.3" y="91.3" width="3.6" height="4.1" fill="#d4d9ce"/>
<rect x="260.4" y="91.3" width="3.6" height="4.1" fill="#cdd5cd"/>
<rect x="263.6" y="91.3" width="3.6" height="4.1" fill="#c6d1cc"/>
<rect x="266.8" y="91.3" width="3.6" height="4.1" fill="#c1cfcb"/>
<rect x="269.9" y="91.3" width="3.6" height="4.1" fill="#becdcb"/>
<rect x="273.1" y="91.3" width="3.6" height="4.1" fill="#bdccca"/>
<rect x="276.3" y="91.3" width="3.6" height="4.1" fill="#bdccca"/>
<rect x="279.4" y="91.3" width="3.6" height="4.1" fill="#c0cdcb"/>
<rect x="282.6" y="91.3" width="3.6" height="4.1" fill="#c5d0cc"/>
<rect x="285.8" y="91.3" width="3.6" height="4.1" fill="#ccd5cd"/>
<rect x="288.9" y="91.3" width="3.6" height="4.1" fill="#d6dacf"/>
<rect x="292.1" y="91.3" width="3.6" height="4.1" fill="#e2e1d1"/>
<rect x="295.3" y="91.3" width="3.6" height="4.1" fill="#f0e9d3"/>
<rect x="298.4" y="91.3" width="3.6" height="4.1" fill="#fceed3"/>
<rect x="206.6" y="94.9" width="3.6" height="4.1" fill="#d09f8d"/>
<rect x="209.8" y="94.9" width="3.6" height="4.1" fill="#c68d7d"/>
<rect x="212.9" y="94.9" width="3.6" height="4.1" fill="#be7f71"/>
<rect x="216.1" y="94.9" width="3.6" height="4.1" fill="#ba7769"/>
<rect x="219.3" y="94.9" width="3.6" height="4.1" fill="#b77366"/>
<rect x="222.4" y="94.9" width="3.6" height="4.1" fill="#b77265"/>
<rect x="225.6" y="94.9" width="3.6" height="4.1" fill="#b87467"/>
<rect x="228.8" y="94.9" width="3.6" height="4.1" fill="#bd7c6e"/>
<rect x="231.9" y="94.9" width="3.6" height="4.1" fill="#c48979"/>
<rect x="235.1" y="94.9" width="3.6" height="4.1" fill="#ce9b89"/>
<rect x="238.3" y="94.9" width="3.6" height="4.1" fill="#dab19d"/>
<rect x="241.4" y="94.9" width="3.6" height="4.1" fill="#e7c8b2"/>
<rect x="244.6" y="94.9" width="3.6" height="4.1" fill="#f4dfc6"/>
<rect x="247.8" y="94.9" width="3.6" height="4.1" fill="#faeed5"/>
<rect x="250.9" y="94.9" width="3.6" height="4.1" fill="#eee8d3"/>
<rect x="254.1" y="94.9" width="3.6" height="4.1" fill="#e4e2d1"/>
<rect x="257.3" y="94.9" width="3.6" height="4.1" fill="#dcddcf"/>
<rect x="260.4" y="94.9" width="3.6" height="4.1" fill="#d5d9ce"/>
<rect x="263.6" y="94.9" width="3.6" height="4.1" fill="#cfd6cd"/>
<rect x="266.8" y="94.9" width="3.6" height="4.1" fill="#cbd4cd"/>
<rect x="269.9" y="94.9" width="3.6" height="4.1" fill="#c8d2cc"/>
<rect x="273.1" y="94.9" width="3.6" height="4.1" fill="#c7d2cc"/>
<rect x="276.3" y="94.9" width="3.6" height="4.1" fill="#c8d2cc"/>
<rect x="279.4" y="94.9" width="3.6" height="4.1" fill="#cbd4cd"/>
<rect x="282.6" y="94.9" width="3.6" height="4.1" fill="#d0d7ce"/>
<rect x="285.8" y="94.9" width="3.6" height="4.1" fill="#d8dbcf"/>
<rect x="288.9" y="94.9" width="3.6" height="4.1" fill="#e2e1d1"/>
<rect x="292.1" y="94.9" width="3.6" height="4.1" fill="#eee8d3"/>
<rect x="295.3" y="94.9" width="3.6" height="4.1" fill="#fcefd5"/>
<rect x="298.4" y="94.9" width="3.6" height="4.1" fill="#f1dbc3"/>
<rect x="206.6" y="98.6" width="3.6" height="4.1" fill="#c78f7f"/>
<rect x="209.8" y="98.6" width="3.6" height="4.1" fill="#be7e70"/>
<rect x="212.9" y="98.6" width="3.6" height="4.1" fill="#b87366"/>
<rect x="216.1" y="98.6" width="3.6" height="4.1" fill="#b56d61"/>
<rect x="219.3" y="98.6" width="3.6" height="4.1" fill="#b36b5f"/>
<rect x="222.4" y="98.6" width="3.6" height="4.1" fill="#b36a5e"/>
<rect x="225.6" y="98.6" width="3.6" height="4.1" fill="#b46c60"/>
<rect x="228.8" y="98.6" width="3.6" height="4.1" fill="#b77265"/>
<rect x="231.9" y="98.6" width="3.6" height="4.1" fill="#be7e70"/>
<rect x="235.1" y="98.6" width="3.6" height="4.1" fill="#c78f7f"/>
<rect x="238.3" y="98.6" width="3.6" height="4.1" fill="#d4a593"/>
<rect x="241.4" y="98.6" width="3.6" height="4.1" fill="#e1bda8"/>
<rect x="244.6" y="98.6" width="3.6" height="4.1" fill="#eed5bd"/>
<rect x="247.8" y="98.6" width="3.6" height="4.1" fill="#faebd0"/>
<rect x="250.9" y="98.6" width="3.6" height="4.1" fill="#f5ebd4"/>
<rect x="254.1" y="98.6" width="3.6" height="4.1" fill="#ebe6d2"/>
<rect x="257.3" y="98.6" width="3.6" height="4.1" fill="#e3e2d1"/>
<rect x="260.4" y="98.6" width="3.6" height="4.1" fill="#ddded0"/>
<rect x="263.6" y="98.6" width="3.6" height="4.1" fill="#d9dccf"/>
<rect x="266.8" y="98.6" width="3.6" height="4.1" fill="#d6dacf"/>
<rect x="269.9" y="98.6" width="3.6" height="4.1" fill="#d4d9ce"/>
<rect x="273.1" y="98.6" width="3.6" height="4.1" fill="#d4d9ce"/>
<rect x="276.3" y="98.6" width="3.6" height="4.1" fill="#d6dace"/>
<rect x="279.4" y="98.6" width="3.6" height="4.1" fill="#d9dccf"/>
<rect x="282.6" y="98.6" width="3.6" height="4.1" fill="#dedfd0"/>
<rect x="285.8" y="98.6" width="3.6" height="4.1" fill="#e6e3d1"/>
<rect x="288.9" y="98.6" width="3.6" height="4.1" fill="#efe8d3"/>
<rect x="292.1" y="98.6" width="3.6" height="4.1" fill="#fbefd5"/>
<rect x="295.3" y="98.6" width="3.6" height="4.1" fill="#f3dfc6"/>
<rect x="298.4" y="98.6" width="3.6" height="4.1" fill="#e7c9b2"/>
<rect x="206.6" y="102.3" width="3.6" height="4.1" fill="#c08273"/>
<rect x="209.8" y="102.3" width="3.6" height="4.1" fill="#b87467"/>
<rect x="212.9" y="102.3" width="3.6" height="4.1" fill="#b36b5f"/>
<rect x="216.1" y="102.3" width="3.6" height="4.1" fill="#b1685c"/>
<rect x="219.3" y="102.3" width="3.6" height="4.1" fill="#b1665b"/>
<rect x="222.4" y="102.3" width="3.6" height="4.1" fill="#b1665b"/>
<rect x="225.6" y="102.3" width="3.6" height="4.1" fill="#b1685c"/>
<rect x="228.8" y="102.3" width="3.6" height="4.1" fill="#b46d60"/>
<rect x="231.9" y="102.3" width="3.6" height="4.1" fill="#ba786a"/>
<rect x="235.1" y="102.3" width="3.6" height="4.1" fill="#c48979"/>
<rect x="238.3" y="102.3" width="3.6" height="4.1" fill="#d09e8c"/>
<rect x="241.4" y="102.3" width="3.6" height="4.1" fill="#ddb6a2"/>
<rect x="244.6" y="102.3" width="3.6" height="4.1" fill="#eacdb6"/>
<rect x="247.8" y="102.3" width="3.6" height="4.1" fill="#f5e2c9"/>
<rect x="250.9" y="102.3" width="3.6" height="4.1" fill="#faefd5"/>
<rect x="254.1" y="102.3" width="3.6" height="4.1" fill="#f2ead3"/>
<rect x="257.3" y="102.3" width="3.6" height="4.1" fill="#ebe6d2"/>
<rect x="260.4" y="102.3" width="3.6" height="4.1" fill="#e6e3d1"/>
<rect x="263.6" y="102.3" width="3.6" height="4.1" fill="#e3e1d1"/>
<rect x="266.8" y="102.3" width="3.6" height="4.1" fill="#e1e0d0"/>
<rect x="269.9" y="102.3" width="3.6" height="4.1" fill="#e1e0d0"/>
<rect x="273.1" y="102.3" width="3.6" height="4.1" fill="#e2e1d1"/>
<rect x="276.3" y="102.3" width="3.6" height="4.1" fill="#e4e2d1"/>
<rect x="279.4" y="102.3" width="3.6" height="4.1" fill="#e8e4d2"/>
<rect x="282.6" y="102.3" width="3.6" height="4.1" fill="#ede7d2"/>
<rect x="285.8" y="102.3" width="3.6" height="4.1" fill="#f4ebd4"/>
<rect x="288.9" y="102.3" width="3.6" height="4.1" fill="#fdf0d5"/>
<rect x="292.1" y="102.3" width="3.6" height="4.1" fill="#f4dfc6"/>
<rect x="295.3" y="102.3" width="3.6" height="4.1" fill="#e9ccb5"/>
<rect x="298.4" y="102.3" width="3.6" height="4.1" fill="#deb8a3"/>
<rect x="206.6" y="105.9" width="3.6" height="4.1" fill="#ba786a"/>
<rect x="209.8" y="105.9" width="3.6" height="4.1" fill="#b46c60"/>
<rect x="212.9" y="105.9" width="3.6" height="4.1" fill="#b0665a"/>
<rect x="216.1" y="105.9" width="3.6" height="4.1" fill="#af6458"/>
<rect x="219.3" y="105.9" width="3.6" height="4.1" fill="#af6458"/>
<rect x="222.4" y="105.9" width="3.6" height="4.1" fill="#b06459"/>
<rect x="225.6" y="105.9" width="3.6" height="4.1" fill="#b0665a"/>
<rect x="228.8" y="105.9" width="3.6" height="4.1" fill="#b36b5f"/>
<rect x="231.9" y="105.9" width="3.6" height="4.1" fill="#b97669"/>
<rect x="235.1" y="105.9" width="3.6" height="4.1" fill="#c38677"/>
<rect x="238.3" y="105.9" width="3.6" height="4.1" fill="#ce9c8a"/>
<rect x="241.4" y="105.9" width="3.6" height="4.1" fill="#dbb39e"/>
<rect x="244.6" y="105.9" width="3.6" height="4.1" fill="#e7c9b2"/>
<rect x="247.8" y="105.9" width="3.6" height="4.1" fill="#f2ddc4"/>
<rect x="250.9" y="105.9" width="3.6" height="4.1" fill="#fbedd2"/>
<rect x="254.1" y="105.9" width="3.6" height="4.1" fill="#f7edd4"/>
<rect x="257.3" y="105.9" width="3.6" height="4.1" fill="#f2ead3"/>
<rect x="260.4" y="105.9" width="3.6" height="4.1" fill="#efe8d3"/>
<rect x="263.6" y="105.9" width="3.6" height="4.1" fill="#eee7d2"/>
<rect x="266.8" y="105.9" width="3.6" height="4.1" fill="#eee7d2"/>
<rect x="269.9" y="105.9" width="3.6" height="4.1" fill="#efe8d3"/>
<rect x="273.1" y="105.9" width="3.6" height="4.1" fill="#f1e9d3"/>
<rect x="276.3" y="105.9" width="3.6" height="4.1" fill="#f4ebd4"/>
<rect x="279.4" y="105.9" width="3.6" height="4.1" fill="#f8edd4"/>
<rect x="282.6" y="105.9" width="3.6" height="4.1" fill="#fdf0d5"/>
<rect x="285.8" y="105.9" width="3.6" height="4.1" fill="#f7e6cc"/>
<rect x="288.9" y="105.9" width="3.6" height="4.1" fill="#f0d9c1"/>
<rect x="292.1" y="105.9" width="3.6" height="4.1" fill="#e8cbb4"/>
<rect x="295.3" y="105.9" width="3.6" height="4.1" fill="#dfbba6"/>
<rect x="298.4" y="105.9" width="3.6" height="4.1" fill="#d6aa96"/>
<rect x="206.6" y="109.6" width="3.6" height="4.1" fill="#b77164"/>
<rect x="209.8" y="109.6" width="3.6" height="4.1" fill="#b1685c"/>
<rect x="212.9" y="109.6" width="3.6" height="4.1" fill="#af6358"/>
<rect x="216.1" y="109.6" width="3.6" height="4.1" fill="#ae6156"/>
<rect x="219.3" y="109.6" width="3.6" height="4.1" fill="#ae6257"/>
<rect x="222.4" y="109.6" width="3.6" height="4.1" fill="#af6459"/>
<rect x="225.6" y="109.6" width="3.6" height="4.1" fill="#b1675b"/>
<rect x="228.8" y="109.6" width="3.6" height="4.1" fill="#b56d61"/>
<rect x="231.9" y="109.6" width="3.6" height="4.1" fill="#bb796b"/>
<rect x="235.1" y="109.6" width="3.6" height="4.1" fill="#c4897a"/>
<rect x="238.3" y="109.6" width="3.6" height="4.1" fill="#cf9e8c"/>
<rect x="241.4" y="109.6" width="3.6" height="4.1" fill="#dbb39f"/>
<rect x="244.6" y="109.6" width="3.6" height="4.1" fill="#e7c8b1"/>
<rect x="247.8" y="109.6" width="3.6" height="4.1" fill="#f1dac1"/>
<rect x="250.9" y="109.6" width="3.6" height="4.1" fill="#f8e7cd"/>
<rect x="254.1" y="109.6" width="3.6" height="4.1" fill="#fcf0d5"/>
<rect x="257.3" y="109.6" width="3.6" height="4.1" fill="#f9eed4"/>
<rect x="260.4" y="109.6" width="3.6" height="4.1" fill="#f7edd4"/>
<rect x="263.6" y="109.6" width="3.6" height="4.1" fill="#f8edd4"/>
<rect x="266.8" y="109.6" width="3.6" height="4.1" fill="#faeed4"/>
<rect x="269.9" y="109.6" width="3.6" height="4.1" fill="#fdf0d5"/>
<rect x="273.1" y="109.6" width="3.6" height="4.1" fill="#faebd1"/>
<rect x="276.3" y="109.6" width="3.6" height="4.1" fill="#f7e5cb"/>
<rect x="279.4" y="109.6" width="3.6" height="4.1" fill="#f3ddc5"/>
<rect x="282.6" y="109.6" width="3.6" height="4.1" fill="#eed6be"/>
<rect x="285.8" y="109.6" width="3.6" height="4.1" fill="#eacdb6"/>
<rect x="288.9" y="109.6" width="3.6" height="4.1" fill="#e4c3ad"/>
<rect x="292.1" y="109.6" width="3.6" height="4.1" fill="#deb7a3"/>
<rect x="295.3" y="109.6" width="3.6" height="4.1" fill="#d7ab98"/>
<rect x="298.4" y="109.6" width="3.6" height="4.1" fill="#cf9d8c"/>
<rect x="206.6" y="113.3" width="3.6" height="4.1" fill="#b56e62"/>
<rect x="209.8" y="113.3" width="3.6" height="4.1" fill="#b1675b"/>
<rect x="212.9" y="113.3" width="3.6" height="4.1" fill="#af6358"/>
<rect x="216.1" y="113.3" width="3.6" height="4.1" fill="#af6358"/>
<rect x="219.3" y="113.3" width="3.6" height="4.1" fill="#b06459"/>
<rect x="222.4" y="113.3" width="3.6" height="4.1" fill="#b1675c"/>
<rect x="225.6" y="113.3" width="3.6" height="4.1" fill="#b46c60"/>
<rect x="228.8" y="113.3" width="3.6" height="4.1" fill="#b87467"/>
<rect x="231.9" y="113.3" width="3.6" height="4.1" fill="#bf8072"/>
<rect x="235.1" y="113.3" width="3.6" height="4.1" fill="#c89181"/>
<rect x="238.3" y="113.3" width="3.6" height="4.1" fill="#d3a492"/>
<rect x="241.4" y="113.3" width="3.6" height="4.1" fill="#deb8a3"/>
<rect x="244.6" y="113.3" width="3.6" height="4.1" fill="#e8cab4"/>
<rect x="247.8" y="113.3" width="3.6" height="4.1" fill="#f0d9c1"/>
<rect x="250.9" y="113.3" width="3.6" height="4.1" fill="#f7e4cb"/>
<rect x="254.1" y="113.3" width="3.6" height="4.1" fill="#faebd1"/>
<rect x="257.3" y="113.3" width="3.6" height="4.1" fill="#fceed3"/>
<rect x="260.4" y="113.3" width="3.6" height="4.1" fill="#fbedd2"/>
<rect x="263.6" y="113.3" width="3.6" height="4.1" fill="#f9e9cf"/>
<rect x="266.8" y="113.3" width="3.6" height="4.1" fill="#f6e3c9"/>
<rect x="269.9" y="113.3" width="3.6" height="4.1" fill="#f2dbc3"/>
<rect x="273.1" y="113.3" width="3.6" height="4.1" fill="#edd3bc"/>
<rect x="276.3" y="113.3" width="3.6" height="4.1" fill="#e9cbb4"/>
<rect x="279.4" y="113.3" width="3.6" height="4.1" fill="#e4c4ae"/>
<rect x="282.6" y="113.3" width="3.6" height="4.1" fill="#e0bda7"/>
<rect x="285.8" y="113.3" width="3.6" height="4.1" fill="#ddb5a1"/>
<rect x="288.9" y="113.3" width="3.6" height="4.1" fill="#d8ae9a"/>
<rect x="292.1" y="113.3" width="3.6" height="4.1" fill="#d4a693"/>
<rect x="295.3" y="113.3" width="3.6" height="4.1" fill="#cf9d8c"/>
<rect x="298.4" y="113.3" width="3.6" height="4.1" fill="#ca9484"/>
<rect x="206.6" y="116.9" width="3.6" height="4.1" fill="#b66f63"/>
<rect x="209.8" y="116.9" width="3.6" height="4.1" fill="#b36b5f"/>
<rect x="212.9" y="116.9" width="3.6" height="4.1" fill="#b2695d"/>
<rect x="216.1" y="116.9" width="3.6" height="4.1" fill="#b36a5e"/>
<rect x="219.3" y="116.9" width="3.6" height="4.1" fill="#b46c60"/>
<rect x="222.4" y="116.9" width="3.6" height="4.1" fill="#b67164"/>
<rect x="225.6" y="116.9" width="3.6" height="4.1" fill="#ba776a"/>
<rect x="228.8" y="116.9" width="3.6" height="4.1" fill="#bf8172"/>
<rect x="231.9" y="116.9" width="3.6" height="4.1" fill="#c68e7e"/>
<rect x="235.1" y="116.9" width="3.6" height="4.1" fill="#cf9d8c"/>
<rect x="238.3" y="116.9" width="3.6" height="4.1" fill="#d9af9b"/>
<rect x="241.4" y="116.9" width="3.6" height="4.1" fill="#e3c1ab"/>
<rect x="244.6" y="116.9" width="3.6" height="4.1" fill="#ebd0b8"/>
<rect x="247.8" y="116.9" width="3.6" height="4.1" fill="#f2dcc3"/>
<rect x="250.9" y="116.9" width="3.6" height="4.1" fill="#f6e4ca"/>
<rect x="254.1" y="116.9" width="3.6" height="4.1" fill="#f8e7cd"/>
<rect x="257.3" y="116.9" width="3.6" height="4.1" fill="#f8e6cc"/>
<rect x="260.4" y="116.9" width="3.6" height="4.1" fill="#f5e2c8"/>
<rect x="263.6" y="116.9" width="3.6" height="4.1" fill="#f1dbc2"/>
<rect x="266.8" y="116.9" width="3.6" height="4.1" fill="#ecd1ba"/>
<rect x="269.9" y="116.9" width="3.6" height="4.1" fill="#e6c7b1"/>
<rect x="273.1" y="116.9" width="3.6" height="4.1" fill="#e1bda8"/>
<rect x="276.3" y="116.9" width="3.6" height="4.1" fill="#dcb4a0"/>
<rect x="279.4" y="116.9" width="3.6" height="4.1" fill="#d7ac99"/>
<rect x="282.6" y="116.9" width="3.6" height="4.1" fill="#d4a593"/>
<rect x="285.8" y="116.9" width="3.6" height="4.1" fill="#d1a08e"/>
<rect x="288.9" y="116.9" width="3.6" height="4.1" fill="#ce9b8a"/>
<rect x="292.1" y="116.9" width="3.6" height="4.1" fill="#cc9786"/>
<rect x="295.3" y="116.9" width="3.6" height="4.1" fill="#c99382"/>
<rect x="298.4" y="116.9" width="3.6" height="4.1" fill="#c78e7e"/>
</g>
<rect x="206.6" y="10.6" width="95.00000000000003" height="110.0" fill="none" stroke="#000" stroke-width="1.1"/>
<rect x="206.6" y="10.6" width="26.0" height="21.5" fill="#fff"/>
<text x="212.80" y="26.60" font-size="10.4" text-anchor="start" fill="#000" >(b)</text>
<line x1="203.20" y1="120.60" x2="206.60" y2="120.60" stroke="#000" stroke-width="1.1"/>
<text x="198.70" y="125.00" font-size="10.85" text-anchor="end" fill="#000" >0.0</text>
<line x1="206.60" y1="120.60" x2="206.60" y2="124.00" stroke="#000" stroke-width="1.1"/>
<line x1="203.20" y1="65.60" x2="206.60" y2="65.60" stroke="#000" stroke-width="1.1"/>
<text x="198.70" y="70.00" font-size="10.85" text-anchor="end" fill="#000" >0.5</text>
<line x1="254.10" y1="120.60" x2="254.10" y2="124.00" stroke="#000" stroke-width="1.1"/>
<line x1="203.20" y1="10.60" x2="206.60" y2="10.60" stroke="#000" stroke-width="1.1"/>
<text x="198.70" y="15.00" font-size="10.85" text-anchor="end" fill="#000" >1.0</text>
<line x1="301.60" y1="120.60" x2="301.60" y2="124.00" stroke="#000" stroke-width="1.1"/>
<text transform="translate(172.00,66.40) rotate(-90)" font-size="10.9" text-anchor="middle">Flux Φ<tspan font-size="7.3" dy="1.6" font-style="italic">y</tspan><tspan dy="-1.6">/Φ</tspan><tspan font-size="7.3" dy="1.6">0</tspan></text>
<linearGradient id="cb0b" x1="0" y1="0" x2="0" y2="1"><stop offset="0.0000" stop-color="#780000"/><stop offset="0.0417" stop-color="#831412"/><stop offset="0.0833" stop-color="#8e2824"/><stop offset="0.1250" stop-color="#993c35"/><stop offset="0.1667" stop-color="#a45047"/><stop offset="0.2083" stop-color="#af6459"/><stop offset="0.2500" stop-color="#ba786a"/><stop offset="0.2917" stop-color="#c68c7c"/><stop offset="0.3333" stop-color="#d1a08e"/><stop offset="0.3750" stop-color="#dcb4a0"/><stop offset="0.4167" stop-color="#e7c8b2"/><stop offset="0.4583" stop-color="#f2dcc3"/><stop offset="0.5000" stop-color="#fdf0d5"/><stop offset="0.5417" stop-color="#f0e9d3"/><stop offset="0.5833" stop-color="#e4e2d1"/><stop offset="0.6250" stop-color="#d7dbcf"/><stop offset="0.6667" stop-color="#cbd4cd"/><stop offset="0.7083" stop-color="#becdcb"/><stop offset="0.7500" stop-color="#b2c6c8"/><stop offset="0.7917" stop-color="#a5bec6"/><stop offset="0.8333" stop-color="#98b7c4"/><stop offset="0.8750" stop-color="#8cb0c2"/><stop offset="0.9167" stop-color="#7fa9c0"/><stop offset="0.9583" stop-color="#73a2be"/><stop offset="1.0000" stop-color="#669bbc"/></linearGradient>
<rect x="307.6" y="10.6" width="6.0" height="110.0" fill="url(#cb0b)" stroke="#000" stroke-width="0.9"/>
<line x1="313.60" y1="102.45" x2="317.00" y2="102.45" stroke="#000" stroke-width="1.1"/>
<text x="321.10" y="106.45" font-size="10.85" text-anchor="start" fill="#000" >0.66</text>
<line x1="313.60" y1="47.45" x2="317.00" y2="47.45" stroke="#000" stroke-width="1.1"/>
<text x="321.10" y="51.45" font-size="10.85" text-anchor="start" fill="#000" >0.67</text>
<text transform="translate(358.80,65.90) rotate(-90)" font-size="10.9" text-anchor="middle">Many-body Berry curv.</text>
<g shape-rendering="crispEdges">
<rect x="206.6" y="148.4" width="3.6" height="4.1" fill="#93b5c4"/>
<rect x="209.8" y="148.4" width="3.6" height="4.1" fill="#97b6c4"/>
<rect x="212.9" y="148.4" width="3.6" height="4.1" fill="#9dbac5"/>
<rect x="216.1" y="148.4" width="3.6" height="4.1" fill="#a7bfc7"/>
<rect x="219.3" y="148.4" width="3.6" height="4.1" fill="#b3c6c9"/>
<rect x="222.4" y="148.4" width="3.6" height="4.1" fill="#c1cecb"/>
<rect x="225.6" y="148.4" width="3.6" height="4.1" fill="#d1d7ce"/>
<rect x="228.8" y="148.4" width="3.6" height="4.1" fill="#e1e0d0"/>
<rect x="231.9" y="148.4" width="3.6" height="4.1" fill="#f1e9d3"/>
<rect x="235.1" y="148.4" width="3.6" height="4.1" fill="#fbedd2"/>
<rect x="238.3" y="148.4" width="3.6" height="4.1" fill="#f1dac1"/>
<rect x="241.4" y="148.4" width="3.6" height="4.1" fill="#e9cbb4"/>
<rect x="244.6" y="148.4" width="3.6" height="4.1" fill="#e3c2ac"/>
<rect x="247.8" y="148.4" width="3.6" height="4.1" fill="#e1bea8"/>
<rect x="250.9" y="148.4" width="3.6" height="4.1" fill="#e2bfa9"/>
<rect x="254.1" y="148.4" width="3.6" height="4.1" fill="#e5c4ae"/>
<rect x="257.3" y="148.4" width="3.6" height="4.1" fill="#eaceb7"/>
<rect x="260.4" y="148.4" width="3.6" height="4.1" fill="#f2dcc3"/>
<rect x="263.6" y="148.4" width="3.6" height="4.1" fill="#fcedd3"/>
<rect x="266.8" y="148.4" width="3.6" height="4.1" fill="#f2ead3"/>
<rect x="269.9" y="148.4" width="3.6" height="4.1" fill="#e3e1d1"/>
<rect x="273.1" y="148.4" width="3.6" height="4.1" fill="#d2d8ce"/>
<rect x="276.3" y="148.4" width="3.6" height="4.1" fill="#c0cecb"/>
<rect x="279.4" y="148.4" width="3.6" height="4.1" fill="#aec3c8"/>
<rect x="282.6" y="148.4" width="3.6" height="4.1" fill="#9bb9c5"/>
<rect x="285.8" y="148.4" width="3.6" height="4.1" fill="#8aafc2"/>
<rect x="288.9" y="148.4" width="3.6" height="4.1" fill="#7aa6bf"/>
<rect x="292.1" y="148.4" width="3.6" height="4.1" fill="#6d9fbd"/>
<rect x="295.3" y="148.4" width="3.6" height="4.1" fill="#669bbc"/>
<rect x="298.4" y="148.4" width="3.6" height="4.1" fill="#669bbc"/>
<rect x="206.6" y="152.1" width="3.6" height="4.1" fill="#97b7c4"/>
<rect x="209.8" y="152.1" width="3.6" height="4.1" fill="#9dbac5"/>
<rect x="212.9" y="152.1" width="3.6" height="4.1" fill="#a6bfc7"/>
<rect x="216.1" y="152.1" width="3.6" height="4.1" fill="#b2c6c9"/>
<rect x="219.3" y="152.1" width="3.6" height="4.1" fill="#c0cecb"/>
<rect x="222.4" y="152.1" width="3.6" height="4.1" fill="#cfd6cd"/>
<rect x="225.6" y="152.1" width="3.6" height="4.1" fill="#dfdfd0"/>
<rect x="228.8" y="152.1" width="3.6" height="4.1" fill="#efe8d3"/>
<rect x="231.9" y="152.1" width="3.6" height="4.1" fill="#fdefd5"/>
<rect x="235.1" y="152.1" width="3.6" height="4.1" fill="#f2dbc3"/>
<rect x="238.3" y="152.1" width="3.6" height="4.1" fill="#e9cbb4"/>
<rect x="241.4" y="152.1" width="3.6" height="4.1" fill="#e2c0aa"/>
<rect x="244.6" y="152.1" width="3.6" height="4.1" fill="#deb9a4"/>
<rect x="247.8" y="152.1" width="3.6" height="4.1" fill="#ddb7a2"/>
<rect x="250.9" y="152.1" width="3.6" height="4.1" fill="#dfb9a5"/>
<rect x="254.1" y="152.1" width="3.6" height="4.1" fill="#e3c0ab"/>
<rect x="257.3" y="152.1" width="3.6" height="4.1" fill="#e9cbb4"/>
<rect x="260.4" y="152.1" width="3.6" height="4.1" fill="#f1d9c1"/>
<rect x="263.6" y="152.1" width="3.6" height="4.1" fill="#faebd1"/>
<rect x="266.8" y="152.1" width="3.6" height="4.1" fill="#f3ead3"/>
<rect x="269.9" y="152.1" width="3.6" height="4.1" fill="#e4e2d1"/>
<rect x="273.1" y="152.1" width="3.6" height="4.1" fill="#d4d9ce"/>
<rect x="276.3" y="152.1" width="3.6" height="4.1" fill="#c2cfcb"/>
<rect x="279.4" y="152.1" width="3.6" height="4.1" fill="#b0c5c8"/>
<rect x="282.6" y="152.1" width="3.6" height="4.1" fill="#9ebac5"/>
<rect x="285.8" y="152.1" width="3.6" height="4.1" fill="#8cb1c2"/>
<rect x="288.9" y="152.1" width="3.6" height="4.1" fill="#7da8c0"/>
<rect x="292.1" y="152.1" width="3.6" height="4.1" fill="#71a1be"/>
<rect x="295.3" y="152.1" width="3.6" height="4.1" fill="#689cbc"/>
<rect x="298.4" y="152.1" width="3.6" height="4.1" fill="#669bbc"/>
<rect x="206.6" y="155.7" width="3.6" height="4.1" fill="#9dbac5"/>
<rect x="209.8" y="155.7" width="3.6" height="4.1" fill="#a6bfc7"/>
<rect x="212.9" y="155.7" width="3.6" height="4.1" fill="#b2c6c9"/>
<rect x="216.1" y="155.7" width="3.6" height="4.1" fill="#bfcdcb"/>
<rect x="219.3" y="155.7" width="3.6" height="4.1" fill="#ced6cd"/>
<rect x="222.4" y="155.7" width="3.6" height="4.1" fill="#deded0"/>
<rect x="225.6" y="155.7" width="3.6" height="4.1" fill="#ede7d2"/>
<rect x="228.8" y="155.7" width="3.6" height="4.1" fill="#fbefd5"/>
<rect x="231.9" y="155.7" width="3.6" height="4.1" fill="#f3dec5"/>
<rect x="235.1" y="155.7" width="3.6" height="4.1" fill="#eacdb6"/>
<rect x="238.3" y="155.7" width="3.6" height="4.1" fill="#e2c0aa"/>
<rect x="241.4" y="155.7" width="3.6" height="4.1" fill="#ddb7a2"/>
<rect x="244.6" y="155.7" width="3.6" height="4.1" fill="#dbb29e"/>
<rect x="247.8" y="155.7" width="3.6" height="4.1" fill="#dbb29e"/>
<rect x="250.9" y="155.7" width="3.6" height="4.1" fill="#ddb5a1"/>
<rect x="254.1" y="155.7" width="3.6" height="4.1" fill="#e1bda8"/>
<rect x="257.3" y="155.7" width="3.6" height="4.1" fill="#e7c8b2"/>
<rect x="260.4" y="155.7" width="3.6" height="4.1" fill="#efd7be"/>
<rect x="263.6" y="155.7" width="3.6" height="4.1" fill="#f9e8ce"/>
<rect x="266.8" y="155.7" width="3.6" height="4.1" fill="#f5ecd4"/>
<rect x="269.9" y="155.7" width="3.6" height="4.1" fill="#e7e3d1"/>
<rect x="273.1" y="155.7" width="3.6" height="4.1" fill="#d7dbcf"/>
<rect x="276.3" y="155.7" width="3.6" height="4.1" fill="#c6d1cc"/>
<rect x="279.4" y="155.7" width="3.6" height="4.1" fill="#b4c7c9"/>
<rect x="282.6" y="155.7" width="3.6" height="4.1" fill="#a3bdc6"/>
<rect x="285.8" y="155.7" width="3.6" height="4.1" fill="#92b4c3"/>
<rect x="288.9" y="155.7" width="3.6" height="4.1" fill="#83abc1"/>
<rect x="292.1" y="155.7" width="3.6" height="4.1" fill="#77a5bf"/>
<rect x="295.3" y="155.7" width="3.6" height="4.1" fill="#6ea0bd"/>
<rect x="298.4" y="155.7" width="3.6" height="4.1" fill="#6a9dbd"/>
<rect x="206.6" y="159.4" width="3.6" height="4.1" fill="#a7c0c7"/>
<rect x="209.8" y="159.4" width="3.6" height="4.1" fill="#b2c6c9"/>
<rect x="212.9" y="159.4" width="3.6" height="4.1" fill="#c0cdcb"/>
<rect x="216.1" y="159.4" width="3.6" height="4.1" fill="#ced6cd"/>
<rect x="219.3" y="159.4" width="3.6" height="4.1" fill="#ddded0"/>
<rect x="222.4" y="159.4" width="3.6" height="4.1" fill="#ece6d2"/>
<rect x="225.6" y="159.4" width="3.6" height="4.1" fill="#faeed4"/>
<rect x="228.8" y="159.4" width="3.6" height="4.1" fill="#f5e1c8"/>
<rect x="231.9" y="159.4" width="3.6" height="4.1" fill="#ebd0b8"/>
<rect x="235.1" y="159.4" width="3.6" height="4.1" fill="#e3c2ac"/>
<rect x="238.3" y="159.4" width="3.6" height="4.1" fill="#deb7a3"/>
<rect x="241.4" y="159.4" width="3.6" height="4.1" fill="#dab09d"/>
<rect x="244.6" y="159.4" width="3.6" height="4.1" fill="#d8ad9a"/>
<rect x="247.8" y="159.4" width="3.6" height="4.1" fill="#d8ae9a"/>
<rect x="250.9" y="159.4" width="3.6" height="4.1" fill="#dbb29e"/>
<rect x="254.1" y="159.4" width="3.6" height="4.1" fill="#dfbaa5"/>
<rect x="257.3" y="159.4" width="3.6" height="4.1" fill="#e5c5af"/>
<rect x="260.4" y="159.4" width="3.6" height="4.1" fill="#edd3bb"/>
<rect x="263.6" y="159.4" width="3.6" height="4.1" fill="#f6e4ca"/>
<rect x="266.8" y="159.4" width="3.6" height="4.1" fill="#f8edd4"/>
<rect x="269.9" y="159.4" width="3.6" height="4.1" fill="#eae6d2"/>
<rect x="273.1" y="159.4" width="3.6" height="4.1" fill="#dbddcf"/>
<rect x="276.3" y="159.4" width="3.6" height="4.1" fill="#cbd4cd"/>
<rect x="279.4" y="159.4" width="3.6" height="4.1" fill="#bacaca"/>
<rect x="282.6" y="159.4" width="3.6" height="4.1" fill="#aac1c7"/>
<rect x="285.8" y="159.4" width="3.6" height="4.1" fill="#9ab8c5"/>
<rect x="288.9" y="159.4" width="3.6" height="4.1" fill="#8cb0c2"/>
<rect x="292.1" y="159.4" width="3.6" height="4.1" fill="#80aac0"/>
<rect x="295.3" y="159.4" width="3.6" height="4.1" fill="#78a5bf"/>
<rect x="298.4" y="159.4" width="3.6" height="4.1" fill="#74a3be"/>
<rect x="206.6" y="163.1" width="3.6" height="4.1" fill="#b3c7c9"/>
<rect x="209.8" y="163.1" width="3.6" height="4.1" fill="#c0cecb"/>
<rect x="212.9" y="163.1" width="3.6" height="4.1" fill="#cfd6cd"/>
<rect x="216.1" y="163.1" width="3.6" height="4.1" fill="#ddded0"/>
<rect x="219.3" y="163.1" width="3.6" height="4.1" fill="#ece6d2"/>
<rect x="222.4" y="163.1" width="3.6" height="4.1" fill="#f9eed4"/>
<rect x="225.6" y="163.1" width="3.6" height="4.1" fill="#f6e3c9"/>
<rect x="228.8" y="163.1" width="3.6" height="4.1" fill="#ecd2bb"/>
<rect x="231.9" y="163.1" width="3.6" height="4.1" fill="#e5c4ae"/>
<rect x="235.1" y="163.1" width="3.6" height="4.1" fill="#deb9a4"/>
<rect x="238.3" y="163.1" width="3.6" height="4.1" fill="#dab19d"/>
<rect x="241.4" y="163.1" width="3.6" height="4.1" fill="#d7ab98"/>
<rect x="244.6" y="163.1" width="3.6" height="4.1" fill="#d6a996"/>
<rect x="247.8" y="163.1" width="3.6" height="4.1" fill="#d7ab98"/>
<rect x="250.9" y="163.1" width="3.6" height="4.1" fill="#d9af9c"/>
<rect x="254.1" y="163.1" width="3.6" height="4.1" fill="#ddb7a2"/>
<rect x="257.3" y="163.1" width="3.6" height="4.1" fill="#e3c2ac"/>
<rect x="260.4" y="163.1" width="3.6" height="4.1" fill="#ebcfb8"/>
<rect x="263.6" y="163.1" width="3.6" height="4.1" fill="#f4dfc6"/>
<rect x="266.8" y="163.1" width="3.6" height="4.1" fill="#fcefd5"/>
<rect x="269.9" y="163.1" width="3.6" height="4.1" fill="#efe8d3"/>
<rect x="273.1" y="163.1" width="3.6" height="4.1" fill="#e1e0d0"/>
<rect x="276.3" y="163.1" width="3.6" height="4.1" fill="#d1d7ce"/>
<rect x="279.4" y="163.1" width="3.6" height="4.1" fill="#c2cfcb"/>
<rect x="282.6" y="163.1" width="3.6" height="4.1" fill="#b2c6c9"/>
<rect x="285.8" y="163.1" width="3.6" height="4.1" fill="#a4bec6"/>
<rect x="288.9" y="163.1" width="3.6" height="4.1" fill="#96b6c4"/>
<rect x="292.1" y="163.1" width="3.6" height="4.1" fill="#8cb0c2"/>
<rect x="295.3" y="163.1" width="3.6" height="4.1" fill="#84acc1"/>
<rect x="298.4" y="163.1" width="3.6" height="4.1" fill="#80aac0"/>
<rect x="206.6" y="166.7" width="3.6" height="4.1" fill="#c2cfcb"/>
<rect x="209.8" y="166.7" width="3.6" height="4.1" fill="#d0d7ce"/>
<rect x="212.9" y="166.7" width="3.6" height="4.1" fill="#dedfd0"/>
<rect x="216.1" y="166.7" width="3.6" height="4.1" fill="#ece6d2"/>
<rect x="219.3" y="166.7" width="3.6" height="4.1" fill="#f9eed4"/>
<rect x="222.4" y="166.7" width="3.6" height="4.1" fill="#f6e4ca"/>
<rect x="225.6" y="166.7" width="3.6" height="4.1" fill="#edd3bc"/>
<rect x="228.8" y="166.7" width="3.6" height="4.1" fill="#e6c6b0"/>
<rect x="231.9" y="166.7" width="3.6" height="4.1" fill="#dfbba6"/>
<rect x="235.1" y="166.7" width="3.6" height="4.1" fill="#dbb29e"/>
<rect x="238.3" y="166.7" width="3.6" height="4.1" fill="#d7ac98"/>
<rect x="241.4" y="166.7" width="3.6" height="4.1" fill="#d5a895"/>
<rect x="244.6" y="166.7" width="3.6" height="4.1" fill="#d4a694"/>
<rect x="247.8" y="166.7" width="3.6" height="4.1" fill="#d5a895"/>
<rect x="250.9" y="166.7" width="3.6" height="4.1" fill="#d8ac99"/>
<rect x="254.1" y="166.7" width="3.6" height="4.1" fill="#dcb49f"/>
<rect x="257.3" y="166.7" width="3.6" height="4.1" fill="#e1bea8"/>
<rect x="260.4" y="166.7" width="3.6" height="4.1" fill="#e8cab4"/>
<rect x="263.6" y="166.7" width="3.6" height="4.1" fill="#f1dac1"/>
<rect x="266.8" y="166.7" width="3.6" height="4.1" fill="#faebd0"/>
<rect x="269.9" y="166.7" width="3.6" height="4.1" fill="#f4ebd4"/>
<rect x="273.1" y="166.7" width="3.6" height="4.1" fill="#e7e4d1"/>
<rect x="276.3" y="166.7" width="3.6" height="4.1" fill="#d9dccf"/>
<rect x="279.4" y="166.7" width="3.6" height="4.1" fill="#cad4cd"/>
<rect x="282.6" y="166.7" width="3.6" height="4.1" fill="#bcccca"/>
<rect x="285.8" y="166.7" width="3.6" height="4.1" fill="#afc4c8"/>
<rect x="288.9" y="166.7" width="3.6" height="4.1" fill="#a3bdc6"/>
<rect x="292.1" y="166.7" width="3.6" height="4.1" fill="#99b8c4"/>
<rect x="295.3" y="166.7" width="3.6" height="4.1" fill="#92b4c3"/>
<rect x="298.4" y="166.7" width="3.6" height="4.1" fill="#8fb2c3"/>
<rect x="206.6" y="170.4" width="3.6" height="4.1" fill="#d2d8ce"/>
<rect x="209.8" y="170.4" width="3.6" height="4.1" fill="#e0e0d0"/>
<rect x="212.9" y="170.4" width="3.6" height="4.1" fill="#ede7d2"/>
<rect x="216.1" y="170.4" width="3.6" height="4.1" fill="#faeed5"/>
<rect x="219.3" y="170.4" width="3.6" height="4.1" fill="#f6e3c9"/>
<rect x="222.4" y="170.4" width="3.6" height="4.1" fill="#edd3bc"/>
<rect x="225.6" y="170.4" width="3.6" height="4.1" fill="#e6c6b0"/>
<rect x="228.8" y="170.4" width="3.6" height="4.1" fill="#e0bca7"/>
<rect x="231.9" y="170.4" width="3.6" height="4.1" fill="#dbb39f"/>
<rect x="235.1" y="170.4" width="3.6" height="4.1" fill="#d8ac99"/>
<rect x="238.3" y="170.4" width="3.6" height="4.1" fill="#d5a795"/>
<rect x="241.4" y="170.4" width="3.6" height="4.1" fill="#d3a492"/>
<rect x="244.6" y="170.4" width="3.6" height="4.1" fill="#d3a391"/>
<rect x="247.8" y="170.4" width="3.6" height="4.1" fill="#d3a592"/>
<rect x="250.9" y="170.4" width="3.6" height="4.1" fill="#d6a996"/>
<rect x="254.1" y="170.4" width="3.6" height="4.1" fill="#dab09c"/>
<rect x="257.3" y="170.4" width="3.6" height="4.1" fill="#dfb9a5"/>
<rect x="260.4" y="170.4" width="3.6" height="4.1" fill="#e5c5af"/>
<rect x="263.6" y="170.4" width="3.6" height="4.1" fill="#edd3bb"/>
<rect x="266.8" y="170.4" width="3.6" height="4.1" fill="#f6e3ca"/>
<rect x="269.9" y="170.4" width="3.6" height="4.1" fill="#faeed4"/>
<rect x="273.1" y="170.4" width="3.6" height="4.1" fill="#eee7d2"/>
<rect x="276.3" y="170.4" width="3.6" height="4.1" fill="#e1e0d0"/>
<rect x="279.4" y="170.4" width="3.6" height="4.1" fill="#d4d9ce"/>
<rect x="282.6" y="170.4" width="3.6" height="4.1" fill="#c7d2cc"/>
<rect x="285.8" y="170.4" width="3.6" height="4.1" fill="#bbcbca"/>
<rect x="288.9" y="170.4" width="3.6" height="4.1" fill="#b0c5c8"/>
<rect x="292.1" y="170.4" width="3.6" height="4.1" fill="#a8c0c7"/>
<rect x="295.3" y="170.4" width="3.6" height="4.1" fill="#a1bcc6"/>
<rect x="298.4" y="170.4" width="3.6" height="4.1" fill="#9ebbc5"/>
<rect x="206.6" y="174.1" width="3.6" height="4.1" fill="#e2e1d0"/>
<rect x="209.8" y="174.1" width="3.6" height="4.1" fill="#efe8d3"/>
<rect x="212.9" y="174.1" width="3.6" height="4.1" fill="#fcefd5"/>
<rect x="216.1" y="174.1" width="3.6" height="4.1" fill="#f5e1c8"/>
<rect x="219.3" y="174.1" width="3.6" height="4.1" fill="#ecd2bb"/>
<rect x="222.4" y="174.1" width="3.6" height="4.1" fill="#e6c6b0"/>
<rect x="225.6" y="174.1" width="3.6" height="4.1" fill="#e0bca7"/>
<rect x="228.8" y="174.1" width="3.6" height="4.1" fill="#dcb49f"/>
<rect x="231.9" y="174.1" width="3.6" height="4.1" fill="#d8ad9a"/>
<rect x="235.1" y="174.1" width="3.6" height="4.1" fill="#d5a895"/>
<rect x="238.3" y="174.1" width="3.6" height="4.1" fill="#d3a491"/>
<rect x="241.4" y="174.1" width="3.6" height="4.1" fill="#d1a18f"/>
<rect x="244.6" y="174.1" width="3.6" height="4.1" fill="#d1a18e"/>
<rect x="247.8" y="174.1" width="3.6" height="4.1" fill="#d2a290"/>
<rect x="250.9" y="174.1" width="3.6" height="4.1" fill="#d4a693"/>
<rect x="254.1" y="174.1" width="3.6" height="4.1" fill="#d7ac99"/>
<rect x="257.3" y="174.1" width="3.6" height="4.1" fill="#dcb5a0"/>
<rect x="260.4" y="174.1" width="3.6" height="4.1" fill="#e2bfaa"/>
<rect x="263.6" y="174.1" width="3.6" height="4.1" fill="#e9ccb5"/>
<rect x="266.8" y="174.1" width="3.6" height="4.1" fill="#f1dbc2"/>
<rect x="269.9" y="174.1" width="3.6" height="4.1" fill="#faebd1"/>
<rect x="273.1" y="174.1" width="3.6" height="4.1" fill="#f5ecd4"/>
<rect x="276.3" y="174.1" width="3.6" height="4.1" fill="#eae5d2"/>
<rect x="279.4" y="174.1" width="3.6" height="4.1" fill="#dedfd0"/>
<rect x="282.6" y="174.1" width="3.6" height="4.1" fill="#d3d8ce"/>
<rect x="285.8" y="174.1" width="3.6" height="4.1" fill="#c8d2cc"/>
<rect x="288.9" y="174.1" width="3.6" height="4.1" fill="#bfcdcb"/>
<rect x="292.1" y="174.1" width="3.6" height="4.1" fill="#b7c8c9"/>
<rect x="295.3" y="174.1" width="3.6" height="4.1" fill="#b1c5c8"/>
<rect x="298.4" y="174.1" width="3.6" height="4.1" fill="#aec4c8"/>
<rect x="206.6" y="177.7" width="3.6" height="4.1" fill="#f1e9d3"/>
<rect x="209.8" y="177.7" width="3.6" height="4.1" fill="#fdf0d5"/>
<rect x="212.9" y="177.7" width="3.6" height="4.1" fill="#f3dfc6"/>
<rect x="216.1" y="177.7" width="3.6" height="4.1" fill="#ebd0b9"/>
<rect x="219.3" y="177.7" width="3.6" height="4.1" fill="#e5c4ae"/>
<rect x="222.4" y="177.7" width="3.6" height="4.1" fill="#e0bba6"/>
<rect x="225.6" y="177.7" width="3.6" height="4.1" fill="#dbb39f"/>
<rect x="228.8" y="177.7" width="3.6" height="4.1" fill="#d8ad9a"/>
<rect x="231.9" y="177.7" width="3.6" height="4.1" fill="#d5a895"/>
<rect x="235.1" y="177.7" width="3.6" height="4.1" fill="#d3a491"/>
<rect x="238.3" y="177.7" width="3.6" height="4.1" fill="#d1a08e"/>
<rect x="241.4" y="177.7" width="3.6" height="4.1" fill="#d09e8c"/>
<rect x="244.6" y="177.7" width="3.6" height="4.1" fill="#cf9d8c"/>
<rect x="247.8" y="177.7" width="3.6" height="4.1" fill="#d09e8d"/>
<rect x="250.9" y="177.7" width="3.6" height="4.1" fill="#d2a290"/>
<rect x="254.1" y="177.7" width="3.6" height="4.1" fill="#d5a795"/>
<rect x="257.3" y="177.7" width="3.6" height="4.1" fill="#d9af9b"/>
<rect x="260.4" y="177.7" width="3.6" height="4.1" fill="#dfb9a4"/>
<rect x="263.6" y="177.7" width="3.6" height="4.1" fill="#e5c5af"/>
<rect x="266.8" y="177.7" width="3.6" height="4.1" fill="#ecd2ba"/>
<rect x="269.9" y="177.7" width="3.6" height="4.1" fill="#f4e1c7"/>
<rect x="273.1" y="177.7" width="3.6" height="4.1" fill="#fdf0d5"/>
<rect x="276.3" y="177.7" width="3.6" height="4.1" fill="#f3ead3"/>
<rect x="279.4" y="177.7" width="3.6" height="4.1" fill="#e9e4d2"/>
<rect x="282.6" y="177.7" width="3.6" height="4.1" fill="#dfdfd0"/>
<rect x="285.8" y="177.7" width="3.6" height="4.1" fill="#d5dace"/>
<rect x="288.9" y="177.7" width="3.6" height="4.1" fill="#cdd5cd"/>
<rect x="292.1" y="177.7" width="3.6" height="4.1" fill="#c6d1cc"/>
<rect x="295.3" y="177.7" width="3.6" height="4.1" fill="#c1cecb"/>
<rect x="298.4" y="177.7" width="3.6" height="4.1" fill="#bfcdcb"/>
<rect x="206.6" y="181.4" width="3.6" height="4.1" fill="#fceed3"/>
<rect x="209.8" y="181.4" width="3.6" height="4.1" fill="#f2ddc4"/>
<rect x="212.9" y="181.4" width="3.6" height="4.1" fill="#eacfb7"/>
<rect x="216.1" y="181.4" width="3.6" height="4.1" fill="#e4c3ad"/>
<rect x="219.3" y="181.4" width="3.6" height="4.1" fill="#dfbaa5"/>
<rect x="222.4" y="181.4" width="3.6" height="4.1" fill="#dbb39f"/>
<rect x="225.6" y="181.4" width="3.6" height="4.1" fill="#d8ad9a"/>
<rect x="228.8" y="181.4" width="3.6" height="4.1" fill="#d5a895"/>
<rect x="231.9" y="181.4" width="3.6" height="4.1" fill="#d3a492"/>
<rect x="235.1" y="181.4" width="3.6" height="4.1" fill="#d1a08e"/>
<rect x="238.3" y="181.4" width="3.6" height="4.1" fill="#cf9d8c"/>
<rect x="241.4" y="181.4" width="3.6" height="4.1" fill="#ce9b8a"/>
<rect x="244.6" y="181.4" width="3.6" height="4.1" fill="#cd9a89"/>
<rect x="247.8" y="181.4" width="3.6" height="4.1" fill="#ce9b89"/>
<rect x="250.9" y="181.4" width="3.6" height="4.1" fill="#cf9d8c"/>
<rect x="254.1" y="181.4" width="3.6" height="4.1" fill="#d2a290"/>
<rect x="257.3" y="181.4" width="3.6" height="4.1" fill="#d6a996"/>
<rect x="260.4" y="181.4" width="3.6" height="4.1" fill="#dbb29e"/>
<rect x="263.6" y="181.4" width="3.6" height="4.1" fill="#e1bda8"/>
<rect x="266.8" y="181.4" width="3.6" height="4.1" fill="#e7c9b2"/>
<rect x="269.9" y="181.4" width="3.6" height="4.1" fill="#efd6be"/>
<rect x="273.1" y="181.4" width="3.6" height="4.1" fill="#f6e4ca"/>
<rect x="276.3" y="181.4" width="3.6" height="4.1" fill="#fcefd5"/>
<rect x="279.4" y="181.4" width="3.6" height="4.1" fill="#f3ead3"/>
<rect x="282.6" y="181.4" width="3.6" height="4.1" fill="#eae5d2"/>
<rect x="285.8" y="181.4" width="3.6" height="4.1" fill="#e2e1d1"/>
<rect x="288.9" y="181.4" width="3.6" height="4.1" fill="#dbddcf"/>
<rect x="292.1" y="181.4" width="3.6" height="4.1" fill="#d5d9ce"/>
<rect x="295.3" y="181.4" width="3.6" height="4.1" fill="#d1d7ce"/>
<rect x="298.4" y="181.4" width="3.6" height="4.1" fill="#ced6cd"/>
<rect x="206.6" y="185.1" width="3.6" height="4.1" fill="#f2ddc4"/>
<rect x="209.8" y="185.1" width="3.6" height="4.1" fill="#eaceb7"/>
<rect x="212.9" y="185.1" width="3.6" height="4.1" fill="#e4c3ad"/>
<rect x="216.1" y="185.1" width="3.6" height="4.1" fill="#dfbaa5"/>
<rect x="219.3" y="185.1" width="3.6" height="4.1" fill="#dbb39f"/>
<rect x="222.4" y="185.1" width="3.6" height="4.1" fill="#d8ad9a"/>
<rect x="225.6" y="185.1" width="3.6" height="4.1" fill="#d6a996"/>
<rect x="228.8" y="185.1" width="3.6" height="4.1" fill="#d3a592"/>
<rect x="231.9" y="185.1" width="3.6" height="4.1" fill="#d1a18f"/>
<rect x="235.1" y="185.1" width="3.6" height="4.1" fill="#cf9e8c"/>
<rect x="238.3" y="185.1" width="3.6" height="4.1" fill="#ce9a89"/>
<rect x="241.4" y="185.1" width="3.6" height="4.1" fill="#cc9887"/>
<rect x="244.6" y="185.1" width="3.6" height="4.1" fill="#cc9786"/>
<rect x="247.8" y="185.1" width="3.6" height="4.1" fill="#cc9786"/>
<rect x="250.9" y="185.1" width="3.6" height="4.1" fill="#cd9988"/>
<rect x="254.1" y="185.1" width="3.6" height="4.1" fill="#cf9d8b"/>
<rect x="257.3" y="185.1" width="3.6" height="4.1" fill="#d3a391"/>
<rect x="260.4" y="185.1" width="3.6" height="4.1" fill="#d7ab98"/>
<rect x="263.6" y="185.1" width="3.6" height="4.1" fill="#dcb5a1"/>
<rect x="266.8" y="185.1" width="3.6" height="4.1" fill="#e2c0aa"/>
<rect x="269.9" y="185.1" width="3.6" height="4.1" fill="#e9cbb4"/>
<rect x="273.1" y="185.1" width="3.6" height="4.1" fill="#efd7bf"/>
<rect x="276.3" y="185.1" width="3.6" height="4.1" fill="#f6e4ca"/>
<rect x="279.4" y="185.1" width="3.6" height="4.1" fill="#fdf0d5"/>
<rect x="282.6" y="185.1" width="3.6" height="4.1" fill="#f5ecd4"/>
<rect x="285.8" y="185.1" width="3.6" height="4.1" fill="#efe8d3"/>
<rect x="288.9" y="185.1" width="3.6" height="4.1" fill="#e8e4d2"/>
<rect x="292.1" y="185.1" width="3.6" height="4.1" fill="#e3e2d1"/>
<rect x="295.3" y="185.1" width="3.6" height="4.1" fill="#e0dfd0"/>
<rect x="298.4" y="185.1" width="3.6" height="4.1" fill="#ddded0"/>
<rect x="206.6" y="188.7" width="3.6" height="4.1" fill="#ecd0b9"/>
<rect x="209.8" y="188.7" width="3.6" height="4.1" fill="#e5c5af"/>
<rect x="212.9" y="188.7" width="3.6" height="4.1" fill="#e0bca7"/>
<rect x="216.1" y="188.7" width="3.6" height="4.1" fill="#dcb5a0"/>
<rect x="219.3" y="188.7" width="3.6" height="4.1" fill="#d9af9b"/>
<rect x="222.4" y="188.7" width="3.6" height="4.1" fill="#d7ab97"/>
<rect x="225.6" y="188.7" width="3.6" height="4.1" fill="#d4a794"/>
<rect x="228.8" y="188.7" width="3.6" height="4.1" fill="#d2a391"/>
<rect x="231.9" y="188.7" width="3.6" height="4.1" fill="#d09f8e"/>
<rect x="235.1" y="188.7" width="3.6" height="4.1" fill="#ce9c8a"/>
<rect x="238.3" y="188.7" width="3.6" height="4.1" fill="#cc9887"/>
<rect x="241.4" y="188.7" width="3.6" height="4.1" fill="#cb9685"/>
<rect x="244.6" y="188.7" width="3.6" height="4.1" fill="#ca9483"/>
<rect x="247.8" y="188.7" width="3.6" height="4.1" fill="#ca9383"/>
<rect x="250.9" y="188.7" width="3.6" height="4.1" fill="#ca9584"/>
<rect x="254.1" y="188.7" width="3.6" height="4.1" fill="#cc9887"/>
<rect x="257.3" y="188.7" width="3.6" height="4.1" fill="#cf9d8c"/>
<rect x="260.4" y="188.7" width="3.6" height="4.1" fill="#d3a592"/>
<rect x="263.6" y="188.7" width="3.6" height="4.1" fill="#d8ad9a"/>
<rect x="266.8" y="188.7" width="3.6" height="4.1" fill="#ddb7a2"/>
<rect x="269.9" y="188.7" width="3.6" height="4.1" fill="#e3c1ab"/>
<rect x="273.1" y="188.7" width="3.6" height="4.1" fill="#e9cbb5"/>
<rect x="276.3" y="188.7" width="3.6" height="4.1" fill="#efd6be"/>
<rect x="279.4" y="188.7" width="3.6" height="4.1" fill="#f5e1c7"/>
<rect x="282.6" y="188.7" width="3.6" height="4.1" fill="#faebd0"/>
<rect x="285.8" y="188.7" width="3.6" height="4.1" fill="#faeed5"/>
<rect x="288.9" y="188.7" width="3.6" height="4.1" fill="#f5ecd4"/>
<rect x="292.1" y="188.7" width="3.6" height="4.1" fill="#f1e9d3"/>
<rect x="295.3" y="188.7" width="3.6" height="4.1" fill="#ede7d2"/>
<rect x="298.4" y="188.7" width="3.6" height="4.1" fill="#ebe6d2"/>
<rect x="206.6" y="192.4" width="3.6" height="4.1" fill="#e8cab3"/>
<rect x="209.8" y="192.4" width="3.6" height="4.1" fill="#e3c1ab"/>
<rect x="212.9" y="192.4" width="3.6" height="4.1" fill="#dfb9a4"/>
<rect x="216.1" y="192.4" width="3.6" height="4.1" fill="#dcb49f"/>
<rect x="219.3" y="192.4" width="3.6" height="4.1" fill="#d9af9b"/>
<rect x="222.4" y="192.4" width="3.6" height="4.1" fill="#d7ab98"/>
<rect x="225.6" y="192.4" width="3.6" height="4.1" fill="#d5a794"/>
<rect x="228.8" y="192.4" width="3.6" height="4.1" fill="#d3a391"/>
<rect x="231.9" y="192.4" width="3.6" height="4.1" fill="#d0a08e"/>
<rect x="235.1" y="192.4" width="3.6" height="4.1" fill="#ce9b8a"/>
<rect x="238.3" y="192.4" width="3.6" height="4.1" fill="#cc9887"/>
<rect x="241.4" y="192.4" width="3.6" height="4.1" fill="#ca9483"/>
<rect x="244.6" y="192.4" width="3.6" height="4.1" fill="#c99281"/>
<rect x="247.8" y="192.4" width="3.6" height="4.1" fill="#c89180"/>
<rect x="250.9" y="192.4" width="3.6" height="4.1" fill="#c89181"/>
<rect x="254.1" y="192.4" width="3.6" height="4.1" fill="#ca9483"/>
<rect x="257.3" y="192.4" width="3.6" height="4.1" fill="#cc9887"/>
<rect x="260.4" y="192.4" width="3.6" height="4.1" fill="#d09e8c"/>
<rect x="263.6" y="192.4" width="3.6" height="4.1" fill="#d4a693"/>
<rect x="266.8" y="192.4" width="3.6" height="4.1" fill="#d8ae9a"/>
<rect x="269.9" y="192.4" width="3.6" height="4.1" fill="#ddb7a2"/>
<rect x="273.1" y="192.4" width="3.6" height="4.1" fill="#e3c0ab"/>
<rect x="276.3" y="192.4" width="3.6" height="4.1" fill="#e8c9b3"/>
<rect x="279.4" y="192.4" width="3.6" height="4.1" fill="#edd3bb"/>
<rect x="282.6" y="192.4" width="3.6" height="4.1" fill="#f1dbc3"/>
<rect x="285.8" y="192.4" width="3.6" height="4.1" fill="#f6e3ca"/>
<rect x="288.9" y="192.4" width="3.6" height="4.1" fill="#faead0"/>
<rect x="292.1" y="192.4" width="3.6" height="4.1" fill="#fdf0d5"/>
<rect x="295.3" y="192.4" width="3.6" height="4.1" fill="#faeed4"/>
<rect x="298.4" y="192.4" width="3.6" height="4.1" fill="#f8edd4"/>
<rect x="206.6" y="196.1" width="3.6" height="4.1" fill="#e7c9b2"/>
<rect x="209.8" y="196.1" width="3.6" height="4.1" fill="#e3c1ac"/>
<rect x="212.9" y="196.1" width="3.6" height="4.1" fill="#e0bca6"/>
<rect x="216.1" y="196.1" width="3.6" height="4.1" fill="#ddb7a2"/>
<rect x="219.3" y="196.1" width="3.6" height="4.1" fill="#dbb29e"/>
<rect x="222.4" y="196.1" width="3.6" height="4.1" fill="#d9ae9b"/>
<rect x="225.6" y="196.1" width="3.6" height="4.1" fill="#d6aa97"/>
<rect x="228.8" y="196.1" width="3.6" height="4.1" fill="#d4a693"/>
<rect x="231.9" y="196.1" width="3.6" height="4.1" fill="#d1a18f"/>
<rect x="235.1" y="196.1" width="3.6" height="4.1" fill="#cf9d8b"/>
<rect x="238.3" y="196.1" width="3.6" height="4.1" fill="#cc9887"/>
<rect x="241.4" y="196.1" width="3.6" height="4.1" fill="#ca9483"/>
<rect x="244.6" y="196.1" width="3.6" height="4.1" fill="#c89180"/>
<rect x="247.8" y="196.1" width="3.6" height="4.1" fill="#c78f7f"/>
<rect x="250.9" y="196.1" width="3.6" height="4.1" fill="#c78f7e"/>
<rect x="254.1" y="196.1" width="3.6" height="4.1" fill="#c89080"/>
<rect x="257.3" y="196.1" width="3.6" height="4.1" fill="#ca9483"/>
<rect x="260.4" y="196.1" width="3.6" height="4.1" fill="#cd9987"/>
<rect x="263.6" y="196.1" width="3.6" height="4.1" fill="#d09f8d"/>
<rect x="266.8" y="196.1" width="3.6" height="4.1" fill="#d4a694"/>
<rect x="269.9" y="196.1" width="3.6" height="4.1" fill="#d9ae9b"/>
<rect x="273.1" y="196.1" width="3.6" height="4.1" fill="#ddb6a2"/>
<rect x="276.3" y="196.1" width="3.6" height="4.1" fill="#e1bea9"/>
<rect x="279.4" y="196.1" width="3.6" height="4.1" fill="#e6c6b0"/>
<rect x="282.6" y="196.1" width="3.6" height="4.1" fill="#eacdb6"/>
<rect x="285.8" y="196.1" width="3.6" height="4.1" fill="#edd4bc"/>
<rect x="288.9" y="196.1" width="3.6" height="4.1" fill="#f1dac1"/>
<rect x="292.1" y="196.1" width="3.6" height="4.1" fill="#f4dfc6"/>
<rect x="295.3" y="196.1" width="3.6" height="4.1" fill="#f6e4ca"/>
<rect x="298.4" y="196.1" width="3.6" height="4.1" fill="#f8e8ce"/>
<rect x="206.6" y="199.7" width="3.6" height="4.1" fill="#e9cdb6"/>
<rect x="209.8" y="199.7" width="3.6" height="4.1" fill="#e6c7b1"/>
<rect x="212.9" y="199.7" width="3.6" height="4.1" fill="#e4c2ac"/>
<rect x="216.1" y="199.7" width="3.6" height="4.1" fill="#e1bea8"/>
<rect x="219.3" y="199.7" width="3.6" height="4.1" fill="#dfb9a4"/>
<rect x="222.4" y="199.7" width="3.6" height="4.1" fill="#dcb5a0"/>
<rect x="225.6" y="199.7" width="3.6" height="4.1" fill="#d9b09c"/>
<rect x="228.8" y="199.7" width="3.6" height="4.1" fill="#d7ab98"/>
<rect x="231.9" y="199.7" width="3.6" height="4.1" fill="#d4a693"/>
<rect x="235.1" y="199.7" width="3.6" height="4.1" fill="#d1a08e"/>
<rect x="238.3" y="199.7" width="3.6" height="4.1" fill="#ce9b89"/>
<rect x="241.4" y="199.7" width="3.6" height="4.1" fill="#cb9685"/>
<rect x="244.6" y="199.7" width="3.6" height="4.1" fill="#c99281"/>
<rect x="247.8" y="199.7" width="3.6" height="4.1" fill="#c78f7f"/>
<rect x="250.9" y="199.7" width="3.6" height="4.1" fill="#c68d7d"/>
<rect x="254.1" y="199.7" width="3.6" height="4.1" fill="#c78e7e"/>
<rect x="257.3" y="199.7" width="3.6" height="4.1" fill="#c89080"/>
<rect x="260.4" y="199.7" width="3.6" height="4.1" fill="#ca9584"/>
<rect x="263.6" y="199.7" width="3.6" height="4.1" fill="#cd9a89"/>
<rect x="266.8" y="199.7" width="3.6" height="4.1" fill="#d1a08e"/>
<rect x="269.9" y="199.7" width="3.6" height="4.1" fill="#d5a794"/>
<rect x="273.1" y="199.7" width="3.6" height="4.1" fill="#d8ae9a"/>
<rect x="276.3" y="199.7" width="3.6" height="4.1" fill="#dcb5a0"/>
<rect x="279.4" y="199.7" width="3.6" height="4.1" fill="#e0bba6"/>
<rect x="282.6" y="199.7" width="3.6" height="4.1" fill="#e3c1ab"/>
<rect x="285.8" y="199.7" width="3.6" height="4.1" fill="#e6c7b0"/>
<rect x="288.9" y="199.7" width="3.6" height="4.1" fill="#e9ccb5"/>
<rect x="292.1" y="199.7" width="3.6" height="4.1" fill="#ecd1b9"/>
<rect x="295.3" y="199.7" width="3.6" height="4.1" fill="#eed6be"/>
<rect x="298.4" y="199.7" width="3.6" height="4.1" fill="#f1dac2"/>
<rect x="206.6" y="203.4" width="3.6" height="4.1" fill="#eed5bd"/>
<rect x="209.8" y="203.4" width="3.6" height="4.1" fill="#ecd1b9"/>
<rect x="212.9" y="203.4" width="3.6" height="4.1" fill="#e9ccb5"/>
<rect x="216.1" y="203.4" width="3.6" height="4.1" fill="#e7c8b1"/>
<rect x="219.3" y="203.4" width="3.6" height="4.1" fill="#e4c3ad"/>
<rect x="222.4" y="203.4" width="3.6" height="4.1" fill="#e1bea8"/>
<rect x="225.6" y="203.4" width="3.6" height="4.1" fill="#deb8a3"/>
<rect x="228.8" y="203.4" width="3.6" height="4.1" fill="#dbb29e"/>
<rect x="231.9" y="203.4" width="3.6" height="4.1" fill="#d7ac98"/>
<rect x="235.1" y="203.4" width="3.6" height="4.1" fill="#d4a593"/>
<rect x="238.3" y="203.4" width="3.6" height="4.1" fill="#d09f8d"/>
<rect x="241.4" y="203.4" width="3.6" height="4.1" fill="#cd9988"/>
<rect x="244.6" y="203.4" width="3.6" height="4.1" fill="#ca9483"/>
<rect x="247.8" y="203.4" width="3.6" height="4.1" fill="#c89080"/>
<rect x="250.9" y="203.4" width="3.6" height="4.1" fill="#c78e7e"/>
<rect x="254.1" y="203.4" width="3.6" height="4.1" fill="#c68d7e"/>
<rect x="257.3" y="203.4" width="3.6" height="4.1" fill="#c78f7f"/>
<rect x="260.4" y="203.4" width="3.6" height="4.1" fill="#c99282"/>
<rect x="263.6" y="203.4" width="3.6" height="4.1" fill="#cb9685"/>
<rect x="266.8" y="203.4" width="3.6" height="4.1" fill="#ce9c8a"/>
<rect x="269.9" y="203.4" width="3.6" height="4.1" fill="#d1a18f"/>
<rect x="273.1" y="203.4" width="3.6" height="4.1" fill="#d5a794"/>
<rect x="276.3" y="203.4" width="3.6" height="4.1" fill="#d8ad9a"/>
<rect x="279.4" y="203.4" width="3.6" height="4.1" fill="#dbb29e"/>
<rect x="282.6" y="203.4" width="3.6" height="4.1" fill="#deb8a3"/>
<rect x="285.8" y="203.4" width="3.6" height="4.1" fill="#e0bca7"/>
<rect x="288.9" y="203.4" width="3.6" height="4.1" fill="#e3c1ab"/>
<rect x="292.1" y="203.4" width="3.6" height="4.1" fill="#e6c6b0"/>
<rect x="295.3" y="203.4" width="3.6" height="4.1" fill="#e9cbb4"/>
<rect x="298.4" y="203.4" width="3.6" height="4.1" fill="#ecd1b9"/>
<rect x="206.6" y="207.1" width="3.6" height="4.1" fill="#f5e2c9"/>
<rect x="209.8" y="207.1" width="3.6" height="4.1" fill="#f3dec5"/>
<rect x="212.9" y="207.1" width="3.6" height="4.1" fill="#f1dac2"/>
<rect x="216.1" y="207.1" width="3.6" height="4.1" fill="#eed5bd"/>
<rect x="219.3" y="207.1" width="3.6" height="4.1" fill="#ebd0b8"/>
<rect x="222.4" y="207.1" width="3.6" height="4.1" fill="#e8c9b3"/>
<rect x="225.6" y="207.1" width="3.6" height="4.1" fill="#e4c3ad"/>
<rect x="228.8" y="207.1" width="3.6" height="4.1" fill="#e0bba6"/>
<rect x="231.9" y="207.1" width="3.6" height="4.1" fill="#dcb4a0"/>
<rect x="235.1" y="207.1" width="3.6" height="4.1" fill="#d8ac99"/>
<rect x="238.3" y="207.1" width="3.6" height="4.1" fill="#d3a592"/>
<rect x="241.4" y="207.1" width="3.6" height="4.1" fill="#d09e8c"/>
<rect x="244.6" y="207.1" width="3.6" height="4.1" fill="#cc9887"/>
<rect x="247.8" y="207.1" width="3.6" height="4.1" fill="#ca9383"/>
<rect x="250.9" y="207.1" width="3.6" height="4.1" fill="#c89080"/>
<rect x="254.1" y="207.1" width="3.6" height="4.1" fill="#c78e7e"/>
<rect x="257.3" y="207.1" width="3.6" height="4.1" fill="#c78f7f"/>
<rect x="260.4" y="207.1" width="3.6" height="4.1" fill="#c89181"/>
<rect x="263.6" y="207.1" width="3.6" height="4.1" fill="#ca9584"/>
<rect x="266.8" y="207.1" width="3.6" height="4.1" fill="#cd9988"/>
<rect x="269.9" y="207.1" width="3.6" height="4.1" fill="#d09e8c"/>
<rect x="273.1" y="207.1" width="3.6" height="4.1" fill="#d2a391"/>
<rect x="276.3" y="207.1" width="3.6" height="4.1" fill="#d5a895"/>
<rect x="279.4" y="207.1" width="3.6" height="4.1" fill="#d7ac99"/>
<rect x="282.6" y="207.1" width="3.6" height="4.1" fill="#dab19d"/>
<rect x="285.8" y="207.1" width="3.6" height="4.1" fill="#dcb5a1"/>
<rect x="288.9" y="207.1" width="3.6" height="4.1" fill="#dfbaa5"/>
<rect x="292.1" y="207.1" width="3.6" height="4.1" fill="#e2bfa9"/>
<rect x="295.3" y="207.1" width="3.6" height="4.1" fill="#e5c5af"/>
<rect x="298.4" y="207.1" width="3.6" height="4.1" fill="#e9ccb5"/>
<rect x="206.6" y="210.7" width="3.6" height="4.1" fill="#fbefd5"/>
<rect x="209.8" y="210.7" width="3.6" height="4.1" fill="#fdefd4"/>
<rect x="212.9" y="210.7" width="3.6" height="4.1" fill="#faebd0"/>
<rect x="216.1" y="210.7" width="3.6" height="4.1" fill="#f7e5cb"/>
<rect x="219.3" y="210.7" width="3.6" height="4.1" fill="#f3dec5"/>
<rect x="222.4" y="210.7" width="3.6" height="4.1" fill="#efd7bf"/>
<rect x="225.6" y="210.7" width="3.6" height="4.1" fill="#ebcfb8"/>
<rect x="228.8" y="210.7" width="3.6" height="4.1" fill="#e6c6b0"/>
<rect x="231.9" y="210.7" width="3.6" height="4.1" fill="#e1bea8"/>
<rect x="235.1" y="210.7" width="3.6" height="4.1" fill="#dcb5a1"/>
<rect x="238.3" y="210.7" width="3.6" height="4.1" fill="#d8ac99"/>
<rect x="241.4" y="210.7" width="3.6" height="4.1" fill="#d3a492"/>
<rect x="244.6" y="210.7" width="3.6" height="4.1" fill="#cf9d8c"/>
<rect x="247.8" y="210.7" width="3.6" height="4.1" fill="#cc9786"/>
<rect x="250.9" y="210.7" width="3.6" height="4.1" fill="#ca9383"/>
<rect x="254.1" y="210.7" width="3.6" height="4.1" fill="#c89181"/>
<rect x="257.3" y="210.7" width="3.6" height="4.1" fill="#c89180"/>
<rect x="260.4" y="210.7" width="3.6" height="4.1" fill="#c99281"/>
<rect x="263.6" y="210.7" width="3.6" height="4.1" fill="#ca9584"/>
<rect x="266.8" y="210.7" width="3.6" height="4.1" fill="#cc9887"/>
<rect x="269.9" y="210.7" width="3.6" height="4.1" fill="#cf9c8b"/>
<rect x="273.1" y="210.7" width="3.6" height="4.1" fill="#d1a18f"/>
<rect x="276.3" y="210.7" width="3.6" height="4.1" fill="#d3a592"/>
<rect x="279.4" y="210.7" width="3.6" height="4.1" fill="#d6a996"/>
<rect x="282.6" y="210.7" width="3.6" height="4.1" fill="#d8ad99"/>
<rect x="285.8" y="210.7" width="3.6" height="4.1" fill="#dab19d"/>
<rect x="288.9" y="210.7" width="3.6" height="4.1" fill="#ddb6a2"/>
<rect x="292.1" y="210.7" width="3.6" height="4.1" fill="#e0bca7"/>
<rect x="295.3" y="210.7" width="3.6" height="4.1" fill="#e4c3ad"/>
<rect x="298.4" y="210.7" width="3.6" height="4.1" fill="#e9cdb6"/>
<rect x="206.6" y="214.4" width="3.6" height="4.1" fill="#efe8d3"/>
<rect x="209.8" y="214.4" width="3.6" height="4.1" fill="#f1e9d3"/>
<rect x="212.9" y="214.4" width="3.6" height="4.1" fill="#f4ebd4"/>
<rect x="216.1" y="214.4" width="3.6" height="4.1" fill="#f9edd4"/>
<rect x="219.3" y="214.4" width="3.6" height="4.1" fill="#fdefd4"/>
<rect x="222.4" y="214.4" width="3.6" height="4.1" fill="#f8e6cd"/>
<rect x="225.6" y="214.4" width="3.6" height="4.1" fill="#f2ddc4"/>
<rect x="228.8" y="214.4" width="3.6" height="4.1" fill="#edd3bb"/>
<rect x="231.9" y="214.4" width="3.6" height="4.1" fill="#e7c9b2"/>
<rect x="235.1" y="214.4" width="3.6" height="4.1" fill="#e2bfa9"/>
<rect x="238.3" y="214.4" width="3.6" height="4.1" fill="#dcb5a1"/>
<rect x="241.4" y="214.4" width="3.6" height="4.1" fill="#d7ac98"/>
<rect x="244.6" y="214.4" width="3.6" height="4.1" fill="#d3a491"/>
<rect x="247.8" y="214.4" width="3.6" height="4.1" fill="#cf9d8b"/>
<rect x="250.9" y="214.4" width="3.6" height="4.1" fill="#cc9887"/>
<rect x="254.1" y="214.4" width="3.6" height="4.1" fill="#ca9584"/>
<rect x="257.3" y="214.4" width="3.6" height="4.1" fill="#ca9383"/>
<rect x="260.4" y="214.4" width="3.6" height="4.1" fill="#ca9483"/>
<rect x="263.6" y="214.4" width="3.6" height="4.1" fill="#cb9685"/>
<rect x="266.8" y="214.4" width="3.6" height="4.1" fill="#cd9988"/>
<rect x="269.9" y="214.4" width="3.6" height="4.1" fill="#cf9d8b"/>
<rect x="273.1" y="214.4" width="3.6" height="4.1" fill="#d1a08e"/>
<rect x="276.3" y="214.4" width="3.6" height="4.1" fill="#d3a492"/>
<rect x="279.4" y="214.4" width="3.6" height="4.1" fill="#d5a895"/>
<rect x="282.6" y="214.4" width="3.6" height="4.1" fill="#d7ac99"/>
<rect x="285.8" y="214.4" width="3.6" height="4.1" fill="#dab19d"/>
<rect x="288.9" y="214.4" width="3.6" height="4.1" fill="#ddb7a2"/>
<rect x="292.1" y="214.4" width="3.6" height="4.1" fill="#e1bea8"/>
<rect x="295.3" y="214.4" width="3.6" height="4.1" fill="#e6c7b1"/>
<rect x="298.4" y="214.4" width="3.6" height="4.1" fill="#edd3bb"/>
<rect x="206.6" y="218.1" width="3.6" height="4.1" fill="#e2e1d0"/>
<rect x="209.8" y="218.1" width="3.6" height="4.1" fill="#e4e2d1"/>
<rect x="212.9" y="218.1" width="3.6" height="4.1" fill="#e7e4d1"/>
<rect x="216.1" y="218.1" width="3.6" height="4.1" fill="#ece6d2"/>
<rect x="219.3" y="218.1" width="3.6" height="4.1" fill="#f2ead3"/>
<rect x="222.4" y="218.1" width="3.6" height="4.1" fill="#f8edd4"/>
<rect x="225.6" y="218.1" width="3.6" height="4.1" fill="#fbecd2"/>
<rect x="228.8" y="218.1" width="3.6" height="4.1" fill="#f4e0c7"/>
<rect x="231.9" y="218.1" width="3.6" height="4.1" fill="#eed5bd"/>
<rect x="235.1" y="218.1" width="3.6" height="4.1" fill="#e7c9b2"/>
<rect x="238.3" y="218.1" width="3.6" height="4.1" fill="#e1bea9"/>
<rect x="241.4" y="218.1" width="3.6" height="4.1" fill="#dcb49f"/>
<rect x="244.6" y="218.1" width="3.6" height="4.1" fill="#d6aa97"/>
<rect x="247.8" y="218.1" width="3.6" height="4.1" fill="#d2a390"/>
<rect x="250.9" y="218.1" width="3.6" height="4.1" fill="#cf9d8b"/>
<rect x="254.1" y="218.1" width="3.6" height="4.1" fill="#cd9988"/>
<rect x="257.3" y="218.1" width="3.6" height="4.1" fill="#cc9786"/>
<rect x="260.4" y="218.1" width="3.6" height="4.1" fill="#cc9786"/>
<rect x="263.6" y="218.1" width="3.6" height="4.1" fill="#cc9887"/>
<rect x="266.8" y="218.1" width="3.6" height="4.1" fill="#ce9b89"/>
<rect x="269.9" y="218.1" width="3.6" height="4.1" fill="#d09e8c"/>
<rect x="273.1" y="218.1" width="3.6" height="4.1" fill="#d2a290"/>
<rect x="276.3" y="218.1" width="3.6" height="4.1" fill="#d4a693"/>
<rect x="279.4" y="218.1" width="3.6" height="4.1" fill="#d6aa97"/>
<rect x="282.6" y="218.1" width="3.6" height="4.1" fill="#d9ae9b"/>
<rect x="285.8" y="218.1" width="3.6" height="4.1" fill="#dcb4a0"/>
<rect x="288.9" y="218.1" width="3.6" height="4.1" fill="#e0bba6"/>
<rect x="292.1" y="218.1" width="3.6" height="4.1" fill="#e5c4ae"/>
<rect x="295.3" y="218.1" width="3.6" height="4.1" fill="#ebd0b9"/>
<rect x="298.4" y="218.1" width="3.6" height="4.1" fill="#f3dec5"/>
<rect x="206.6" y="221.7" width="3.6" height="4.1" fill="#d3d8ce"/>
<rect x="209.8" y="221.7" width="3.6" height="4.1" fill="#d5d9ce"/>
<rect x="212.9" y="221.7" width="3.6" height="4.1" fill="#d9dccf"/>
<rect x="216.1" y="221.7" width="3.6" height="4.1" fill="#dedfd0"/>
<rect x="219.3" y="221.7" width="3.6" height="4.1" fill="#e5e3d1"/>
<rect x="222.4" y="221.7" width="3.6" height="4.1" fill="#ede7d2"/>
<rect x="225.6" y="221.7" width="3.6" height="4.1" fill="#f5ecd4"/>
<rect x="228.8" y="221.7" width="3.6" height="4.1" fill="#fcefd4"/>
<rect x="231.9" y="221.7" width="3.6" height="4.1" fill="#f5e1c8"/>
<rect x="235.1" y="221.7" width="3.6" height="4.1" fill="#edd4bc"/>
<rect x="238.3" y="221.7" width="3.6" height="4.1" fill="#e6c7b1"/>
<rect x="241.4" y="221.7" width="3.6" height="4.1" fill="#e0bca7"/>
<rect x="244.6" y="221.7" width="3.6" height="4.1" fill="#dab19d"/>
<rect x="247.8" y="221.7" width="3.6" height="4.1" fill="#d6a996"/>
<rect x="250.9" y="221.7" width="3.6" height="4.1" fill="#d2a290"/>
<rect x="254.1" y="221.7" width="3.6" height="4.1" fill="#cf9d8c"/>
<rect x="257.3" y="221.7" width="3.6" height="4.1" fill="#ce9b89"/>
<rect x="260.4" y="221.7" width="3.6" height="4.1" fill="#cd9a89"/>
<rect x="263.6" y="221.7" width="3.6" height="4.1" fill="#ce9b8a"/>
<rect x="266.8" y="221.7" width="3.6" height="4.1" fill="#cf9d8c"/>
<rect x="269.9" y="221.7" width="3.6" height="4.1" fill="#d1a18f"/>
<rect x="273.1" y="221.7" width="3.6" height="4.1" fill="#d3a592"/>
<rect x="276.3" y="221.7" width="3.6" height="4.1" fill="#d6a996"/>
<rect x="279.4" y="221.7" width="3.6" height="4.1" fill="#d8ae9a"/>
<rect x="282.6" y="221.7" width="3.6" height="4.1" fill="#dcb49f"/>
<rect x="285.8" y="221.7" width="3.6" height="4.1" fill="#e0bba6"/>
<rect x="288.9" y="221.7" width="3.6" height="4.1" fill="#e5c4ae"/>
<rect x="292.1" y="221.7" width="3.6" height="4.1" fill="#ebd0b8"/>
<rect x="295.3" y="221.7" width="3.6" height="4.1" fill="#f3dec5"/>
<rect x="298.4" y="221.7" width="3.6" height="4.1" fill="#fdefd4"/>
<rect x="206.6" y="225.4" width="3.6" height="4.1" fill="#c3cfcb"/>
<rect x="209.8" y="225.4" width="3.6" height="4.1" fill="#c5d1cc"/>
<rect x="212.9" y="225.4" width="3.6" height="4.1" fill="#cad3cd"/>
<rect x="216.1" y="225.4" width="3.6" height="4.1" fill="#d0d7ce"/>
<rect x="219.3" y="225.4" width="3.6" height="4.1" fill="#d8dbcf"/>
<rect x="222.4" y="225.4" width="3.6" height="4.1" fill="#e1e0d0"/>
<rect x="225.6" y="225.4" width="3.6" height="4.1" fill="#ebe6d2"/>
<rect x="228.8" y="225.4" width="3.6" height="4.1" fill="#f5ebd4"/>
<rect x="231.9" y="225.4" width="3.6" height="4.1" fill="#fceed3"/>
<rect x="235.1" y="225.4" width="3.6" height="4.1" fill="#f3dfc6"/>
<rect x="238.3" y="225.4" width="3.6" height="4.1" fill="#ecd0b9"/>
<rect x="241.4" y="225.4" width="3.6" height="4.1" fill="#e4c4ae"/>
<rect x="244.6" y="225.4" width="3.6" height="4.1" fill="#deb8a3"/>
<rect x="247.8" y="225.4" width="3.6" height="4.1" fill="#d9af9b"/>
<rect x="250.9" y="225.4" width="3.6" height="4.1" fill="#d4a794"/>
<rect x="254.1" y="225.4" width="3.6" height="4.1" fill="#d1a18f"/>
<rect x="257.3" y="225.4" width="3.6" height="4.1" fill="#d09e8d"/>
<rect x="260.4" y="225.4" width="3.6" height="4.1" fill="#cf9d8c"/>
<rect x="263.6" y="225.4" width="3.6" height="4.1" fill="#d09e8c"/>
<rect x="266.8" y="225.4" width="3.6" height="4.1" fill="#d1a18e"/>
<rect x="269.9" y="225.4" width="3.6" height="4.1" fill="#d3a492"/>
<rect x="273.1" y="225.4" width="3.6" height="4.1" fill="#d5a895"/>
<rect x="276.3" y="225.4" width="3.6" height="4.1" fill="#d8ae9a"/>
<rect x="279.4" y="225.4" width="3.6" height="4.1" fill="#dcb4a0"/>
<rect x="282.6" y="225.4" width="3.6" height="4.1" fill="#e0bca7"/>
<rect x="285.8" y="225.4" width="3.6" height="4.1" fill="#e5c5af"/>
<rect x="288.9" y="225.4" width="3.6" height="4.1" fill="#ecd1ba"/>
<rect x="292.1" y="225.4" width="3.6" height="4.1" fill="#f4e0c6"/>
<rect x="295.3" y="225.4" width="3.6" height="4.1" fill="#fdf0d5"/>
<rect x="298.4" y="225.4" width="3.6" height="4.1" fill="#f0e9d3"/>
<rect x="206.6" y="229.1" width="3.6" height="4.1" fill="#b2c6c9"/>
<rect x="209.8" y="229.1" width="3.6" height="4.1" fill="#b5c7c9"/>
<rect x="212.9" y="229.1" width="3.6" height="4.1" fill="#bacaca"/>
<rect x="216.1" y="229.1" width="3.6" height="4.1" fill="#c2cfcb"/>
<rect x="219.3" y="229.1" width="3.6" height="4.1" fill="#cbd4cd"/>
<rect x="222.4" y="229.1" width="3.6" height="4.1" fill="#d5dace"/>
<rect x="225.6" y="229.1" width="3.6" height="4.1" fill="#e0e0d0"/>
<rect x="228.8" y="229.1" width="3.6" height="4.1" fill="#ece6d2"/>
<rect x="231.9" y="229.1" width="3.6" height="4.1" fill="#f7ecd4"/>
<rect x="235.1" y="229.1" width="3.6" height="4.1" fill="#f9e9cf"/>
<rect x="238.3" y="229.1" width="3.6" height="4.1" fill="#f0d9c1"/>
<rect x="241.4" y="229.1" width="3.6" height="4.1" fill="#e9cbb4"/>
<rect x="244.6" y="229.1" width="3.6" height="4.1" fill="#e2bfa9"/>
<rect x="247.8" y="229.1" width="3.6" height="4.1" fill="#dcb4a0"/>
<rect x="250.9" y="229.1" width="3.6" height="4.1" fill="#d7ac98"/>
<rect x="254.1" y="229.1" width="3.6" height="4.1" fill="#d4a593"/>
<rect x="257.3" y="229.1" width="3.6" height="4.1" fill="#d2a290"/>
<rect x="260.4" y="229.1" width="3.6" height="4.1" fill="#d1a08e"/>
<rect x="263.6" y="229.1" width="3.6" height="4.1" fill="#d1a18f"/>
<rect x="266.8" y="229.1" width="3.6" height="4.1" fill="#d3a491"/>
<rect x="269.9" y="229.1" width="3.6" height="4.1" fill="#d5a895"/>
<rect x="273.1" y="229.1" width="3.6" height="4.1" fill="#d8ad9a"/>
<rect x="276.3" y="229.1" width="3.6" height="4.1" fill="#dcb4a0"/>
<rect x="279.4" y="229.1" width="3.6" height="4.1" fill="#e0bca7"/>
<rect x="282.6" y="229.1" width="3.6" height="4.1" fill="#e6c6b0"/>
<rect x="285.8" y="229.1" width="3.6" height="4.1" fill="#edd3bb"/>
<rect x="288.9" y="229.1" width="3.6" height="4.1" fill="#f5e2c8"/>
<rect x="292.1" y="229.1" width="3.6" height="4.1" fill="#fbefd5"/>
<rect x="295.3" y="229.1" width="3.6" height="4.1" fill="#efe8d3"/>
<rect x="298.4" y="229.1" width="3.6" height="4.1" fill="#e1e0d0"/>
<rect x="206.6" y="232.7" width="3.6" height="4.1" fill="#a1bcc6"/>
<rect x="209.8" y="232.7" width="3.6" height="4.1" fill="#a4bec6"/>
<rect x="212.9" y="232.7" width="3.6" height="4.1" fill="#aac2c7"/>
<rect x="216.1" y="232.7" width="3.6" height="4.1" fill="#b3c6c9"/>
<rect x="219.3" y="232.7" width="3.6" height="4.1" fill="#beccca"/>
<rect x="222.4" y="232.7" width="3.6" height="4.1" fill="#c9d3cc"/>
<rect x="225.6" y="232.7" width="3.6" height="4.1" fill="#d6dacf"/>
<rect x="228.8" y="232.7" width="3.6" height="4.1" fill="#e3e1d1"/>
<rect x="231.9" y="232.7" width="3.6" height="4.1" fill="#efe8d3"/>
<rect x="235.1" y="232.7" width="3.6" height="4.1" fill="#fbefd5"/>
<rect x="238.3" y="232.7" width="3.6" height="4.1" fill="#f5e2c9"/>
<rect x="241.4" y="232.7" width="3.6" height="4.1" fill="#edd2bb"/>
<rect x="244.6" y="232.7" width="3.6" height="4.1" fill="#e5c4ae"/>
<rect x="247.8" y="232.7" width="3.6" height="4.1" fill="#deb9a4"/>
<rect x="250.9" y="232.7" width="3.6" height="4.1" fill="#d9b09c"/>
<rect x="254.1" y="232.7" width="3.6" height="4.1" fill="#d6a996"/>
<rect x="257.3" y="232.7" width="3.6" height="4.1" fill="#d3a592"/>
<rect x="260.4" y="232.7" width="3.6" height="4.1" fill="#d3a391"/>
<rect x="263.6" y="232.7" width="3.6" height="4.1" fill="#d3a492"/>
<rect x="266.8" y="232.7" width="3.6" height="4.1" fill="#d5a795"/>
<rect x="269.9" y="232.7" width="3.6" height="4.1" fill="#d8ac99"/>
<rect x="273.1" y="232.7" width="3.6" height="4.1" fill="#dbb39f"/>
<rect x="276.3" y="232.7" width="3.6" height="4.1" fill="#e0bca7"/>
<rect x="279.4" y="232.7" width="3.6" height="4.1" fill="#e6c7b0"/>
<rect x="282.6" y="232.7" width="3.6" height="4.1" fill="#edd4bc"/>
<rect x="285.8" y="232.7" width="3.6" height="4.1" fill="#f6e3ca"/>
<rect x="288.9" y="232.7" width="3.6" height="4.1" fill="#faeed4"/>
<rect x="292.1" y="232.7" width="3.6" height="4.1" fill="#ede7d2"/>
<rect x="295.3" y="232.7" width="3.6" height="4.1" fill="#dfdfd0"/>
<rect x="298.4" y="232.7" width="3.6" height="4.1" fill="#d1d7ce"/>
<rect x="206.6" y="236.4" width="3.6" height="4.1" fill="#91b3c3"/>
<rect x="209.8" y="236.4" width="3.6" height="4.1" fill="#95b5c4"/>
<rect x="212.9" y="236.4" width="3.6" height="4.1" fill="#9bb9c5"/>
<rect x="216.1" y="236.4" width="3.6" height="4.1" fill="#a5bec6"/>
<rect x="219.3" y="236.4" width="3.6" height="4.1" fill="#b1c5c8"/>
<rect x="222.4" y="236.4" width="3.6" height="4.1" fill="#becdcb"/>
<rect x="225.6" y="236.4" width="3.6" height="4.1" fill="#ccd4cd"/>
<rect x="228.8" y="236.4" width="3.6" height="4.1" fill="#dadccf"/>
<rect x="231.9" y="236.4" width="3.6" height="4.1" fill="#e8e4d2"/>
<rect x="235.1" y="236.4" width="3.6" height="4.1" fill="#f5ebd4"/>
<rect x="238.3" y="236.4" width="3.6" height="4.1" fill="#faead0"/>
<rect x="241.4" y="236.4" width="3.6" height="4.1" fill="#f0d9c0"/>
<rect x="244.6" y="236.4" width="3.6" height="4.1" fill="#e8cab3"/>
<rect x="247.8" y="236.4" width="3.6" height="4.1" fill="#e1bda8"/>
<rect x="250.9" y="236.4" width="3.6" height="4.1" fill="#dbb39f"/>
<rect x="254.1" y="236.4" width="3.6" height="4.1" fill="#d7ac99"/>
<rect x="257.3" y="236.4" width="3.6" height="4.1" fill="#d5a895"/>
<rect x="260.4" y="236.4" width="3.6" height="4.1" fill="#d4a694"/>
<rect x="263.6" y="236.4" width="3.6" height="4.1" fill="#d5a895"/>
<rect x="266.8" y="236.4" width="3.6" height="4.1" fill="#d7ac98"/>
<rect x="269.9" y="236.4" width="3.6" height="4.1" fill="#dbb29e"/>
<rect x="273.1" y="236.4" width="3.6" height="4.1" fill="#e0bba6"/>
<rect x="276.3" y="236.4" width="3.6" height="4.1" fill="#e6c6b0"/>
<rect x="279.4" y="236.4" width="3.6" height="4.1" fill="#edd4bc"/>
<rect x="282.6" y="236.4" width="3.6" height="4.1" fill="#f6e4ca"/>
<rect x="285.8" y="236.4" width="3.6" height="4.1" fill="#f9eed4"/>
<rect x="288.9" y="236.4" width="3.6" height="4.1" fill="#ece6d2"/>
<rect x="292.1" y="236.4" width="3.6" height="4.1" fill="#dedfd0"/>
<rect x="295.3" y="236.4" width="3.6" height="4.1" fill="#d0d6cd"/>
<rect x="298.4" y="236.4" width="3.6" height="4.1" fill="#c2cfcb"/>
<rect x="206.6" y="240.1" width="3.6" height="4.1" fill="#82abc1"/>
<rect x="209.8" y="240.1" width="3.6" height="4.1" fill="#86adc1"/>
<rect x="212.9" y="240.1" width="3.6" height="4.1" fill="#8db1c3"/>
<rect x="216.1" y="240.1" width="3.6" height="4.1" fill="#98b7c4"/>
<rect x="219.3" y="240.1" width="3.6" height="4.1" fill="#a5bec6"/>
<rect x="222.4" y="240.1" width="3.6" height="4.1" fill="#b3c7c9"/>
<rect x="225.6" y="240.1" width="3.6" height="4.1" fill="#c3cfcb"/>
<rect x="228.8" y="240.1" width="3.6" height="4.1" fill="#d2d8ce"/>
<rect x="231.9" y="240.1" width="3.6" height="4.1" fill="#e1e0d0"/>
<rect x="235.1" y="240.1" width="3.6" height="4.1" fill="#efe8d3"/>
<rect x="238.3" y="240.1" width="3.6" height="4.1" fill="#fcf0d5"/>
<rect x="241.4" y="240.1" width="3.6" height="4.1" fill="#f3dfc6"/>
<rect x="244.6" y="240.1" width="3.6" height="4.1" fill="#ebcfb7"/>
<rect x="247.8" y="240.1" width="3.6" height="4.1" fill="#e3c1ac"/>
<rect x="250.9" y="240.1" width="3.6" height="4.1" fill="#ddb7a2"/>
<rect x="254.1" y="240.1" width="3.6" height="4.1" fill="#d9af9b"/>
<rect x="257.3" y="240.1" width="3.6" height="4.1" fill="#d7ab97"/>
<rect x="260.4" y="240.1" width="3.6" height="4.1" fill="#d6a996"/>
<rect x="263.6" y="240.1" width="3.6" height="4.1" fill="#d7ab98"/>
<rect x="266.8" y="240.1" width="3.6" height="4.1" fill="#dab19d"/>
<rect x="269.9" y="240.1" width="3.6" height="4.1" fill="#deb9a4"/>
<rect x="273.1" y="240.1" width="3.6" height="4.1" fill="#e5c4ae"/>
<rect x="276.3" y="240.1" width="3.6" height="4.1" fill="#edd2bb"/>
<rect x="279.4" y="240.1" width="3.6" height="4.1" fill="#f6e3ca"/>
<rect x="282.6" y="240.1" width="3.6" height="4.1" fill="#f9eed4"/>
<rect x="285.8" y="240.1" width="3.6" height="4.1" fill="#ebe6d2"/>
<rect x="288.9" y="240.1" width="3.6" height="4.1" fill="#ddded0"/>
<rect x="292.1" y="240.1" width="3.6" height="4.1" fill="#ced6cd"/>
<rect x="295.3" y="240.1" width="3.6" height="4.1" fill="#c0cecb"/>
<rect x="298.4" y="240.1" width="3.6" height="4.1" fill="#b3c6c9"/>
<rect x="206.6" y="243.7" width="3.6" height="4.1" fill="#75a3be"/>
<rect x="209.8" y="243.7" width="3.6" height="4.1" fill="#79a6bf"/>
<rect x="212.9" y="243.7" width="3.6" height="4.1" fill="#81aac1"/>
<rect x="216.1" y="243.7" width="3.6" height="4.1" fill="#8db1c2"/>
<rect x="219.3" y="243.7" width="3.6" height="4.1" fill="#9bb9c5"/>
<rect x="222.4" y="243.7" width="3.6" height="4.1" fill="#aac1c7"/>
<rect x="225.6" y="243.7" width="3.6" height="4.1" fill="#bbcbca"/>
<rect x="228.8" y="243.7" width="3.6" height="4.1" fill="#ccd4cd"/>
<rect x="231.9" y="243.7" width="3.6" height="4.1" fill="#dcddcf"/>
<rect x="235.1" y="243.7" width="3.6" height="4.1" fill="#ebe6d2"/>
<rect x="238.3" y="243.7" width="3.6" height="4.1" fill="#f9edd4"/>
<rect x="241.4" y="243.7" width="3.6" height="4.1" fill="#f6e4ca"/>
<rect x="244.6" y="243.7" width="3.6" height="4.1" fill="#edd3bb"/>
<rect x="247.8" y="243.7" width="3.6" height="4.1" fill="#e5c5af"/>
<rect x="250.9" y="243.7" width="3.6" height="4.1" fill="#dfbaa5"/>
<rect x="254.1" y="243.7" width="3.6" height="4.1" fill="#dbb29e"/>
<rect x="257.3" y="243.7" width="3.6" height="4.1" fill="#d8ae9a"/>
<rect x="260.4" y="243.7" width="3.6" height="4.1" fill="#d8ad9a"/>
<rect x="263.6" y="243.7" width="3.6" height="4.1" fill="#dab09d"/>
<rect x="266.8" y="243.7" width="3.6" height="4.1" fill="#deb7a3"/>
<rect x="269.9" y="243.7" width="3.6" height="4.1" fill="#e3c2ac"/>
<rect x="273.1" y="243.7" width="3.6" height="4.1" fill="#ebd0b9"/>
<rect x="276.3" y="243.7" width="3.6" height="4.1" fill="#f5e1c8"/>
<rect x="279.4" y="243.7" width="3.6" height="4.1" fill="#faeed4"/>
<rect x="282.6" y="243.7" width="3.6" height="4.1" fill="#ece6d2"/>
<rect x="285.8" y="243.7" width="3.6" height="4.1" fill="#ddded0"/>
<rect x="288.9" y="243.7" width="3.6" height="4.1" fill="#ced6cd"/>
<rect x="292.1" y="243.7" width="3.6" height="4.1" fill="#bfcdcb"/>
<rect x="295.3" y="243.7" width="3.6" height="4.1" fill="#b2c6c9"/>
<rect x="298.4" y="243.7" width="3.6" height="4.1" fill="#a7c0c7"/>
<rect x="206.6" y="247.4" width="3.6" height="4.1" fill="#6b9ebd"/>
<rect x="209.8" y="247.4" width="3.6" height="4.1" fill="#6fa0bd"/>
<rect x="212.9" y="247.4" width="3.6" height="4.1" fill="#78a5bf"/>
<rect x="216.1" y="247.4" width="3.6" height="4.1" fill="#84acc1"/>
<rect x="219.3" y="247.4" width="3.6" height="4.1" fill="#92b4c3"/>
<rect x="222.4" y="247.4" width="3.6" height="4.1" fill="#a3bdc6"/>
<rect x="225.6" y="247.4" width="3.6" height="4.1" fill="#b5c7c9"/>
<rect x="228.8" y="247.4" width="3.6" height="4.1" fill="#c6d1cc"/>
<rect x="231.9" y="247.4" width="3.6" height="4.1" fill="#d7dbcf"/>
<rect x="235.1" y="247.4" width="3.6" height="4.1" fill="#e7e4d1"/>
<rect x="238.3" y="247.4" width="3.6" height="4.1" fill="#f5ecd4"/>
<rect x="241.4" y="247.4" width="3.6" height="4.1" fill="#f8e8ce"/>
<rect x="244.6" y="247.4" width="3.6" height="4.1" fill="#efd6be"/>
<rect x="247.8" y="247.4" width="3.6" height="4.1" fill="#e7c8b2"/>
<rect x="250.9" y="247.4" width="3.6" height="4.1" fill="#e1bda8"/>
<rect x="254.1" y="247.4" width="3.6" height="4.1" fill="#ddb5a1"/>
<rect x="257.3" y="247.4" width="3.6" height="4.1" fill="#dbb29e"/>
<rect x="260.4" y="247.4" width="3.6" height="4.1" fill="#dbb29e"/>
<rect x="263.6" y="247.4" width="3.6" height="4.1" fill="#ddb7a2"/>
<rect x="266.8" y="247.4" width="3.6" height="4.1" fill="#e2c0aa"/>
<rect x="269.9" y="247.4" width="3.6" height="4.1" fill="#eacdb6"/>
<rect x="273.1" y="247.4" width="3.6" height="4.1" fill="#f3dec5"/>
<rect x="276.3" y="247.4" width="3.6" height="4.1" fill="#fbefd5"/>
<rect x="279.4" y="247.4" width="3.6" height="4.1" fill="#ede7d2"/>
<rect x="282.6" y="247.4" width="3.6" height="4.1" fill="#deded0"/>
<rect x="285.8" y="247.4" width="3.6" height="4.1" fill="#ced6cd"/>
<rect x="288.9" y="247.4" width="3.6" height="4.1" fill="#bfcdcb"/>
<rect x="292.1" y="247.4" width="3.6" height="4.1" fill="#b2c6c9"/>
<rect x="295.3" y="247.4" width="3.6" height="4.1" fill="#a6bfc7"/>
<rect x="298.4" y="247.4" width="3.6" height="4.1" fill="#9dbac5"/>
<rect x="206.6" y="251.1" width="3.6" height="4.1" fill="#669bbc"/>
<rect x="209.8" y="251.1" width="3.6" height="4.1" fill="#689cbc"/>
<rect x="212.9" y="251.1" width="3.6" height="4.1" fill="#71a1be"/>
<rect x="216.1" y="251.1" width="3.6" height="4.1" fill="#7da8c0"/>
<rect x="219.3" y="251.1" width="3.6" height="4.1" fill="#8db1c2"/>
<rect x="222.4" y="251.1" width="3.6" height="4.1" fill="#9ebac5"/>
<rect x="225.6" y="251.1" width="3.6" height="4.1" fill="#b0c5c8"/>
<rect x="228.8" y="251.1" width="3.6" height="4.1" fill="#c2cfcb"/>
<rect x="231.9" y="251.1" width="3.6" height="4.1" fill="#d4d9ce"/>
<rect x="235.1" y="251.1" width="3.6" height="4.1" fill="#e4e2d1"/>
<rect x="238.3" y="251.1" width="3.6" height="4.1" fill="#f3ead3"/>
<rect x="241.4" y="251.1" width="3.6" height="4.1" fill="#faebd1"/>
<rect x="244.6" y="251.1" width="3.6" height="4.1" fill="#f0d9c1"/>
<rect x="247.8" y="251.1" width="3.6" height="4.1" fill="#e9cbb4"/>
<rect x="250.9" y="251.1" width="3.6" height="4.1" fill="#e3c0ab"/>
<rect x="254.1" y="251.1" width="3.6" height="4.1" fill="#dfb9a5"/>
<rect x="257.3" y="251.1" width="3.6" height="4.1" fill="#ddb7a2"/>
<rect x="260.4" y="251.1" width="3.6" height="4.1" fill="#deb9a4"/>
<rect x="263.6" y="251.1" width="3.6" height="4.1" fill="#e2c0aa"/>
<rect x="266.8" y="251.1" width="3.6" height="4.1" fill="#e9cbb4"/>
<rect x="269.9" y="251.1" width="3.6" height="4.1" fill="#f2dcc3"/>
<rect x="273.1" y="251.1" width="3.6" height="4.1" fill="#fdf0d5"/>
<rect x="276.3" y="251.1" width="3.6" height="4.1" fill="#efe8d3"/>
<rect x="279.4" y="251.1" width="3.6" height="4.1" fill="#dfdfd0"/>
<rect x="282.6" y="251.1" width="3.6" height="4.1" fill="#cfd6cd"/>
<rect x="285.8" y="251.1" width="3.6" height="4.1" fill="#c0cecb"/>
<rect x="288.9" y="251.1" width="3.6" height="4.1" fill="#b2c6c9"/>
<rect x="292.1" y="251.1" width="3.6" height="4.1" fill="#a6bfc7"/>
<rect x="295.3" y="251.1" width="3.6" height="4.1" fill="#9dbac5"/>
<rect x="298.4" y="251.1" width="3.6" height="4.1" fill="#97b6c4"/>
<rect x="206.6" y="254.7" width="3.6" height="4.1" fill="#669bbc"/>
<rect x="209.8" y="254.7" width="3.6" height="4.1" fill="#669bbc"/>
<rect x="212.9" y="254.7" width="3.6" height="4.1" fill="#6d9fbd"/>
<rect x="216.1" y="254.7" width="3.6" height="4.1" fill="#7aa6bf"/>
<rect x="219.3" y="254.7" width="3.6" height="4.1" fill="#8aafc2"/>
<rect x="222.4" y="254.7" width="3.6" height="4.1" fill="#9bb9c5"/>
<rect x="225.6" y="254.7" width="3.6" height="4.1" fill="#aec3c8"/>
<rect x="228.8" y="254.7" width="3.6" height="4.1" fill="#c0cecb"/>
<rect x="231.9" y="254.7" width="3.6" height="4.1" fill="#d2d8ce"/>
<rect x="235.1" y="254.7" width="3.6" height="4.1" fill="#e3e1d1"/>
<rect x="238.3" y="254.7" width="3.6" height="4.1" fill="#f2ead3"/>
<rect x="241.4" y="254.7" width="3.6" height="4.1" fill="#fcedd3"/>
<rect x="244.6" y="254.7" width="3.6" height="4.1" fill="#f2dcc3"/>
<rect x="247.8" y="254.7" width="3.6" height="4.1" fill="#eaceb7"/>
<rect x="250.9" y="254.7" width="3.6" height="4.1" fill="#e5c4ae"/>
<rect x="254.1" y="254.7" width="3.6" height="4.1" fill="#e2bfa9"/>
<rect x="257.3" y="254.7" width="3.6" height="4.1" fill="#e1bea8"/>
<rect x="260.4" y="254.7" width="3.6" height="4.1" fill="#e3c2ac"/>
<rect x="263.6" y="254.7" width="3.6" height="4.1" fill="#e9cbb4"/>
<rect x="266.8" y="254.7" width="3.6" height="4.1" fill="#f1dac1"/>
<rect x="269.9" y="254.7" width="3.6" height="4.1" fill="#fbedd2"/>
<rect x="273.1" y="254.7" width="3.6" height="4.1" fill="#f1e9d3"/>
<rect x="276.3" y="254.7" width="3.6" height="4.1" fill="#e1e0d0"/>
<rect x="279.4" y="254.7" width="3.6" height="4.1" fill="#d1d7ce"/>
<rect x="282.6" y="254.7" width="3.6" height="4.1" fill="#c1cecb"/>
<rect x="285.8" y="254.7" width="3.6" height="4.1" fill="#b3c6c9"/>
<rect x="288.9" y="254.7" width="3.6" height="4.1" fill="#a7bfc7"/>
<rect x="292.1" y="254.7" width="3.6" height="4.1" fill="#9dbac5"/>
<rect x="295.3" y="254.7" width="3.6" height="4.1" fill="#97b6c4"/>
<rect x="298.4" y="254.7" width="3.6" height="4.1" fill="#93b4c3"/>
</g>
<rect x="206.6" y="148.4" width="95.00000000000003" height="109.99999999999997" fill="none" stroke="#000" stroke-width="1.1"/>
<rect x="206.6" y="148.4" width="22.7" height="21.5" fill="#fff"/>
<text x="212.80" y="164.40" font-size="10.4" text-anchor="start" fill="#000" >(f)</text>
<line x1="203.20" y1="258.40" x2="206.60" y2="258.40" stroke="#000" stroke-width="1.1"/>
<text x="198.70" y="262.80" font-size="10.85" text-anchor="end" fill="#000" >0.0</text>
<line x1="206.60" y1="258.40" x2="206.60" y2="261.80" stroke="#000" stroke-width="1.1"/>
<text x="206.60" y="274.20" font-size="10.85" text-anchor="middle" fill="#000" >0.0</text>
<line x1="203.20" y1="203.40" x2="206.60" y2="203.40" stroke="#000" stroke-width="1.1"/>
<text x="198.70" y="207.80" font-size="10.85" text-anchor="end" fill="#000" >0.5</text>
<line x1="254.10" y1="258.40" x2="254.10" y2="261.80" stroke="#000" stroke-width="1.1"/>
<text x="254.10" y="274.20" font-size="10.85" text-anchor="middle" fill="#000" >0.5</text>
<line x1="203.20" y1="148.40" x2="206.60" y2="148.40" stroke="#000" stroke-width="1.1"/>
<text x="198.70" y="152.80" font-size="10.85" text-anchor="end" fill="#000" >1.0</text>
<line x1="301.60" y1="258.40" x2="301.60" y2="261.80" stroke="#000" stroke-width="1.1"/>
<text x="301.60" y="274.20" font-size="10.85" text-anchor="middle" fill="#000" >1.0</text>
<text transform="translate(172.00,204.20) rotate(-90)" font-size="10.9" text-anchor="middle">Flux Φ<tspan font-size="7.3" dy="1.6" font-style="italic">y</tspan><tspan dy="-1.6">/Φ</tspan><tspan font-size="7.3" dy="1.6">0</tspan></text>
<text x="254.10" y="288.60" font-size="10.9" text-anchor="middle" fill="#000" >Flux Φ<tspan font-size="7.3" dy="1.6" font-style="italic">x</tspan><tspan dy="-1.6">/Φ</tspan><tspan font-size="7.3" dy="1.6">0</tspan></text>
<linearGradient id="cb1b" x1="0" y1="0" x2="0" y2="1"><stop offset="0.0000" stop-color="#780000"/><stop offset="0.0417" stop-color="#831412"/><stop offset="0.0833" stop-color="#8e2824"/><stop offset="0.1250" stop-color="#993c35"/><stop offset="0.1667" stop-color="#a45047"/><stop offset="0.2083" stop-color="#af6459"/><stop offset="0.2500" stop-color="#ba786a"/><stop offset="0.2917" stop-color="#c68c7c"/><stop offset="0.3333" stop-color="#d1a08e"/><stop offset="0.3750" stop-color="#dcb4a0"/><stop offset="0.4167" stop-color="#e7c8b2"/><stop offset="0.4583" stop-color="#f2dcc3"/><stop offset="0.5000" stop-color="#fdf0d5"/><stop offset="0.5417" stop-color="#f0e9d3"/><stop offset="0.5833" stop-color="#e4e2d1"/><stop offset="0.6250" stop-color="#d7dbcf"/><stop offset="0.6667" stop-color="#cbd4cd"/><stop offset="0.7083" stop-color="#becdcb"/><stop offset="0.7500" stop-color="#b2c6c8"/><stop offset="0.7917" stop-color="#a5bec6"/><stop offset="0.8333" stop-color="#98b7c4"/><stop offset="0.8750" stop-color="#8cb0c2"/><stop offset="0.9167" stop-color="#7fa9c0"/><stop offset="0.9583" stop-color="#73a2be"/><stop offset="1.0000" stop-color="#669bbc"/></linearGradient>
<rect x="307.6" y="148.4" width="6.0" height="109.99999999999997" fill="url(#cb1b)" stroke="#000" stroke-width="0.9"/>
<line x1="313.60" y1="239.23" x2="317.00" y2="239.23" stroke="#000" stroke-width="1.1"/>
<text x="321.10" y="243.23" font-size="10.85" text-anchor="start" fill="#000" >0.98</text>
<line x1="313.60" y1="203.40" x2="317.00" y2="203.40" stroke="#000" stroke-width="1.1"/>
<text x="321.10" y="207.40" font-size="10.85" text-anchor="start" fill="#000" >1.00</text>
<line x1="313.60" y1="167.57" x2="317.00" y2="167.57" stroke="#000" stroke-width="1.1"/>
<text x="321.10" y="171.57" font-size="10.85" text-anchor="start" fill="#000" >1.02</text>
<text transform="translate(358.80,203.70) rotate(-90)" font-size="10.9" text-anchor="middle">Many-body Berry curv.</text>
<polygon points="431.50,97.30 405.40,81.60 405.40,50.20 431.50,34.50 457.60,50.20 457.60,81.60" fill="none" stroke="#000" stroke-width="1.15" stroke-linejoin="round"/>
<circle cx="405.40" cy="18.80" r="2.6" fill="#780000"/>
<circle cx="414.10" cy="24.03" r="2.6" fill="#6da1c7"/>
<circle cx="408.30" cy="31.01" r="2.6" fill="#6ea1c7"/>
<circle cx="402.50" cy="37.99" r="2.6" fill="#6fa2c7"/>
<circle cx="396.70" cy="44.97" r="2.6" fill="#6ea2c7"/>
<circle cx="390.90" cy="51.94" r="2.6" fill="#6da1c7"/>
<circle cx="385.10" cy="58.92" r="2.6" fill="#6da1c7"/>
<circle cx="379.30" cy="65.90" r="2.6" fill="#780000"/>
<circle cx="428.60" cy="22.29" r="2.6" fill="#6da1c7"/>
<circle cx="422.80" cy="29.27" r="2.6" fill="#7ba9c9"/>
<circle cx="417.00" cy="36.24" r="2.6" fill="#9ebcce"/>
<circle cx="411.20" cy="43.22" r="2.6" fill="#a5c0cf"/>
<circle cx="405.40" cy="50.20" r="2.6" fill="#a5c0cf"/>
<circle cx="399.60" cy="57.18" r="2.6" fill="#96b8cd"/>
<circle cx="393.80" cy="64.16" r="2.6" fill="#73a4c8"/>
<circle cx="388.00" cy="71.13" r="2.6" fill="#6da1c7"/>
<circle cx="443.10" cy="20.54" r="2.6" fill="#6da1c7"/>
<circle cx="437.30" cy="27.52" r="2.6" fill="#75a5c8"/>
<circle cx="431.50" cy="34.50" r="2.6" fill="#a5c0cf"/>
<circle cx="425.70" cy="41.48" r="2.6" fill="#7ba9c9"/>
<circle cx="419.90" cy="48.46" r="2.6" fill="#6ea2c7"/>
<circle cx="414.10" cy="55.43" r="2.6" fill="#6ea2c7"/>
<circle cx="408.30" cy="62.41" r="2.6" fill="#77a7c8"/>
<circle cx="402.50" cy="69.39" r="2.6" fill="#a3bfcf"/>
<circle cx="396.70" cy="76.37" r="2.6" fill="#7ba9c9"/>
<circle cx="390.90" cy="83.34" r="2.6" fill="#6da1c7"/>
<circle cx="457.60" cy="18.80" r="2.6" fill="#780000"/>
<circle cx="451.80" cy="25.78" r="2.6" fill="#6da1c7"/>
<circle cx="446.00" cy="32.76" r="2.6" fill="#84aeca"/>
<circle cx="440.20" cy="39.73" r="2.6" fill="#90b4cc"/>
<circle cx="434.40" cy="46.71" r="2.6" fill="#6da1c7"/>
<circle cx="428.60" cy="53.69" r="2.6" fill="#6da1c7"/>
<circle cx="422.80" cy="60.67" r="2.6" fill="#6da1c7"/>
<circle cx="417.00" cy="67.64" r="2.6" fill="#6da1c7"/>
<circle cx="411.20" cy="74.62" r="2.6" fill="#71a3c8"/>
<circle cx="405.40" cy="81.60" r="2.6" fill="#a5c0cf"/>
<circle cx="399.60" cy="88.58" r="2.6" fill="#71a3c8"/>
<circle cx="460.50" cy="31.01" r="2.6" fill="#6da1c7"/>
<circle cx="454.70" cy="37.99" r="2.6" fill="#80acca"/>
<circle cx="448.90" cy="44.97" r="2.6" fill="#90b4cc"/>
<circle cx="443.10" cy="51.94" r="2.6" fill="#6da1c7"/>
<circle cx="437.30" cy="58.92" r="2.6" fill="#6da1c7"/>
<circle cx="431.50" cy="65.90" r="2.6" fill="#5a98c6"/>
<circle cx="425.70" cy="72.88" r="2.6" fill="#6da1c7"/>
<circle cx="419.90" cy="79.86" r="2.6" fill="#6da1c7"/>
<circle cx="414.10" cy="86.83" r="2.6" fill="#90b4cc"/>
<circle cx="408.30" cy="93.81" r="2.6" fill="#80acca"/>
<circle cx="402.50" cy="100.79" r="2.6" fill="#6da1c7"/>
<circle cx="463.40" cy="43.22" r="2.6" fill="#71a3c8"/>
<circle cx="457.60" cy="50.20" r="2.6" fill="#a5c0cf"/>
<circle cx="451.80" cy="57.18" r="2.6" fill="#71a3c8"/>
<circle cx="446.00" cy="64.16" r="2.6" fill="#6da1c7"/>
<circle cx="440.20" cy="71.13" r="2.6" fill="#6da1c7"/>
<circle cx="434.40" cy="78.11" r="2.6" fill="#6da1c7"/>
<circle cx="428.60" cy="85.09" r="2.6" fill="#6da1c7"/>
<circle cx="422.80" cy="92.07" r="2.6" fill="#90b4cc"/>
<circle cx="417.00" cy="99.04" r="2.6" fill="#84aeca"/>
<circle cx="411.20" cy="106.02" r="2.6" fill="#6da1c7"/>
<circle cx="405.40" cy="113.00" r="2.6" fill="#780000"/>
<circle cx="472.10" cy="48.46" r="2.6" fill="#6da1c7"/>
<circle cx="466.30" cy="55.43" r="2.6" fill="#7ba9c9"/>
<circle cx="460.50" cy="62.41" r="2.6" fill="#a3bfcf"/>
<circle cx="454.70" cy="69.39" r="2.6" fill="#77a7c8"/>
<circle cx="448.90" cy="76.37" r="2.6" fill="#6ea2c7"/>
<circle cx="443.10" cy="83.34" r="2.6" fill="#6ea2c7"/>
<circle cx="437.30" cy="90.32" r="2.6" fill="#7ba9c9"/>
<circle cx="431.50" cy="97.30" r="2.6" fill="#a5c0cf"/>
<circle cx="425.70" cy="104.28" r="2.6" fill="#75a5c8"/>
<circle cx="419.90" cy="111.26" r="2.6" fill="#6da1c7"/>
<circle cx="475.00" cy="60.67" r="2.6" fill="#6da1c7"/>
<circle cx="469.20" cy="67.64" r="2.6" fill="#73a4c8"/>
<circle cx="463.40" cy="74.62" r="2.6" fill="#96b8cd"/>
<circle cx="457.60" cy="81.60" r="2.6" fill="#a5c0cf"/>
<circle cx="451.80" cy="88.58" r="2.6" fill="#a5c0cf"/>
<circle cx="446.00" cy="95.56" r="2.6" fill="#9ebcce"/>
<circle cx="440.20" cy="102.53" r="2.6" fill="#7ba9c9"/>
<circle cx="434.40" cy="109.51" r="2.6" fill="#6da1c7"/>
<circle cx="483.70" cy="65.90" r="2.6" fill="#780000"/>
<circle cx="477.90" cy="72.88" r="2.6" fill="#6da1c7"/>
<circle cx="472.10" cy="79.86" r="2.6" fill="#6da1c7"/>
<circle cx="466.30" cy="86.83" r="2.6" fill="#6ea2c7"/>
<circle cx="460.50" cy="93.81" r="2.6" fill="#6fa2c7"/>
<circle cx="454.70" cy="100.79" r="2.6" fill="#6ea1c7"/>
<circle cx="448.90" cy="107.77" r="2.6" fill="#6da1c7"/>
<circle cx="457.60" cy="113.00" r="2.6" fill="#780000"/>
<text x="378.60" y="21.80" font-size="10.4" text-anchor="start" fill="#000" >(c)</text>
<linearGradient id="cbc" x1="0" y1="0" x2="0" y2="1"><stop offset="0.0000" stop-color="#780000"/><stop offset="0.0417" stop-color="#831412"/><stop offset="0.0833" stop-color="#8e2824"/><stop offset="0.1250" stop-color="#993c35"/><stop offset="0.1667" stop-color="#a45047"/><stop offset="0.2083" stop-color="#af6459"/><stop offset="0.2500" stop-color="#ba786a"/><stop offset="0.2917" stop-color="#c68c7c"/><stop offset="0.3333" stop-color="#d1a08e"/><stop offset="0.3750" stop-color="#dcb4a0"/><stop offset="0.4167" stop-color="#e7c8b2"/><stop offset="0.4583" stop-color="#f2dcc3"/><stop offset="0.5000" stop-color="#fdf0d5"/><stop offset="0.5417" stop-color="#f0e9d3"/><stop offset="0.5833" stop-color="#e4e2d1"/><stop offset="0.6250" stop-color="#d7dbcf"/><stop offset="0.6667" stop-color="#cbd4cd"/><stop offset="0.7083" stop-color="#becdcb"/><stop offset="0.7500" stop-color="#b2c6c8"/><stop offset="0.7917" stop-color="#a5bec6"/><stop offset="0.8333" stop-color="#98b7c4"/><stop offset="0.8750" stop-color="#8cb0c2"/><stop offset="0.9167" stop-color="#7fa9c0"/><stop offset="0.9583" stop-color="#73a2be"/><stop offset="1.0000" stop-color="#669bbc"/></linearGradient>
<rect x="493.4" y="10.6" width="6.0" height="110.0" fill="url(#cbc)" stroke="#000" stroke-width="0.9"/>
<line x1="499.40" y1="120.60" x2="502.80" y2="120.60" stroke="#000" stroke-width="1.1"/>
<text x="506.90" y="124.60" font-size="10.85" text-anchor="start" fill="#000" >0</text>
<line x1="499.40" y1="92.15" x2="502.80" y2="92.15" stroke="#000" stroke-width="1.1"/>
<text x="506.90" y="96.15" font-size="10.85" text-anchor="start" fill="#000" >3</text>
<line x1="499.40" y1="63.70" x2="502.80" y2="63.70" stroke="#000" stroke-width="1.1"/>
<text x="506.90" y="67.70" font-size="10.85" text-anchor="start" fill="#000" >6</text>
<line x1="499.40" y1="35.26" x2="502.80" y2="35.26" stroke="#000" stroke-width="1.1"/>
<text x="506.90" y="39.26" font-size="10.85" text-anchor="start" fill="#000" >9</text>
<text transform="translate(527.30,66.20) rotate(-90)" font-size="10.9" text-anchor="middle">Structure factor <tspan font-style="italic">S</tspan>(<tspan font-weight="bold">q</tspan>)</text>
<text x="491.8" y="7.70" font-size="9">×10<tspan font-size="6.3" dy="-3.1">−1</tspan></text>
<polygon points="431.50,235.10 405.40,219.40 405.40,188.00 431.50,172.30 457.60,188.00 457.60,219.40" fill="none" stroke="#000" stroke-width="1.15" stroke-linejoin="round"/>
<circle cx="379.30" cy="203.70" r="2.6" fill="#d3dbd8"/>
<circle cx="388.00" cy="188.00" r="2.6" fill="#6fa3c8"/>
<circle cx="388.00" cy="198.47" r="2.6" fill="#6fa3c8"/>
<circle cx="388.00" cy="208.93" r="2.6" fill="#6fa3c8"/>
<circle cx="388.00" cy="219.40" r="2.6" fill="#6fa3c8"/>
<circle cx="396.70" cy="172.30" r="2.6" fill="#6fa3c8"/>
<circle cx="396.70" cy="182.77" r="2.6" fill="#6fa3c8"/>
<circle cx="396.70" cy="193.23" r="2.6" fill="#a0bdd0"/>
<circle cx="396.70" cy="203.70" r="2.6" fill="#b0c5d0"/>
<circle cx="396.70" cy="214.17" r="2.6" fill="#a0bdd0"/>
<circle cx="396.70" cy="224.63" r="2.6" fill="#6fa3c8"/>
<circle cx="396.70" cy="235.10" r="2.6" fill="#6fa3c8"/>
<circle cx="405.40" cy="156.60" r="2.6" fill="#d3dbd8"/>
<circle cx="405.40" cy="167.07" r="2.6" fill="#6fa3c8"/>
<circle cx="405.40" cy="177.53" r="2.6" fill="#a0bdd0"/>
<circle cx="405.40" cy="188.00" r="2.6" fill="#780000"/>
<circle cx="405.40" cy="198.47" r="2.6" fill="#c9d5d5"/>
<circle cx="405.40" cy="208.93" r="2.6" fill="#c9d5d5"/>
<circle cx="405.40" cy="219.40" r="2.6" fill="#780000"/>
<circle cx="405.40" cy="229.87" r="2.6" fill="#a0bdd0"/>
<circle cx="405.40" cy="240.33" r="2.6" fill="#6fa3c8"/>
<circle cx="405.40" cy="250.80" r="2.6" fill="#d3dbd8"/>
<circle cx="414.10" cy="161.83" r="2.6" fill="#6fa3c8"/>
<circle cx="414.10" cy="172.30" r="2.6" fill="#b0c5d0"/>
<circle cx="414.10" cy="182.77" r="2.6" fill="#c9d5d5"/>
<circle cx="414.10" cy="193.23" r="2.6" fill="#deddcf"/>
<circle cx="414.10" cy="203.70" r="2.6" fill="#deddcf"/>
<circle cx="414.10" cy="214.17" r="2.6" fill="#deddcf"/>
<circle cx="414.10" cy="224.63" r="2.6" fill="#c9d5d5"/>
<circle cx="414.10" cy="235.10" r="2.6" fill="#b0c5d0"/>
<circle cx="414.10" cy="245.57" r="2.6" fill="#6fa3c8"/>
<circle cx="422.80" cy="156.60" r="2.6" fill="#6fa3c8"/>
<circle cx="422.80" cy="167.07" r="2.6" fill="#a0bdd0"/>
<circle cx="422.80" cy="177.53" r="2.6" fill="#c9d5d5"/>
<circle cx="422.80" cy="188.00" r="2.6" fill="#deddcf"/>
<circle cx="422.80" cy="198.47" r="2.6" fill="#a3bed0"/>
<circle cx="422.80" cy="208.93" r="2.6" fill="#a3bed0"/>
<circle cx="422.80" cy="219.40" r="2.6" fill="#deddcf"/>
<circle cx="422.80" cy="229.87" r="2.6" fill="#c9d5d5"/>
<circle cx="422.80" cy="240.33" r="2.6" fill="#a0bdd0"/>
<circle cx="422.80" cy="250.80" r="2.6" fill="#6fa3c8"/>
<circle cx="431.50" cy="161.83" r="2.6" fill="#6fa3c8"/>
<circle cx="431.50" cy="172.30" r="2.6" fill="#780000"/>
<circle cx="431.50" cy="182.77" r="2.6" fill="#deddcf"/>
<circle cx="431.50" cy="193.23" r="2.6" fill="#a3bed0"/>
<circle cx="431.50" cy="203.70" r="2.6" fill="#5d9bc9"/>
<circle cx="431.50" cy="214.17" r="2.6" fill="#a3bed0"/>
<circle cx="431.50" cy="224.63" r="2.6" fill="#deddcf"/>
<circle cx="431.50" cy="235.10" r="2.6" fill="#780000"/>
<circle cx="431.50" cy="245.57" r="2.6" fill="#6fa3c8"/>
<circle cx="440.20" cy="156.60" r="2.6" fill="#6fa3c8"/>
<circle cx="440.20" cy="167.07" r="2.6" fill="#a0bdd0"/>
<circle cx="440.20" cy="177.53" r="2.6" fill="#c9d5d5"/>
<circle cx="440.20" cy="188.00" r="2.6" fill="#deddcf"/>
<circle cx="440.20" cy="198.47" r="2.6" fill="#a3bed0"/>
<circle cx="440.20" cy="208.93" r="2.6" fill="#a3bed0"/>
<circle cx="440.20" cy="219.40" r="2.6" fill="#deddcf"/>
<circle cx="440.20" cy="229.87" r="2.6" fill="#c9d5d5"/>
<circle cx="440.20" cy="240.33" r="2.6" fill="#a0bdd0"/>
<circle cx="440.20" cy="250.80" r="2.6" fill="#6fa3c8"/>
<circle cx="448.90" cy="161.83" r="2.6" fill="#6fa3c8"/>
<circle cx="448.90" cy="172.30" r="2.6" fill="#b0c5d0"/>
<circle cx="448.90" cy="182.77" r="2.6" fill="#c9d5d5"/>
<circle cx="448.90" cy="193.23" r="2.6" fill="#deddcf"/>
<circle cx="448.90" cy="203.70" r="2.6" fill="#deddcf"/>
<circle cx="448.90" cy="214.17" r="2.6" fill="#deddcf"/>
<circle cx="448.90" cy="224.63" r="2.6" fill="#c9d5d5"/>
<circle cx="448.90" cy="235.10" r="2.6" fill="#b0c5d0"/>
<circle cx="448.90" cy="245.57" r="2.6" fill="#6fa3c8"/>
<circle cx="457.60" cy="156.60" r="2.6" fill="#d3dbd8"/>
<circle cx="457.60" cy="167.07" r="2.6" fill="#6fa3c8"/>
<circle cx="457.60" cy="177.53" r="2.6" fill="#a0bdd0"/>
<circle cx="457.60" cy="188.00" r="2.6" fill="#780000"/>
<circle cx="457.60" cy="198.47" r="2.6" fill="#c9d5d5"/>
<circle cx="457.60" cy="208.93" r="2.6" fill="#c9d5d5"/>
<circle cx="457.60" cy="219.40" r="2.6" fill="#780000"/>
<circle cx="457.60" cy="229.87" r="2.6" fill="#a0bdd0"/>
<circle cx="457.60" cy="240.33" r="2.6" fill="#6fa3c8"/>
<circle cx="457.60" cy="250.80" r="2.6" fill="#d3dbd8"/>
<circle cx="466.30" cy="172.30" r="2.6" fill="#6fa3c8"/>
<circle cx="466.30" cy="182.77" r="2.6" fill="#6fa3c8"/>
<circle cx="466.30" cy="193.23" r="2.6" fill="#a0bdd0"/>
<circle cx="466.30" cy="203.70" r="2.6" fill="#b0c5d0"/>
<circle cx="466.30" cy="214.17" r="2.6" fill="#a0bdd0"/>
<circle cx="466.30" cy="224.63" r="2.6" fill="#6fa3c8"/>
<circle cx="466.30" cy="235.10" r="2.6" fill="#6fa3c8"/>
<circle cx="475.00" cy="188.00" r="2.6" fill="#6fa3c8"/>
<circle cx="475.00" cy="198.47" r="2.6" fill="#6fa3c8"/>
<circle cx="475.00" cy="208.93" r="2.6" fill="#6fa3c8"/>
<circle cx="475.00" cy="219.40" r="2.6" fill="#6fa3c8"/>
<circle cx="483.70" cy="203.70" r="2.6" fill="#d3dbd8"/>
<circle cx="431.50" cy="235.10" r="2.6" fill="#780000"/>
<circle cx="405.40" cy="219.40" r="2.6" fill="#780000"/>
<circle cx="405.40" cy="188.00" r="2.6" fill="#780000"/>
<circle cx="431.50" cy="172.30" r="2.6" fill="#780000"/>
<circle cx="457.60" cy="188.00" r="2.6" fill="#780000"/>
<circle cx="457.60" cy="219.40" r="2.6" fill="#780000"/>
<text x="378.60" y="159.60" font-size="10.4" text-anchor="start" fill="#000" >(g)</text>
<linearGradient id="cbg" x1="0" y1="0" x2="0" y2="1"><stop offset="0.0000" stop-color="#780000"/><stop offset="0.0417" stop-color="#831412"/><stop offset="0.0833" stop-color="#8e2824"/><stop offset="0.1250" stop-color="#993c35"/><stop offset="0.1667" stop-color="#a45047"/><stop offset="0.2083" stop-color="#af6459"/><stop offset="0.2500" stop-color="#ba786a"/><stop offset="0.2917" stop-color="#c68c7c"/><stop offset="0.3333" stop-color="#d1a08e"/><stop offset="0.3750" stop-color="#dcb4a0"/><stop offset="0.4167" stop-color="#e7c8b2"/><stop offset="0.4583" stop-color="#f2dcc3"/><stop offset="0.5000" stop-color="#fdf0d5"/><stop offset="0.5417" stop-color="#f0e9d3"/><stop offset="0.5833" stop-color="#e4e2d1"/><stop offset="0.6250" stop-color="#d7dbcf"/><stop offset="0.6667" stop-color="#cbd4cd"/><stop offset="0.7083" stop-color="#becdcb"/><stop offset="0.7500" stop-color="#b2c6c8"/><stop offset="0.7917" stop-color="#a5bec6"/><stop offset="0.8333" stop-color="#98b7c4"/><stop offset="0.8750" stop-color="#8cb0c2"/><stop offset="0.9167" stop-color="#7fa9c0"/><stop offset="0.9583" stop-color="#73a2be"/><stop offset="1.0000" stop-color="#669bbc"/></linearGradient>
<rect x="493.4" y="148.4" width="6.0" height="109.99999999999997" fill="url(#cbg)" stroke="#000" stroke-width="0.9"/>
<line x1="499.40" y1="258.40" x2="502.80" y2="258.40" stroke="#000" stroke-width="1.1"/>
<text x="506.90" y="262.40" font-size="10.85" text-anchor="start" fill="#000" >0.0</text>
<line x1="499.40" y1="227.84" x2="502.80" y2="227.84" stroke="#000" stroke-width="1.1"/>
<text x="506.90" y="231.84" font-size="10.85" text-anchor="start" fill="#000" >0.5</text>
<line x1="499.40" y1="197.29" x2="502.80" y2="197.29" stroke="#000" stroke-width="1.1"/>
<text x="506.90" y="201.29" font-size="10.85" text-anchor="start" fill="#000" >1.0</text>
<line x1="499.40" y1="166.73" x2="502.80" y2="166.73" stroke="#000" stroke-width="1.1"/>
<text x="506.90" y="170.73" font-size="10.85" text-anchor="start" fill="#000" >1.5</text>
<text transform="translate(537.60,204.00) rotate(-90)" font-size="10.9" text-anchor="middle">Structure factor <tspan font-style="italic">S</tspan>(<tspan font-weight="bold">q</tspan>)</text>
<text x="491.8" y="145.50" font-size="9">×10<tspan font-size="6.3" dy="-3.1">−1</tspan></text>
<clipPath id="cld"><polygon points="589.40,10.80 632.40,54.60 600.15,120.30 557.15,76.50"/></clipPath>
<clipPath id="clda"><rect x="550" y="10.6" width="90" height="110.0"/></clipPath>
<radialGradient id="gd"><stop offset="0" stop-color="#780000" stop-opacity="1"/><stop offset="0.16" stop-color="#8a0008" stop-opacity="1"/><stop offset="0.28" stop-color="#c1121f" stop-opacity="1"/><stop offset="0.39" stop-color="#e5867a" stop-opacity="1"/><stop offset="0.52" stop-color="#fdf0d5" stop-opacity="1"/><stop offset="0.64" stop-color="#d9e6e8" stop-opacity="0.92"/><stop offset="0.76" stop-color="#adcade" stop-opacity="0.7"/><stop offset="0.88" stop-color="#9dc0d9" stop-opacity="0.4"/><stop offset="1" stop-color="#9dc0d9" stop-opacity="0"/></radialGradient>
<radialGradient id="gd3"><stop offset="0" stop-color="#780000" stop-opacity="1"/><stop offset="0.3" stop-color="#800004" stop-opacity="1"/><stop offset="0.44" stop-color="#b50d1a" stop-opacity="1"/><stop offset="0.54" stop-color="#e07a6e" stop-opacity="1"/><stop offset="0.64" stop-color="#fdf0d5" stop-opacity="1"/><stop offset="0.74" stop-color="#d5e3e6" stop-opacity="0.9"/><stop offset="0.85" stop-color="#a9c8dc" stop-opacity="0.6"/><stop offset="1" stop-color="#9dc0d9" stop-opacity="0"/></radialGradient>
<radialGradient id="gd2"><stop offset="0" stop-color="#9a060f" stop-opacity="1"/><stop offset="0.2" stop-color="#b00d19" stop-opacity="1"/><stop offset="0.34" stop-color="#cf3a3a" stop-opacity="1"/><stop offset="0.46" stop-color="#eca08e" stop-opacity="1"/><stop offset="0.58" stop-color="#fdf0d5" stop-opacity="1"/><stop offset="0.7" stop-color="#d5e3e6" stop-opacity="0.9"/><stop offset="0.82" stop-color="#a9c8dc" stop-opacity="0.6"/><stop offset="1" stop-color="#9dc0d9" stop-opacity="0"/></radialGradient>
<g clip-path="url(#cld)">
<rect x="550" y="10.6" width="90" height="110.0" fill="#72a4c9"/>
<ellipse cx="546.40" cy="10.80" rx="7.7" ry="8.4" fill="url(#gd)"/>
<ellipse cx="546.40" cy="25.40" rx="7.7" ry="8.4" fill="url(#gd)"/>
<ellipse cx="546.40" cy="40.00" rx="7.7" ry="8.4" fill="url(#gd)"/>
<ellipse cx="546.40" cy="54.60" rx="7.7" ry="8.4" fill="url(#gd)"/>
<ellipse cx="546.40" cy="69.20" rx="5.6" ry="6.2" fill="url(#gd2)"/>
<ellipse cx="546.40" cy="83.80" rx="5.6" ry="6.2" fill="url(#gd2)"/>
<ellipse cx="546.40" cy="98.40" rx="7.7" ry="8.4" fill="url(#gd)"/>
<ellipse cx="546.40" cy="113.00" rx="7.7" ry="8.4" fill="url(#gd)"/>
<ellipse cx="546.40" cy="127.60" rx="7.7" ry="8.4" fill="url(#gd)"/>
<ellipse cx="557.15" cy="3.50" rx="7.7" ry="8.4" fill="url(#gd)"/>
<ellipse cx="557.15" cy="18.10" rx="7.7" ry="8.4" fill="url(#gd)"/>
<ellipse cx="557.15" cy="32.70" rx="7.7" ry="8.4" fill="url(#gd)"/>
<ellipse cx="557.15" cy="47.30" rx="7.7" ry="8.4" fill="url(#gd)"/>
<ellipse cx="557.15" cy="61.90" rx="5.6" ry="6.2" fill="url(#gd2)"/>
<ellipse cx="557.15" cy="76.50" rx="8.6" ry="9.4" fill="url(#gd3)"/>
<ellipse cx="557.15" cy="91.10" rx="5.6" ry="6.2" fill="url(#gd2)"/>
<ellipse cx="557.15" cy="105.70" rx="7.7" ry="8.4" fill="url(#gd)"/>
<ellipse cx="557.15" cy="120.30" rx="7.7" ry="8.4" fill="url(#gd)"/>
<ellipse cx="567.90" cy="10.80" rx="7.7" ry="8.4" fill="url(#gd)"/>
<ellipse cx="567.90" cy="25.40" rx="7.7" ry="8.4" fill="url(#gd)"/>
<ellipse cx="567.90" cy="40.00" rx="7.7" ry="8.4" fill="url(#gd)"/>
<ellipse cx="567.90" cy="54.60" rx="7.7" ry="8.4" fill="url(#gd)"/>
<ellipse cx="567.90" cy="69.20" rx="5.6" ry="6.2" fill="url(#gd2)"/>
<ellipse cx="567.90" cy="83.80" rx="5.6" ry="6.2" fill="url(#gd2)"/>
<ellipse cx="567.90" cy="98.40" rx="7.7" ry="8.4" fill="url(#gd)"/>
<ellipse cx="567.90" cy="113.00" rx="7.7" ry="8.4" fill="url(#gd)"/>
<ellipse cx="567.90" cy="127.60" rx="7.7" ry="8.4" fill="url(#gd)"/>
<ellipse cx="578.65" cy="3.50" rx="5.6" ry="6.2" fill="url(#gd2)"/>
<ellipse cx="578.65" cy="18.10" rx="5.6" ry="6.2" fill="url(#gd2)"/>
<ellipse cx="578.65" cy="32.70" rx="7.7" ry="8.4" fill="url(#gd)"/>
<ellipse cx="578.65" cy="47.30" rx="7.7" ry="8.4" fill="url(#gd)"/>
<ellipse cx="578.65" cy="61.90" rx="7.7" ry="8.4" fill="url(#gd)"/>
<ellipse cx="578.65" cy="76.50" rx="7.7" ry="8.4" fill="url(#gd)"/>
<ellipse cx="578.65" cy="91.10" rx="7.7" ry="8.4" fill="url(#gd)"/>
<ellipse cx="578.65" cy="105.70" rx="7.7" ry="8.4" fill="url(#gd)"/>
<ellipse cx="578.65" cy="120.30" rx="7.7" ry="8.4" fill="url(#gd)"/>
<ellipse cx="589.40" cy="10.80" rx="8.6" ry="9.4" fill="url(#gd3)"/>
<ellipse cx="589.40" cy="25.40" rx="5.6" ry="6.2" fill="url(#gd2)"/>
<ellipse cx="589.40" cy="40.00" rx="7.7" ry="8.4" fill="url(#gd)"/>
<ellipse cx="589.40" cy="54.60" rx="7.7" ry="8.4" fill="url(#gd)"/>
<ellipse cx="589.40" cy="69.20" rx="7.7" ry="8.4" fill="url(#gd)"/>
<ellipse cx="589.40" cy="83.80" rx="7.7" ry="8.4" fill="url(#gd)"/>
<ellipse cx="589.40" cy="98.40" rx="7.7" ry="8.4" fill="url(#gd)"/>
<ellipse cx="589.40" cy="113.00" rx="5.6" ry="6.2" fill="url(#gd2)"/>
<ellipse cx="589.40" cy="127.60" rx="5.6" ry="6.2" fill="url(#gd2)"/>
<ellipse cx="600.15" cy="3.50" rx="5.6" ry="6.2" fill="url(#gd2)"/>
<ellipse cx="600.15" cy="18.10" rx="5.6" ry="6.2" fill="url(#gd2)"/>
<ellipse cx="600.15" cy="32.70" rx="7.7" ry="8.4" fill="url(#gd)"/>
<ellipse cx="600.15" cy="47.30" rx="7.7" ry="8.4" fill="url(#gd)"/>
<ellipse cx="600.15" cy="61.90" rx="7.7" ry="8.4" fill="url(#gd)"/>
<ellipse cx="600.15" cy="76.50" rx="7.7" ry="8.4" fill="url(#gd)"/>
<ellipse cx="600.15" cy="91.10" rx="7.7" ry="8.4" fill="url(#gd)"/>
<ellipse cx="600.15" cy="105.70" rx="5.6" ry="6.2" fill="url(#gd2)"/>
<ellipse cx="600.15" cy="120.30" rx="8.6" ry="9.4" fill="url(#gd3)"/>
<ellipse cx="610.90" cy="10.80" rx="7.7" ry="8.4" fill="url(#gd)"/>
<ellipse cx="610.90" cy="25.40" rx="7.7" ry="8.4" fill="url(#gd)"/>
<ellipse cx="610.90" cy="40.00" rx="7.7" ry="8.4" fill="url(#gd)"/>
<ellipse cx="610.90" cy="54.60" rx="7.7" ry="8.4" fill="url(#gd)"/>
<ellipse cx="610.90" cy="69.20" rx="7.7" ry="8.4" fill="url(#gd)"/>
<ellipse cx="610.90" cy="83.80" rx="7.7" ry="8.4" fill="url(#gd)"/>
<ellipse cx="610.90" cy="98.40" rx="7.7" ry="8.4" fill="url(#gd)"/>
<ellipse cx="610.90" cy="113.00" rx="5.6" ry="6.2" fill="url(#gd2)"/>
<ellipse cx="610.90" cy="127.60" rx="5.6" ry="6.2" fill="url(#gd2)"/>
<ellipse cx="621.65" cy="3.50" rx="7.7" ry="8.4" fill="url(#gd)"/>
<ellipse cx="621.65" cy="18.10" rx="7.7" ry="8.4" fill="url(#gd)"/>
<ellipse cx="621.65" cy="32.70" rx="7.7" ry="8.4" fill="url(#gd)"/>
<ellipse cx="621.65" cy="47.30" rx="5.6" ry="6.2" fill="url(#gd2)"/>
<ellipse cx="621.65" cy="61.90" rx="5.6" ry="6.2" fill="url(#gd2)"/>
<ellipse cx="621.65" cy="76.50" rx="7.7" ry="8.4" fill="url(#gd)"/>
<ellipse cx="621.65" cy="91.10" rx="7.7" ry="8.4" fill="url(#gd)"/>
<ellipse cx="621.65" cy="105.70" rx="7.7" ry="8.4" fill="url(#gd)"/>
<ellipse cx="621.65" cy="120.30" rx="7.7" ry="8.4" fill="url(#gd)"/>
<ellipse cx="632.40" cy="10.80" rx="7.7" ry="8.4" fill="url(#gd)"/>
<ellipse cx="632.40" cy="25.40" rx="7.7" ry="8.4" fill="url(#gd)"/>
<ellipse cx="632.40" cy="40.00" rx="5.6" ry="6.2" fill="url(#gd2)"/>
<ellipse cx="632.40" cy="54.60" rx="8.6" ry="9.4" fill="url(#gd3)"/>
<ellipse cx="632.40" cy="69.20" rx="5.6" ry="6.2" fill="url(#gd2)"/>
<ellipse cx="632.40" cy="83.80" rx="7.7" ry="8.4" fill="url(#gd)"/>
<ellipse cx="632.40" cy="98.40" rx="7.7" ry="8.4" fill="url(#gd)"/>
<ellipse cx="632.40" cy="113.00" rx="7.7" ry="8.4" fill="url(#gd)"/>
<ellipse cx="632.40" cy="127.60" rx="7.7" ry="8.4" fill="url(#gd)"/>
<ellipse cx="643.15" cy="3.50" rx="7.7" ry="8.4" fill="url(#gd)"/>
<ellipse cx="643.15" cy="18.10" rx="7.7" ry="8.4" fill="url(#gd)"/>
<ellipse cx="643.15" cy="32.70" rx="7.7" ry="8.4" fill="url(#gd)"/>
<ellipse cx="643.15" cy="47.30" rx="5.6" ry="6.2" fill="url(#gd2)"/>
<ellipse cx="643.15" cy="61.90" rx="5.6" ry="6.2" fill="url(#gd2)"/>
<ellipse cx="643.15" cy="76.50" rx="7.7" ry="8.4" fill="url(#gd)"/>
<ellipse cx="643.15" cy="91.10" rx="7.7" ry="8.4" fill="url(#gd)"/>
<ellipse cx="643.15" cy="105.70" rx="7.7" ry="8.4" fill="url(#gd)"/>
<ellipse cx="643.15" cy="120.30" rx="7.7" ry="8.4" fill="url(#gd)"/>
</g>
<g clip-path="url(#clda)">
<circle cx="557.15" cy="76.50" r="1.1" fill="#000"/>
<circle cx="567.90" cy="54.60" r="1.1" fill="#000"/>
<circle cx="567.90" cy="69.20" r="1.1" fill="#000"/>
<circle cx="567.90" cy="83.80" r="1.1" fill="#000"/>
<circle cx="578.65" cy="32.70" r="1.1" fill="#000"/>
<circle cx="578.65" cy="47.30" r="1.1" fill="#000"/>
<circle cx="578.65" cy="61.90" r="1.1" fill="#000"/>
<circle cx="578.65" cy="76.50" r="1.1" fill="#000"/>
<circle cx="578.65" cy="91.10" r="1.1" fill="#000"/>
<circle cx="589.40" cy="10.80" r="1.1" fill="#000"/>
<circle cx="589.40" cy="25.40" r="1.1" fill="#000"/>
<circle cx="589.40" cy="40.00" r="1.1" fill="#000"/>
<circle cx="589.40" cy="54.60" r="1.1" fill="#000"/>
<circle cx="589.40" cy="69.20" r="1.1" fill="#000"/>
<circle cx="589.40" cy="83.80" r="1.1" fill="#000"/>
<circle cx="589.40" cy="98.40" r="1.1" fill="#000"/>
<circle cx="600.15" cy="32.70" r="1.1" fill="#000"/>
<circle cx="600.15" cy="47.30" r="1.1" fill="#000"/>
<circle cx="600.15" cy="61.90" r="1.1" fill="#000"/>
<circle cx="600.15" cy="76.50" r="1.1" fill="#000"/>
<circle cx="600.15" cy="91.10" r="1.1" fill="#000"/>
<circle cx="600.15" cy="105.70" r="1.1" fill="#000"/>
<circle cx="600.15" cy="120.30" r="1.1" fill="#000"/>
<circle cx="610.90" cy="40.00" r="1.1" fill="#000"/>
<circle cx="610.90" cy="54.60" r="1.1" fill="#000"/>
<circle cx="610.90" cy="69.20" r="1.1" fill="#000"/>
<circle cx="610.90" cy="83.80" r="1.1" fill="#000"/>
<circle cx="610.90" cy="98.40" r="1.1" fill="#000"/>
<circle cx="621.65" cy="47.30" r="1.1" fill="#000"/>
<circle cx="621.65" cy="61.90" r="1.1" fill="#000"/>
<circle cx="621.65" cy="76.50" r="1.1" fill="#000"/>
<circle cx="632.40" cy="54.60" r="1.1" fill="#000"/>
</g>
<text x="563.40" y="22.20" font-size="10.4" text-anchor="start" fill="#000" >(d)</text>
<linearGradient id="cbd" x1="0" y1="0" x2="0" y2="1"><stop offset="0.0000" stop-color="#700000"/><stop offset="0.0417" stop-color="#710000"/><stop offset="0.0833" stop-color="#730000"/><stop offset="0.1250" stop-color="#740000"/><stop offset="0.1667" stop-color="#750000"/><stop offset="0.2083" stop-color="#770000"/><stop offset="0.2500" stop-color="#780000"/><stop offset="0.2917" stop-color="#840305"/><stop offset="0.3333" stop-color="#90060a"/><stop offset="0.3750" stop-color="#9c0910"/><stop offset="0.4167" stop-color="#a90c15"/><stop offset="0.4583" stop-color="#b50f1a"/><stop offset="0.5000" stop-color="#c1121f"/><stop offset="0.5417" stop-color="#cb373d"/><stop offset="0.5833" stop-color="#d55c5c"/><stop offset="0.6250" stop-color="#df817a"/><stop offset="0.6667" stop-color="#e9a698"/><stop offset="0.7083" stop-color="#f3cbb7"/><stop offset="0.7500" stop-color="#fdf0d5"/><stop offset="0.7917" stop-color="#e4e2d1"/><stop offset="0.8333" stop-color="#cbd4cd"/><stop offset="0.8750" stop-color="#b2c6c8"/><stop offset="0.9167" stop-color="#98b7c4"/><stop offset="0.9583" stop-color="#7fa9c0"/><stop offset="1.0000" stop-color="#669bbc"/></linearGradient>
<rect x="640.4" y="11.4" width="6.0" height="108.49999999999999" fill="url(#cbd)" stroke="#000" stroke-width="0.9"/>
<line x1="646.40" y1="119.90" x2="649.80" y2="119.90" stroke="#000" stroke-width="1.1"/>
<text x="653.90" y="123.90" font-size="10.85" text-anchor="start" fill="#000" >0.4</text>
<line x1="646.40" y1="83.73" x2="649.80" y2="83.73" stroke="#000" stroke-width="1.1"/>
<text x="653.90" y="87.73" font-size="10.85" text-anchor="start" fill="#000" >0.6</text>
<line x1="646.40" y1="47.57" x2="649.80" y2="47.57" stroke="#000" stroke-width="1.1"/>
<text x="653.90" y="51.57" font-size="10.85" text-anchor="start" fill="#000" >0.8</text>
<line x1="646.40" y1="11.40" x2="649.80" y2="11.40" stroke="#000" stroke-width="1.1"/>
<text x="653.90" y="15.40" font-size="10.85" text-anchor="start" fill="#000" >1.0</text>
<text transform="translate(683.30,66.20) rotate(-90)" font-size="10.9" text-anchor="middle">Pair correlation <tspan font-style="italic">G</tspan>(<tspan font-weight="bold">r</tspan>)</text>
<clipPath id="clh"><polygon points="594.80,148.60 632.60,203.50 594.80,258.40 557.00,203.50"/></clipPath>
<radialGradient id="gh"><stop offset="0" stop-color="#780000" stop-opacity="1"/><stop offset="0.28" stop-color="#86040a" stop-opacity="1"/><stop offset="0.5" stop-color="#b50d1a" stop-opacity="1"/><stop offset="0.6" stop-color="#d8584e" stop-opacity="1"/><stop offset="0.7" stop-color="#f6d5bf" stop-opacity="1"/><stop offset="0.78" stop-color="#f3ecda" stop-opacity="0.9"/><stop offset="0.9" stop-color="#c9dbe5" stop-opacity="0.6"/><stop offset="1" stop-color="#b0cbdf" stop-opacity="0"/></radialGradient>
<radialGradient id="gn"><stop offset="0" stop-color="#f0b8a6" stop-opacity="1"/><stop offset="0.4" stop-color="#f5cdbb" stop-opacity="1"/><stop offset="0.7" stop-color="#f6e6d4" stop-opacity="0.85"/><stop offset="1" stop-color="#e4ebe8" stop-opacity="0"/></radialGradient>
<radialGradient id="gl"><stop offset="0" stop-color="#d3e2ea" stop-opacity="0.95"/><stop offset="0.55" stop-color="#c0d6e3" stop-opacity="0.7"/><stop offset="1" stop-color="#b0cbdf" stop-opacity="0"/></radialGradient>
<radialGradient id="gk"><stop offset="0" stop-color="#649dc6" stop-opacity="1"/><stop offset="0.45" stop-color="#70a4ca" stop-opacity="0.8"/><stop offset="1" stop-color="#8db5d3" stop-opacity="0"/></radialGradient>
<g clip-path="url(#clh)">
<rect x="550" y="148.4" width="90" height="110.0" fill="#a0c1d9"/>
<ellipse cx="557.00" cy="148.60" rx="6.5" ry="6.2" fill="url(#gk)"/>
<ellipse cx="557.00" cy="185.20" rx="6.5" ry="6.2" fill="url(#gk)"/>
<ellipse cx="557.00" cy="221.80" rx="6.5" ry="6.2" fill="url(#gk)"/>
<ellipse cx="557.00" cy="258.40" rx="6.5" ry="6.2" fill="url(#gk)"/>
<ellipse cx="569.60" cy="166.90" rx="6.5" ry="6.2" fill="url(#gk)"/>
<ellipse cx="569.60" cy="203.50" rx="6.5" ry="6.2" fill="url(#gk)"/>
<ellipse cx="569.60" cy="240.10" rx="6.5" ry="6.2" fill="url(#gk)"/>
<ellipse cx="582.20" cy="148.60" rx="6.5" ry="6.2" fill="url(#gk)"/>
<ellipse cx="582.20" cy="185.20" rx="6.5" ry="6.2" fill="url(#gk)"/>
<ellipse cx="582.20" cy="221.80" rx="6.5" ry="6.2" fill="url(#gk)"/>
<ellipse cx="582.20" cy="258.40" rx="6.5" ry="6.2" fill="url(#gk)"/>
<ellipse cx="594.80" cy="166.90" rx="6.5" ry="6.2" fill="url(#gk)"/>
<ellipse cx="594.80" cy="203.50" rx="6.5" ry="6.2" fill="url(#gk)"/>
<ellipse cx="594.80" cy="240.10" rx="6.5" ry="6.2" fill="url(#gk)"/>
<ellipse cx="607.40" cy="148.60" rx="6.5" ry="6.2" fill="url(#gk)"/>
<ellipse cx="607.40" cy="185.20" rx="6.5" ry="6.2" fill="url(#gk)"/>
<ellipse cx="607.40" cy="221.80" rx="6.5" ry="6.2" fill="url(#gk)"/>
<ellipse cx="607.40" cy="258.40" rx="6.5" ry="6.2" fill="url(#gk)"/>
<ellipse cx="620.00" cy="166.90" rx="6.5" ry="6.2" fill="url(#gk)"/>
<ellipse cx="620.00" cy="203.50" rx="6.5" ry="6.2" fill="url(#gk)"/>
<ellipse cx="620.00" cy="240.10" rx="6.5" ry="6.2" fill="url(#gk)"/>
<ellipse cx="632.60" cy="148.60" rx="6.5" ry="6.2" fill="url(#gk)"/>
<ellipse cx="632.60" cy="185.20" rx="6.5" ry="6.2" fill="url(#gk)"/>
<ellipse cx="632.60" cy="221.80" rx="6.5" ry="6.2" fill="url(#gk)"/>
<ellipse cx="632.60" cy="258.40" rx="6.5" ry="6.2" fill="url(#gk)"/>
<ellipse cx="645.20" cy="166.90" rx="6.5" ry="6.2" fill="url(#gk)"/>
<ellipse cx="645.20" cy="203.50" rx="6.5" ry="6.2" fill="url(#gk)"/>
<ellipse cx="645.20" cy="240.10" rx="6.5" ry="6.2" fill="url(#gk)"/>
<ellipse cx="657.80" cy="148.60" rx="6.5" ry="6.2" fill="url(#gk)"/>
<ellipse cx="657.80" cy="185.20" rx="6.5" ry="6.2" fill="url(#gk)"/>
<ellipse cx="657.80" cy="221.80" rx="6.5" ry="6.2" fill="url(#gk)"/>
<ellipse cx="657.80" cy="258.40" rx="6.5" ry="6.2" fill="url(#gk)"/>
<ellipse cx="544.40" cy="148.60" rx="10.5" ry="8" fill="url(#gl)"/>
<ellipse cx="544.40" cy="185.20" rx="10.5" ry="8" fill="url(#gl)"/>
<ellipse cx="544.40" cy="221.80" rx="10.5" ry="8" fill="url(#gl)"/>
<ellipse cx="544.40" cy="258.40" rx="10.5" ry="8" fill="url(#gl)"/>
<ellipse cx="557.00" cy="166.90" rx="10.5" ry="8" fill="url(#gl)"/>
<ellipse cx="557.00" cy="203.50" rx="10.5" ry="8" fill="url(#gl)"/>
<ellipse cx="557.00" cy="240.10" rx="10.5" ry="8" fill="url(#gl)"/>
<ellipse cx="569.60" cy="148.60" rx="10.5" ry="8" fill="url(#gl)"/>
<ellipse cx="569.60" cy="185.20" rx="10.5" ry="8" fill="url(#gl)"/>
<ellipse cx="569.60" cy="221.80" rx="10.5" ry="8" fill="url(#gl)"/>
<ellipse cx="569.60" cy="258.40" rx="10.5" ry="8" fill="url(#gl)"/>
<ellipse cx="582.20" cy="166.90" rx="10.5" ry="8" fill="url(#gl)"/>
<ellipse cx="582.20" cy="203.50" rx="10.5" ry="8" fill="url(#gl)"/>
<ellipse cx="582.20" cy="240.10" rx="10.5" ry="8" fill="url(#gl)"/>
<ellipse cx="594.80" cy="148.60" rx="10.5" ry="8" fill="url(#gl)"/>
<ellipse cx="594.80" cy="185.20" rx="10.5" ry="8" fill="url(#gl)"/>
<ellipse cx="594.80" cy="221.80" rx="10.5" ry="8" fill="url(#gl)"/>
<ellipse cx="594.80" cy="258.40" rx="10.5" ry="8" fill="url(#gl)"/>
<ellipse cx="607.40" cy="166.90" rx="10.5" ry="8" fill="url(#gl)"/>
<ellipse cx="607.40" cy="203.50" rx="10.5" ry="8" fill="url(#gl)"/>
<ellipse cx="607.40" cy="240.10" rx="10.5" ry="8" fill="url(#gl)"/>
<ellipse cx="620.00" cy="148.60" rx="10.5" ry="8" fill="url(#gl)"/>
<ellipse cx="620.00" cy="185.20" rx="10.5" ry="8" fill="url(#gl)"/>
<ellipse cx="620.00" cy="221.80" rx="10.5" ry="8" fill="url(#gl)"/>
<ellipse cx="620.00" cy="258.40" rx="10.5" ry="8" fill="url(#gl)"/>
<ellipse cx="632.60" cy="166.90" rx="10.5" ry="8" fill="url(#gl)"/>
<ellipse cx="632.60" cy="203.50" rx="10.5" ry="8" fill="url(#gl)"/>
<ellipse cx="632.60" cy="240.10" rx="10.5" ry="8" fill="url(#gl)"/>
<ellipse cx="645.20" cy="148.60" rx="10.5" ry="8" fill="url(#gl)"/>
<ellipse cx="645.20" cy="185.20" rx="10.5" ry="8" fill="url(#gl)"/>
<ellipse cx="645.20" cy="221.80" rx="10.5" ry="8" fill="url(#gl)"/>
<ellipse cx="645.20" cy="258.40" rx="10.5" ry="8" fill="url(#gl)"/>
<ellipse cx="544.40" cy="148.60" rx="6.8" ry="3.9" fill="url(#gn)"/>
<ellipse cx="544.40" cy="185.20" rx="6.8" ry="3.9" fill="url(#gn)"/>
<ellipse cx="544.40" cy="221.80" rx="6.8" ry="3.9" fill="url(#gn)"/>
<ellipse cx="544.40" cy="258.40" rx="6.8" ry="3.9" fill="url(#gn)"/>
<ellipse cx="557.00" cy="166.90" rx="6.8" ry="3.9" fill="url(#gn)"/>
<ellipse cx="557.00" cy="203.50" rx="6.8" ry="3.9" fill="url(#gn)"/>
<ellipse cx="557.00" cy="240.10" rx="6.8" ry="3.9" fill="url(#gn)"/>
<ellipse cx="569.60" cy="148.60" rx="6.8" ry="3.9" fill="url(#gn)"/>
<ellipse cx="569.60" cy="185.20" rx="6.8" ry="3.9" fill="url(#gn)"/>
<ellipse cx="569.60" cy="221.80" rx="6.8" ry="3.9" fill="url(#gn)"/>
<ellipse cx="569.60" cy="258.40" rx="6.8" ry="3.9" fill="url(#gn)"/>
<ellipse cx="582.20" cy="166.90" rx="6.8" ry="3.9" fill="url(#gn)"/>
<ellipse cx="582.20" cy="203.50" rx="6.8" ry="3.9" fill="url(#gn)"/>
<ellipse cx="582.20" cy="240.10" rx="6.8" ry="3.9" fill="url(#gn)"/>
<ellipse cx="594.80" cy="148.60" rx="6.8" ry="3.9" fill="url(#gn)"/>
<ellipse cx="594.80" cy="185.20" rx="6.8" ry="3.9" fill="url(#gn)"/>
<ellipse cx="594.80" cy="221.80" rx="6.8" ry="3.9" fill="url(#gn)"/>
<ellipse cx="594.80" cy="258.40" rx="6.8" ry="3.9" fill="url(#gn)"/>
<ellipse cx="607.40" cy="166.90" rx="6.8" ry="3.9" fill="url(#gn)"/>
<ellipse cx="607.40" cy="203.50" rx="6.8" ry="3.9" fill="url(#gn)"/>
<ellipse cx="607.40" cy="240.10" rx="6.8" ry="3.9" fill="url(#gn)"/>
<ellipse cx="620.00" cy="148.60" rx="6.8" ry="3.9" fill="url(#gn)"/>
<ellipse cx="620.00" cy="185.20" rx="6.8" ry="3.9" fill="url(#gn)"/>
<ellipse cx="620.00" cy="221.80" rx="6.8" ry="3.9" fill="url(#gn)"/>
<ellipse cx="620.00" cy="258.40" rx="6.8" ry="3.9" fill="url(#gn)"/>
<ellipse cx="632.60" cy="166.90" rx="6.8" ry="3.9" fill="url(#gn)"/>
<ellipse cx="632.60" cy="203.50" rx="6.8" ry="3.9" fill="url(#gn)"/>
<ellipse cx="632.60" cy="240.10" rx="6.8" ry="3.9" fill="url(#gn)"/>
<ellipse cx="645.20" cy="148.60" rx="6.8" ry="3.9" fill="url(#gn)"/>
<ellipse cx="645.20" cy="185.20" rx="6.8" ry="3.9" fill="url(#gn)"/>
<ellipse cx="645.20" cy="221.80" rx="6.8" ry="3.9" fill="url(#gn)"/>
<ellipse cx="645.20" cy="258.40" rx="6.8" ry="3.9" fill="url(#gn)"/>
<ellipse cx="594.80" cy="148.60" rx="9.6" ry="9.0" fill="url(#gh)"/>
<ellipse cx="632.60" cy="203.50" rx="11.0" ry="9.8" fill="url(#gh)"/>
<ellipse cx="594.80" cy="258.40" rx="9.6" ry="9.0" fill="url(#gh)"/>
<ellipse cx="557.00" cy="203.50" rx="11.0" ry="9.8" fill="url(#gh)"/>
</g>
<line x1="594.80" y1="148.60" x2="632.60" y2="203.50" stroke="#111" stroke-width="0.95"/>
<line x1="594.80" y1="148.60" x2="557.00" y2="203.50" stroke="#111" stroke-width="0.95"/>
<line x1="582.20" y1="166.90" x2="620.00" y2="221.80" stroke="#111" stroke-width="0.95"/>
<line x1="607.40" y1="166.90" x2="569.60" y2="221.80" stroke="#111" stroke-width="0.95"/>
<line x1="569.60" y1="185.20" x2="607.40" y2="240.10" stroke="#111" stroke-width="0.95"/>
<line x1="620.00" y1="185.20" x2="582.20" y2="240.10" stroke="#111" stroke-width="0.95"/>
<line x1="557.00" y1="203.50" x2="594.80" y2="258.40" stroke="#111" stroke-width="0.95"/>
<line x1="632.60" y1="203.50" x2="594.80" y2="258.40" stroke="#111" stroke-width="0.95"/>
<clipPath id="clha"><rect x="550" y="148.4" width="90" height="110.0"/></clipPath><g clip-path="url(#clha)">
<circle cx="557.00" cy="203.50" r="1.05" fill="#000"/>
<circle cx="569.60" cy="185.20" r="1.05" fill="#000"/>
<circle cx="569.60" cy="197.40" r="1.05" fill="#000"/>
<circle cx="569.60" cy="209.60" r="1.05" fill="#000"/>
<circle cx="569.60" cy="221.80" r="1.05" fill="#000"/>
<circle cx="582.20" cy="166.90" r="1.05" fill="#000"/>
<circle cx="582.20" cy="179.10" r="1.05" fill="#000"/>
<circle cx="582.20" cy="191.30" r="1.05" fill="#000"/>
<circle cx="582.20" cy="203.50" r="1.05" fill="#000"/>
<circle cx="582.20" cy="215.70" r="1.05" fill="#000"/>
<circle cx="582.20" cy="227.90" r="1.05" fill="#000"/>
<circle cx="582.20" cy="240.10" r="1.05" fill="#000"/>
<circle cx="594.80" cy="148.60" r="1.05" fill="#000"/>
<circle cx="594.80" cy="160.80" r="1.05" fill="#000"/>
<circle cx="594.80" cy="173.00" r="1.05" fill="#000"/>
<circle cx="594.80" cy="185.20" r="1.05" fill="#000"/>
<circle cx="594.80" cy="197.40" r="1.05" fill="#000"/>
<circle cx="594.80" cy="209.60" r="1.05" fill="#000"/>
<circle cx="594.80" cy="221.80" r="1.05" fill="#000"/>
<circle cx="594.80" cy="234.00" r="1.05" fill="#000"/>
<circle cx="594.80" cy="246.20" r="1.05" fill="#000"/>
<circle cx="594.80" cy="258.40" r="1.05" fill="#000"/>
<circle cx="607.40" cy="166.90" r="1.05" fill="#000"/>
<circle cx="607.40" cy="179.10" r="1.05" fill="#000"/>
<circle cx="607.40" cy="191.30" r="1.05" fill="#000"/>
<circle cx="607.40" cy="203.50" r="1.05" fill="#000"/>
<circle cx="607.40" cy="215.70" r="1.05" fill="#000"/>
<circle cx="607.40" cy="227.90" r="1.05" fill="#000"/>
<circle cx="607.40" cy="240.10" r="1.05" fill="#000"/>
<circle cx="620.00" cy="185.20" r="1.05" fill="#000"/>
<circle cx="620.00" cy="197.40" r="1.05" fill="#000"/>
<circle cx="620.00" cy="209.60" r="1.05" fill="#000"/>
<circle cx="620.00" cy="221.80" r="1.05" fill="#000"/>
<circle cx="632.60" cy="203.50" r="1.05" fill="#000"/>
</g>
<text x="563.40" y="160.00" font-size="10.4" text-anchor="start" fill="#000" >(h)</text>
<linearGradient id="cbh" x1="0" y1="0" x2="0" y2="1"><stop offset="0.0000" stop-color="#700000"/><stop offset="0.0417" stop-color="#710000"/><stop offset="0.0833" stop-color="#730000"/><stop offset="0.1250" stop-color="#740000"/><stop offset="0.1667" stop-color="#750000"/><stop offset="0.2083" stop-color="#770000"/><stop offset="0.2500" stop-color="#780000"/><stop offset="0.2917" stop-color="#840305"/><stop offset="0.3333" stop-color="#90060a"/><stop offset="0.3750" stop-color="#9c0910"/><stop offset="0.4167" stop-color="#a90c15"/><stop offset="0.4583" stop-color="#b50f1a"/><stop offset="0.5000" stop-color="#c1121f"/><stop offset="0.5417" stop-color="#cb373d"/><stop offset="0.5833" stop-color="#d55c5c"/><stop offset="0.6250" stop-color="#df817a"/><stop offset="0.6667" stop-color="#e9a698"/><stop offset="0.7083" stop-color="#f3cbb7"/><stop offset="0.7500" stop-color="#fdf0d5"/><stop offset="0.7917" stop-color="#e4e2d1"/><stop offset="0.8333" stop-color="#cbd4cd"/><stop offset="0.8750" stop-color="#b2c6c8"/><stop offset="0.9167" stop-color="#98b7c4"/><stop offset="0.9583" stop-color="#7fa9c0"/><stop offset="1.0000" stop-color="#669bbc"/></linearGradient>
<rect x="640.4" y="148.3" width="6.0" height="109.79999999999995" fill="url(#cbh)" stroke="#000" stroke-width="0.9"/>
<line x1="646.40" y1="245.55" x2="649.80" y2="245.55" stroke="#000" stroke-width="1.1"/>
<text x="653.90" y="249.55" font-size="10.85" text-anchor="start" fill="#000" >0.8</text>
<line x1="646.40" y1="196.93" x2="649.80" y2="196.93" stroke="#000" stroke-width="1.1"/>
<text x="653.90" y="200.93" font-size="10.85" text-anchor="start" fill="#000" >0.9</text>
<line x1="646.40" y1="148.30" x2="649.80" y2="148.30" stroke="#000" stroke-width="1.1"/>
<text x="653.90" y="152.30" font-size="10.85" text-anchor="start" fill="#000" >1.0</text>
<text transform="translate(683.30,204.00) rotate(-90)" font-size="10.9" text-anchor="middle">Pair correlation <tspan font-style="italic">G</tspan>(<tspan font-weight="bold">r</tspan>)</text>
<line x1="591.00" y1="260.60" x2="582.32" y2="248.16" stroke="#000" stroke-width="1.4"/>
<polygon points="579.00,243.40 585.27,247.32 580.51,250.64" fill="#000"/>
<line x1="598.40" y1="260.60" x2="607.24" y2="248.13" stroke="#000" stroke-width="1.4"/>
<polygon points="610.60,243.40 609.03,250.62 604.30,247.27" fill="#000"/>
<text x="559.6" y="260.7" font-size="9.5"><tspan font-size="10.4">√</tspan><tspan dx="-0.3">3</tspan><tspan font-style="italic" dx="1.0">a</tspan><tspan font-size="6.8" dy="1.7" font-style="italic" dx="-0.9">m</tspan></text>
<text x="605.6" y="260.7" font-size="9.5"><tspan font-size="10.4">√</tspan><tspan dx="-0.3">3</tspan><tspan font-style="italic" dx="1.0">a</tspan><tspan font-size="6.8" dy="1.7" font-style="italic" dx="-0.9">m</tspan></text>
<line x1="566.00" y1="251.30" x2="572.60" y2="251.30" stroke="#000" stroke-width="0.8"/>
<line x1="612.00" y1="251.30" x2="618.60" y2="251.30" stroke="#000" stroke-width="0.8"/>
</svg>
</body></html>
